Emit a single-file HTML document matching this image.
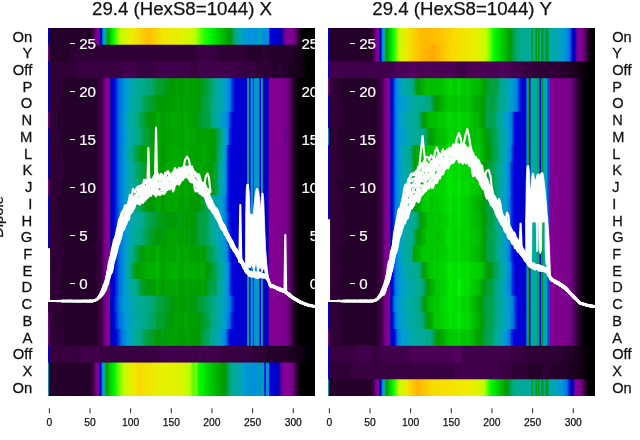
<!DOCTYPE html>
<html><head><meta charset="utf-8"><title>chart</title>
<style>
html,body{margin:0;padding:0;background:#fff;}
body{width:640px;height:440px;overflow:hidden;font-family:"Liberation Sans",sans-serif;}
svg{display:block;will-change:transform;}
text{font-family:"Liberation Sans",sans-serif;font-size:14px;fill:#111;stroke:#111;stroke-width:0.25px;}
.xt{font-size:10.3px;}
.w{fill:#fff;stroke:#fff;stroke-width:0.2px;}
.ti{font-size:17.6px;}
</style></head><body>
<svg width="640" height="440" viewBox="0 0 640 440">
<defs>
<linearGradient id="g0_0"><stop offset="0.15%" stop-color="#0000dd"/><stop offset="0.46%" stop-color="#25002b"/><stop offset="16.06%" stop-color="#25002b"/><stop offset="17.28%" stop-color="#4b0055"/><stop offset="17.89%" stop-color="#7a008b"/><stop offset="19.11%" stop-color="#83009a"/><stop offset="19.42%" stop-color="#2300a6"/><stop offset="19.72%" stop-color="#0000bd"/><stop offset="20.03%" stop-color="#0000dd"/><stop offset="20.34%" stop-color="#005ddd"/><stop offset="20.64%" stop-color="#008ddd"/><stop offset="21.25%" stop-color="#00aaa8"/><stop offset="21.56%" stop-color="#00aa93"/><stop offset="21.87%" stop-color="#00a668"/><stop offset="22.17%" stop-color="#009b13"/><stop offset="22.48%" stop-color="#00a200"/><stop offset="24.31%" stop-color="#00f700"/><stop offset="24.92%" stop-color="#1dff00"/><stop offset="25.54%" stop-color="#58ff00"/><stop offset="25.84%" stop-color="#67ff00"/><stop offset="26.45%" stop-color="#a1ff00"/><stop offset="27.06%" stop-color="#bcff00"/><stop offset="31.35%" stop-color="#efed00"/><stop offset="37.77%" stop-color="#ffbd00"/><stop offset="43.27%" stop-color="#f1e700"/><stop offset="50.61%" stop-color="#e4f100"/><stop offset="54.89%" stop-color="#bcff00"/><stop offset="55.81%" stop-color="#a1ff00"/><stop offset="58.26%" stop-color="#2cff00"/><stop offset="58.56%" stop-color="#2cff00"/><stop offset="58.87%" stop-color="#1dff00"/><stop offset="59.17%" stop-color="#1dff00"/><stop offset="59.48%" stop-color="#0fff00"/><stop offset="59.79%" stop-color="#0fff00"/><stop offset="60.09%" stop-color="#00ff00"/><stop offset="68.04%" stop-color="#009c00"/><stop offset="68.35%" stop-color="#009a08"/><stop offset="70.18%" stop-color="#00aa88"/><stop offset="72.32%" stop-color="#00a6b7"/><stop offset="74.46%" stop-color="#0092dd"/><stop offset="74.77%" stop-color="#00aaa3"/><stop offset="75.08%" stop-color="#0092dd"/><stop offset="75.99%" stop-color="#0092dd"/><stop offset="76.30%" stop-color="#00aaa3"/><stop offset="76.61%" stop-color="#0092dd"/><stop offset="78.75%" stop-color="#0092dd"/><stop offset="79.05%" stop-color="#00aaa3"/><stop offset="79.36%" stop-color="#0092dd"/><stop offset="79.66%" stop-color="#00aaab"/><stop offset="79.97%" stop-color="#0092dd"/><stop offset="82.72%" stop-color="#008ddd"/><stop offset="83.03%" stop-color="#0000dd"/><stop offset="86.39%" stop-color="#0000c5"/><stop offset="87.31%" stop-color="#0000ad"/><stop offset="87.92%" stop-color="#2d00a4"/><stop offset="88.53%" stop-color="#63009e"/><stop offset="89.45%" stop-color="#83009a"/><stop offset="91.28%" stop-color="#7f0090"/><stop offset="92.20%" stop-color="#770088"/><stop offset="94.04%" stop-color="#25002b"/><stop offset="95.26%" stop-color="#000000"/><stop offset="99.85%" stop-color="#000000"/></linearGradient>
<linearGradient id="g0_1"><stop offset="0.15%" stop-color="#7d008e"/><stop offset="0.46%" stop-color="#25002b"/><stop offset="7.80%" stop-color="#25002b"/><stop offset="8.41%" stop-color="#2f0035"/><stop offset="55.20%" stop-color="#2f0035"/><stop offset="55.81%" stop-color="#380040"/><stop offset="63.15%" stop-color="#380040"/><stop offset="63.76%" stop-color="#2f0035"/><stop offset="74.46%" stop-color="#2f0035"/><stop offset="75.08%" stop-color="#25002b"/><stop offset="79.97%" stop-color="#25002b"/><stop offset="80.58%" stop-color="#2f0035"/><stop offset="81.80%" stop-color="#2f0035"/><stop offset="82.42%" stop-color="#25002b"/><stop offset="91.59%" stop-color="#25002b"/><stop offset="92.20%" stop-color="#1c0020"/><stop offset="93.73%" stop-color="#1c0020"/><stop offset="94.34%" stop-color="#130015"/><stop offset="95.26%" stop-color="#130015"/><stop offset="95.87%" stop-color="#09000b"/><stop offset="96.79%" stop-color="#09000b"/><stop offset="97.40%" stop-color="#000000"/><stop offset="99.85%" stop-color="#000000"/></linearGradient>
<linearGradient id="g0_2"><stop offset="0.15%" stop-color="#0000dd"/><stop offset="0.46%" stop-color="#2f0035"/><stop offset="10.24%" stop-color="#2f0035"/><stop offset="10.86%" stop-color="#380040"/><stop offset="27.68%" stop-color="#380040"/><stop offset="28.29%" stop-color="#41004b"/><stop offset="32.57%" stop-color="#41004b"/><stop offset="33.18%" stop-color="#380040"/><stop offset="39.91%" stop-color="#380040"/><stop offset="40.52%" stop-color="#41004b"/><stop offset="52.75%" stop-color="#41004b"/><stop offset="53.36%" stop-color="#380040"/><stop offset="55.81%" stop-color="#380040"/><stop offset="56.42%" stop-color="#41004b"/><stop offset="70.49%" stop-color="#41004b"/><stop offset="71.10%" stop-color="#380040"/><stop offset="77.52%" stop-color="#380040"/><stop offset="78.13%" stop-color="#2f0035"/><stop offset="83.64%" stop-color="#2f0035"/><stop offset="84.25%" stop-color="#25002b"/><stop offset="85.47%" stop-color="#25002b"/><stop offset="86.09%" stop-color="#2f0035"/><stop offset="87.31%" stop-color="#2f0035"/><stop offset="87.92%" stop-color="#25002b"/><stop offset="89.76%" stop-color="#25002b"/><stop offset="90.37%" stop-color="#1c0020"/><stop offset="93.12%" stop-color="#1c0020"/><stop offset="93.73%" stop-color="#130015"/><stop offset="94.95%" stop-color="#130015"/><stop offset="95.57%" stop-color="#09000b"/><stop offset="96.48%" stop-color="#09000b"/><stop offset="97.09%" stop-color="#000000"/><stop offset="99.85%" stop-color="#000000"/></linearGradient>
<linearGradient id="g0_3"><stop offset="0.15%" stop-color="#0000dd"/><stop offset="0.46%" stop-color="#2f0035"/><stop offset="5.35%" stop-color="#2f0035"/><stop offset="5.96%" stop-color="#25002b"/><stop offset="17.89%" stop-color="#25002b"/><stop offset="18.50%" stop-color="#2f0035"/><stop offset="19.72%" stop-color="#380040"/><stop offset="20.34%" stop-color="#4b0055"/><stop offset="21.25%" stop-color="#770088"/><stop offset="23.09%" stop-color="#870098"/><stop offset="23.39%" stop-color="#1800a7"/><stop offset="23.70%" stop-color="#0000c1"/><stop offset="24.62%" stop-color="#0000dd"/><stop offset="25.23%" stop-color="#001cdd"/><stop offset="26.76%" stop-color="#0070dd"/><stop offset="28.90%" stop-color="#0098dd"/><stop offset="31.96%" stop-color="#00aaa5"/><stop offset="36.24%" stop-color="#00aa88"/><stop offset="37.46%" stop-color="#00a773"/><stop offset="38.38%" stop-color="#00a773"/><stop offset="38.99%" stop-color="#00a668"/><stop offset="39.60%" stop-color="#00a668"/><stop offset="39.91%" stop-color="#00a353"/><stop offset="40.21%" stop-color="#00a353"/><stop offset="40.52%" stop-color="#009f33"/><stop offset="41.13%" stop-color="#009f33"/><stop offset="41.74%" stop-color="#009e28"/><stop offset="42.66%" stop-color="#009f33"/><stop offset="43.27%" stop-color="#009e28"/><stop offset="43.58%" stop-color="#009e28"/><stop offset="43.88%" stop-color="#009b13"/><stop offset="44.50%" stop-color="#009b13"/><stop offset="45.11%" stop-color="#009a08"/><stop offset="47.55%" stop-color="#009c00"/><stop offset="48.17%" stop-color="#00a400"/><stop offset="48.78%" stop-color="#009a00"/><stop offset="49.08%" stop-color="#00ac00"/><stop offset="49.39%" stop-color="#009a00"/><stop offset="50.61%" stop-color="#009a00"/><stop offset="51.22%" stop-color="#00a400"/><stop offset="51.83%" stop-color="#00a400"/><stop offset="52.45%" stop-color="#009a08"/><stop offset="52.75%" stop-color="#00af00"/><stop offset="53.06%" stop-color="#009a08"/><stop offset="54.28%" stop-color="#00a200"/><stop offset="56.42%" stop-color="#009a00"/><stop offset="57.34%" stop-color="#009b13"/><stop offset="57.95%" stop-color="#009e28"/><stop offset="58.56%" stop-color="#009e28"/><stop offset="59.79%" stop-color="#00a13d"/><stop offset="60.40%" stop-color="#00a248"/><stop offset="61.62%" stop-color="#00a773"/><stop offset="61.93%" stop-color="#00aa88"/><stop offset="65.29%" stop-color="#00a6b7"/><stop offset="66.82%" stop-color="#0098dd"/><stop offset="68.04%" stop-color="#0080dd"/><stop offset="68.35%" stop-color="#0070dd"/><stop offset="68.96%" stop-color="#0038dd"/><stop offset="70.18%" stop-color="#0000dd"/><stop offset="74.16%" stop-color="#0000c9"/><stop offset="74.46%" stop-color="#0000d1"/><stop offset="74.77%" stop-color="#00aa95"/><stop offset="75.08%" stop-color="#00aaa3"/><stop offset="75.38%" stop-color="#0000d1"/><stop offset="75.69%" stop-color="#0000d1"/><stop offset="75.99%" stop-color="#008add"/><stop offset="76.30%" stop-color="#0092dd"/><stop offset="76.61%" stop-color="#008add"/><stop offset="76.91%" stop-color="#0000dd"/><stop offset="77.22%" stop-color="#0092dd"/><stop offset="78.13%" stop-color="#0098dd"/><stop offset="78.44%" stop-color="#00aa9d"/><stop offset="78.75%" stop-color="#00aaa3"/><stop offset="79.05%" stop-color="#0092dd"/><stop offset="79.36%" stop-color="#0000dd"/><stop offset="79.66%" stop-color="#0000d1"/><stop offset="79.97%" stop-color="#00aaa3"/><stop offset="80.28%" stop-color="#00aaab"/><stop offset="80.58%" stop-color="#0000d1"/><stop offset="80.89%" stop-color="#0000c1"/><stop offset="81.19%" stop-color="#0000cd"/><stop offset="81.50%" stop-color="#0000bd"/><stop offset="81.80%" stop-color="#0000c9"/><stop offset="82.42%" stop-color="#0300aa"/><stop offset="82.72%" stop-color="#63009e"/><stop offset="83.03%" stop-color="#850096"/><stop offset="89.76%" stop-color="#79008a"/><stop offset="90.67%" stop-color="#5d006b"/><stop offset="91.28%" stop-color="#41004b"/><stop offset="92.51%" stop-color="#1c0020"/><stop offset="93.12%" stop-color="#130015"/><stop offset="94.34%" stop-color="#000000"/><stop offset="99.85%" stop-color="#000000"/></linearGradient>
<linearGradient id="g0_4"><stop offset="0.15%" stop-color="#0000dd"/><stop offset="0.46%" stop-color="#2f0035"/><stop offset="4.43%" stop-color="#2f0035"/><stop offset="5.05%" stop-color="#25002b"/><stop offset="17.89%" stop-color="#25002b"/><stop offset="18.50%" stop-color="#2f0035"/><stop offset="19.72%" stop-color="#380040"/><stop offset="20.34%" stop-color="#4b0055"/><stop offset="21.25%" stop-color="#770088"/><stop offset="23.09%" stop-color="#870098"/><stop offset="23.39%" stop-color="#1800a7"/><stop offset="23.70%" stop-color="#0000c1"/><stop offset="24.62%" stop-color="#0000dd"/><stop offset="25.23%" stop-color="#001cdd"/><stop offset="26.76%" stop-color="#0070dd"/><stop offset="29.20%" stop-color="#009bd7"/><stop offset="31.65%" stop-color="#00aaa0"/><stop offset="34.71%" stop-color="#00aa88"/><stop offset="36.24%" stop-color="#00a353"/><stop offset="37.77%" stop-color="#00a13d"/><stop offset="39.30%" stop-color="#009e28"/><stop offset="40.21%" stop-color="#009d1d"/><stop offset="40.52%" stop-color="#009a00"/><stop offset="40.83%" stop-color="#009a08"/><stop offset="42.05%" stop-color="#009c00"/><stop offset="42.35%" stop-color="#009a08"/><stop offset="43.58%" stop-color="#009a00"/><stop offset="47.86%" stop-color="#00a200"/><stop offset="48.17%" stop-color="#00a700"/><stop offset="48.78%" stop-color="#009c00"/><stop offset="49.08%" stop-color="#00af00"/><stop offset="49.39%" stop-color="#009c00"/><stop offset="50.61%" stop-color="#009c00"/><stop offset="50.92%" stop-color="#00a700"/><stop offset="51.83%" stop-color="#00a400"/><stop offset="52.45%" stop-color="#009a00"/><stop offset="52.75%" stop-color="#00af00"/><stop offset="53.06%" stop-color="#009a08"/><stop offset="54.28%" stop-color="#00a200"/><stop offset="56.12%" stop-color="#009a00"/><stop offset="56.73%" stop-color="#009b13"/><stop offset="57.34%" stop-color="#009d1d"/><stop offset="58.56%" stop-color="#00a13d"/><stop offset="59.79%" stop-color="#00a248"/><stop offset="61.01%" stop-color="#00a668"/><stop offset="62.23%" stop-color="#00aa8b"/><stop offset="65.29%" stop-color="#00a6b7"/><stop offset="66.82%" stop-color="#0098dd"/><stop offset="68.04%" stop-color="#0080dd"/><stop offset="68.35%" stop-color="#0070dd"/><stop offset="68.96%" stop-color="#0038dd"/><stop offset="70.18%" stop-color="#0000dd"/><stop offset="74.16%" stop-color="#0000c9"/><stop offset="74.46%" stop-color="#0000d1"/><stop offset="74.77%" stop-color="#00aa95"/><stop offset="75.08%" stop-color="#00aaa3"/><stop offset="75.38%" stop-color="#0000d1"/><stop offset="75.69%" stop-color="#0000d1"/><stop offset="75.99%" stop-color="#008add"/><stop offset="76.30%" stop-color="#0092dd"/><stop offset="76.61%" stop-color="#008add"/><stop offset="76.91%" stop-color="#0000dd"/><stop offset="77.22%" stop-color="#0092dd"/><stop offset="78.13%" stop-color="#0098dd"/><stop offset="78.44%" stop-color="#00aa9d"/><stop offset="78.75%" stop-color="#00aaa3"/><stop offset="79.05%" stop-color="#0092dd"/><stop offset="79.36%" stop-color="#0000dd"/><stop offset="79.66%" stop-color="#0000d1"/><stop offset="79.97%" stop-color="#00aaa3"/><stop offset="80.28%" stop-color="#00aaab"/><stop offset="80.58%" stop-color="#0000d1"/><stop offset="80.89%" stop-color="#0000c1"/><stop offset="81.19%" stop-color="#0000cd"/><stop offset="81.50%" stop-color="#0000bd"/><stop offset="81.80%" stop-color="#0000c9"/><stop offset="82.42%" stop-color="#0300aa"/><stop offset="82.72%" stop-color="#63009e"/><stop offset="83.03%" stop-color="#850096"/><stop offset="89.76%" stop-color="#79008a"/><stop offset="90.67%" stop-color="#5d006b"/><stop offset="91.28%" stop-color="#41004b"/><stop offset="92.51%" stop-color="#1c0020"/><stop offset="93.12%" stop-color="#130015"/><stop offset="94.34%" stop-color="#000000"/><stop offset="99.85%" stop-color="#000000"/></linearGradient>
<linearGradient id="g0_5"><stop offset="0.15%" stop-color="#810092"/><stop offset="0.46%" stop-color="#2f0035"/><stop offset="3.21%" stop-color="#2f0035"/><stop offset="3.82%" stop-color="#25002b"/><stop offset="17.89%" stop-color="#25002b"/><stop offset="18.50%" stop-color="#2f0035"/><stop offset="19.72%" stop-color="#380040"/><stop offset="20.34%" stop-color="#4b0055"/><stop offset="21.25%" stop-color="#770088"/><stop offset="23.09%" stop-color="#870098"/><stop offset="23.39%" stop-color="#1800a7"/><stop offset="23.70%" stop-color="#0000c1"/><stop offset="24.62%" stop-color="#0000dd"/><stop offset="25.23%" stop-color="#001cdd"/><stop offset="26.76%" stop-color="#0070dd"/><stop offset="28.90%" stop-color="#009bd7"/><stop offset="30.73%" stop-color="#00aaa3"/><stop offset="33.18%" stop-color="#00aa88"/><stop offset="34.10%" stop-color="#00a668"/><stop offset="34.71%" stop-color="#00a55d"/><stop offset="36.24%" stop-color="#009e28"/><stop offset="37.46%" stop-color="#009b13"/><stop offset="38.07%" stop-color="#009a08"/><stop offset="39.30%" stop-color="#009a00"/><stop offset="39.60%" stop-color="#009a08"/><stop offset="40.21%" stop-color="#009a00"/><stop offset="40.52%" stop-color="#00af00"/><stop offset="41.13%" stop-color="#00a700"/><stop offset="42.05%" stop-color="#00aa00"/><stop offset="42.35%" stop-color="#009a00"/><stop offset="43.27%" stop-color="#009a08"/><stop offset="44.50%" stop-color="#00a200"/><stop offset="46.94%" stop-color="#00aa00"/><stop offset="48.17%" stop-color="#00aa00"/><stop offset="48.47%" stop-color="#009c00"/><stop offset="48.78%" stop-color="#009c00"/><stop offset="49.08%" stop-color="#00b700"/><stop offset="49.39%" stop-color="#00a400"/><stop offset="50.61%" stop-color="#00a200"/><stop offset="51.22%" stop-color="#00ac00"/><stop offset="51.83%" stop-color="#00aa00"/><stop offset="52.45%" stop-color="#009c00"/><stop offset="52.75%" stop-color="#00b400"/><stop offset="53.06%" stop-color="#009c00"/><stop offset="53.98%" stop-color="#00a400"/><stop offset="55.20%" stop-color="#009a08"/><stop offset="55.50%" stop-color="#009b13"/><stop offset="55.81%" stop-color="#009a08"/><stop offset="57.34%" stop-color="#009e28"/><stop offset="57.95%" stop-color="#00a13d"/><stop offset="58.56%" stop-color="#00a248"/><stop offset="59.17%" stop-color="#00a13d"/><stop offset="60.40%" stop-color="#00a248"/><stop offset="61.31%" stop-color="#00a773"/><stop offset="61.62%" stop-color="#00aa8b"/><stop offset="64.68%" stop-color="#00a4bb"/><stop offset="65.29%" stop-color="#009ecf"/><stop offset="66.82%" stop-color="#008add"/><stop offset="67.43%" stop-color="#007ddd"/><stop offset="68.65%" stop-color="#001cdd"/><stop offset="69.27%" stop-color="#0000dd"/><stop offset="74.16%" stop-color="#0000c9"/><stop offset="74.46%" stop-color="#0000d1"/><stop offset="74.77%" stop-color="#00aa95"/><stop offset="75.08%" stop-color="#00aaa3"/><stop offset="75.38%" stop-color="#0000d1"/><stop offset="75.69%" stop-color="#0000d1"/><stop offset="75.99%" stop-color="#008add"/><stop offset="76.30%" stop-color="#0092dd"/><stop offset="76.61%" stop-color="#008add"/><stop offset="76.91%" stop-color="#0000dd"/><stop offset="77.22%" stop-color="#0092dd"/><stop offset="78.13%" stop-color="#0098dd"/><stop offset="78.44%" stop-color="#00aa9d"/><stop offset="78.75%" stop-color="#00aaa3"/><stop offset="79.05%" stop-color="#0092dd"/><stop offset="79.36%" stop-color="#0000dd"/><stop offset="79.66%" stop-color="#0000d1"/><stop offset="79.97%" stop-color="#00aaa3"/><stop offset="80.28%" stop-color="#00aaab"/><stop offset="80.58%" stop-color="#0000d1"/><stop offset="80.89%" stop-color="#0000c1"/><stop offset="81.19%" stop-color="#0000cd"/><stop offset="81.50%" stop-color="#0000bd"/><stop offset="81.80%" stop-color="#0000c9"/><stop offset="82.42%" stop-color="#0300aa"/><stop offset="82.72%" stop-color="#63009e"/><stop offset="83.03%" stop-color="#850096"/><stop offset="89.76%" stop-color="#79008a"/><stop offset="90.67%" stop-color="#5d006b"/><stop offset="91.28%" stop-color="#41004b"/><stop offset="92.51%" stop-color="#1c0020"/><stop offset="93.12%" stop-color="#130015"/><stop offset="94.34%" stop-color="#000000"/><stop offset="99.85%" stop-color="#000000"/></linearGradient>
<linearGradient id="g0_6"><stop offset="0.15%" stop-color="#0000dd"/><stop offset="0.46%" stop-color="#2f0035"/><stop offset="4.43%" stop-color="#2f0035"/><stop offset="5.05%" stop-color="#25002b"/><stop offset="17.89%" stop-color="#25002b"/><stop offset="18.50%" stop-color="#2f0035"/><stop offset="19.72%" stop-color="#380040"/><stop offset="20.34%" stop-color="#4b0055"/><stop offset="21.25%" stop-color="#770088"/><stop offset="23.09%" stop-color="#870098"/><stop offset="23.39%" stop-color="#1800a7"/><stop offset="23.70%" stop-color="#0000c1"/><stop offset="24.62%" stop-color="#0000dd"/><stop offset="25.23%" stop-color="#001cdd"/><stop offset="26.76%" stop-color="#0070dd"/><stop offset="28.90%" stop-color="#0098dd"/><stop offset="30.43%" stop-color="#00aaab"/><stop offset="33.79%" stop-color="#00aa88"/><stop offset="35.02%" stop-color="#00a668"/><stop offset="35.63%" stop-color="#00a353"/><stop offset="35.93%" stop-color="#00a353"/><stop offset="36.24%" stop-color="#00a13d"/><stop offset="37.77%" stop-color="#009e28"/><stop offset="39.91%" stop-color="#009a08"/><stop offset="40.21%" stop-color="#009a08"/><stop offset="40.52%" stop-color="#00ac00"/><stop offset="42.05%" stop-color="#00aa00"/><stop offset="42.35%" stop-color="#009c00"/><stop offset="43.58%" stop-color="#009c00"/><stop offset="44.19%" stop-color="#00a700"/><stop offset="45.41%" stop-color="#009f00"/><stop offset="48.17%" stop-color="#00aa00"/><stop offset="48.47%" stop-color="#009c00"/><stop offset="48.78%" stop-color="#009c00"/><stop offset="49.08%" stop-color="#00b200"/><stop offset="49.39%" stop-color="#00a200"/><stop offset="50.61%" stop-color="#009f00"/><stop offset="51.22%" stop-color="#00aa00"/><stop offset="51.83%" stop-color="#00ac00"/><stop offset="52.45%" stop-color="#00a200"/><stop offset="52.75%" stop-color="#00ba00"/><stop offset="53.06%" stop-color="#00a200"/><stop offset="54.28%" stop-color="#00aa00"/><stop offset="56.73%" stop-color="#009c00"/><stop offset="57.34%" stop-color="#00a400"/><stop offset="61.93%" stop-color="#009c00"/><stop offset="62.54%" stop-color="#009b13"/><stop offset="63.15%" stop-color="#009f33"/><stop offset="64.07%" stop-color="#00a353"/><stop offset="64.37%" stop-color="#00a353"/><stop offset="64.98%" stop-color="#00aa8b"/><stop offset="66.51%" stop-color="#009fcb"/><stop offset="66.82%" stop-color="#009adb"/><stop offset="67.43%" stop-color="#0082dd"/><stop offset="67.74%" stop-color="#005ddd"/><stop offset="68.04%" stop-color="#0025dd"/><stop offset="68.65%" stop-color="#0013dd"/><stop offset="68.96%" stop-color="#0000dd"/><stop offset="74.16%" stop-color="#0000c9"/><stop offset="74.46%" stop-color="#0000d1"/><stop offset="74.77%" stop-color="#00aa95"/><stop offset="75.08%" stop-color="#00aaa3"/><stop offset="75.38%" stop-color="#0000d1"/><stop offset="75.69%" stop-color="#0000d1"/><stop offset="75.99%" stop-color="#008add"/><stop offset="76.30%" stop-color="#0092dd"/><stop offset="76.61%" stop-color="#008add"/><stop offset="76.91%" stop-color="#0000dd"/><stop offset="77.22%" stop-color="#0092dd"/><stop offset="78.13%" stop-color="#0098dd"/><stop offset="78.44%" stop-color="#00aa9d"/><stop offset="78.75%" stop-color="#00aaa3"/><stop offset="79.05%" stop-color="#0092dd"/><stop offset="79.36%" stop-color="#0000dd"/><stop offset="79.66%" stop-color="#0000d1"/><stop offset="79.97%" stop-color="#00aaa3"/><stop offset="80.28%" stop-color="#00aaab"/><stop offset="80.58%" stop-color="#0000d1"/><stop offset="80.89%" stop-color="#0000c1"/><stop offset="81.19%" stop-color="#0000cd"/><stop offset="81.50%" stop-color="#0000bd"/><stop offset="81.80%" stop-color="#0000c9"/><stop offset="82.42%" stop-color="#0300aa"/><stop offset="82.72%" stop-color="#63009e"/><stop offset="83.03%" stop-color="#850096"/><stop offset="88.53%" stop-color="#7d008e"/><stop offset="88.84%" stop-color="#0000d1"/><stop offset="89.14%" stop-color="#7a008b"/><stop offset="90.06%" stop-color="#700080"/><stop offset="90.67%" stop-color="#5d006b"/><stop offset="91.28%" stop-color="#41004b"/><stop offset="92.51%" stop-color="#1c0020"/><stop offset="93.12%" stop-color="#130015"/><stop offset="94.34%" stop-color="#000000"/><stop offset="99.85%" stop-color="#000000"/></linearGradient>
<linearGradient id="g0_7"><stop offset="0.15%" stop-color="#0000dd"/><stop offset="0.46%" stop-color="#2f0035"/><stop offset="5.35%" stop-color="#2f0035"/><stop offset="5.96%" stop-color="#25002b"/><stop offset="17.89%" stop-color="#25002b"/><stop offset="18.50%" stop-color="#2f0035"/><stop offset="19.72%" stop-color="#380040"/><stop offset="20.34%" stop-color="#4b0055"/><stop offset="21.25%" stop-color="#770088"/><stop offset="23.09%" stop-color="#870098"/><stop offset="23.39%" stop-color="#1800a7"/><stop offset="23.70%" stop-color="#0000c1"/><stop offset="24.62%" stop-color="#0000dd"/><stop offset="25.23%" stop-color="#001cdd"/><stop offset="26.76%" stop-color="#0070dd"/><stop offset="28.59%" stop-color="#0095dd"/><stop offset="30.43%" stop-color="#00aa9d"/><stop offset="31.65%" stop-color="#00aa88"/><stop offset="32.26%" stop-color="#00a668"/><stop offset="32.87%" stop-color="#00a248"/><stop offset="33.49%" stop-color="#00a13d"/><stop offset="34.10%" stop-color="#009e28"/><stop offset="34.71%" stop-color="#009d1d"/><stop offset="35.02%" stop-color="#009a08"/><stop offset="36.24%" stop-color="#00a200"/><stop offset="37.77%" stop-color="#00a700"/><stop offset="40.21%" stop-color="#009f00"/><stop offset="40.52%" stop-color="#00b400"/><stop offset="41.13%" stop-color="#00aa00"/><stop offset="42.05%" stop-color="#00aa00"/><stop offset="42.35%" stop-color="#009a00"/><stop offset="43.58%" stop-color="#009a00"/><stop offset="44.19%" stop-color="#00a400"/><stop offset="48.17%" stop-color="#00ac00"/><stop offset="48.47%" stop-color="#00a200"/><stop offset="48.78%" stop-color="#00a400"/><stop offset="49.08%" stop-color="#00b400"/><stop offset="49.39%" stop-color="#00a400"/><stop offset="50.61%" stop-color="#00a200"/><stop offset="51.22%" stop-color="#00ac00"/><stop offset="51.83%" stop-color="#00ac00"/><stop offset="52.45%" stop-color="#00a200"/><stop offset="52.75%" stop-color="#00b700"/><stop offset="53.06%" stop-color="#009c00"/><stop offset="54.28%" stop-color="#00a700"/><stop offset="55.50%" stop-color="#009f00"/><stop offset="56.73%" stop-color="#00a200"/><stop offset="57.95%" stop-color="#00aa00"/><stop offset="62.23%" stop-color="#009a00"/><stop offset="62.54%" stop-color="#009a08"/><stop offset="63.46%" stop-color="#00a353"/><stop offset="64.07%" stop-color="#00a668"/><stop offset="64.98%" stop-color="#00aa98"/><stop offset="65.90%" stop-color="#00a2c3"/><stop offset="66.51%" stop-color="#0090dd"/><stop offset="66.82%" stop-color="#007ddd"/><stop offset="67.13%" stop-color="#0041dd"/><stop offset="67.74%" stop-color="#0013dd"/><stop offset="68.35%" stop-color="#0000dd"/><stop offset="74.16%" stop-color="#0000c9"/><stop offset="74.46%" stop-color="#0000d1"/><stop offset="74.77%" stop-color="#00aa95"/><stop offset="75.08%" stop-color="#00aaa3"/><stop offset="75.38%" stop-color="#0000d1"/><stop offset="75.69%" stop-color="#0000d1"/><stop offset="75.99%" stop-color="#008add"/><stop offset="76.30%" stop-color="#0092dd"/><stop offset="76.61%" stop-color="#008add"/><stop offset="76.91%" stop-color="#0000dd"/><stop offset="77.22%" stop-color="#0092dd"/><stop offset="78.13%" stop-color="#0098dd"/><stop offset="78.44%" stop-color="#00aa9d"/><stop offset="78.75%" stop-color="#00aaa3"/><stop offset="79.05%" stop-color="#0092dd"/><stop offset="79.36%" stop-color="#0000dd"/><stop offset="79.66%" stop-color="#0000d1"/><stop offset="79.97%" stop-color="#00aaa3"/><stop offset="80.28%" stop-color="#00aaab"/><stop offset="80.58%" stop-color="#0000d1"/><stop offset="80.89%" stop-color="#0000c1"/><stop offset="81.19%" stop-color="#0000cd"/><stop offset="81.50%" stop-color="#0000bd"/><stop offset="81.80%" stop-color="#0000c9"/><stop offset="82.42%" stop-color="#0300aa"/><stop offset="82.72%" stop-color="#63009e"/><stop offset="83.03%" stop-color="#850096"/><stop offset="89.76%" stop-color="#79008a"/><stop offset="90.67%" stop-color="#5d006b"/><stop offset="91.28%" stop-color="#41004b"/><stop offset="92.51%" stop-color="#1c0020"/><stop offset="93.12%" stop-color="#130015"/><stop offset="94.34%" stop-color="#000000"/><stop offset="99.85%" stop-color="#000000"/></linearGradient>
<linearGradient id="g0_8"><stop offset="0.15%" stop-color="#0000dd"/><stop offset="0.46%" stop-color="#2f0035"/><stop offset="5.96%" stop-color="#2f0035"/><stop offset="6.57%" stop-color="#25002b"/><stop offset="17.89%" stop-color="#25002b"/><stop offset="18.50%" stop-color="#2f0035"/><stop offset="19.72%" stop-color="#380040"/><stop offset="20.34%" stop-color="#4b0055"/><stop offset="21.25%" stop-color="#770088"/><stop offset="23.09%" stop-color="#870098"/><stop offset="23.39%" stop-color="#1800a7"/><stop offset="23.70%" stop-color="#0000c1"/><stop offset="24.62%" stop-color="#0000dd"/><stop offset="25.23%" stop-color="#001cdd"/><stop offset="26.76%" stop-color="#0070dd"/><stop offset="28.90%" stop-color="#009adb"/><stop offset="30.73%" stop-color="#00aaa3"/><stop offset="32.57%" stop-color="#00aa8b"/><stop offset="32.87%" stop-color="#00a773"/><stop offset="34.10%" stop-color="#00a248"/><stop offset="34.40%" stop-color="#00a55d"/><stop offset="35.32%" stop-color="#00a13d"/><stop offset="35.93%" stop-color="#009f33"/><stop offset="36.85%" stop-color="#009b13"/><stop offset="38.99%" stop-color="#009f00"/><stop offset="40.21%" stop-color="#00a200"/><stop offset="40.52%" stop-color="#00b200"/><stop offset="41.74%" stop-color="#00aa00"/><stop offset="42.05%" stop-color="#00aa00"/><stop offset="42.35%" stop-color="#009a00"/><stop offset="43.58%" stop-color="#009a00"/><stop offset="43.88%" stop-color="#00aa00"/><stop offset="48.17%" stop-color="#00af00"/><stop offset="48.47%" stop-color="#00a200"/><stop offset="48.78%" stop-color="#00a200"/><stop offset="49.08%" stop-color="#00b400"/><stop offset="49.39%" stop-color="#00a400"/><stop offset="50.61%" stop-color="#00a400"/><stop offset="51.22%" stop-color="#00af00"/><stop offset="51.83%" stop-color="#00ac00"/><stop offset="52.45%" stop-color="#00a200"/><stop offset="52.75%" stop-color="#00ba00"/><stop offset="53.06%" stop-color="#00a200"/><stop offset="54.28%" stop-color="#00aa00"/><stop offset="56.73%" stop-color="#009f00"/><stop offset="57.03%" stop-color="#00aa00"/><stop offset="61.01%" stop-color="#009c00"/><stop offset="62.84%" stop-color="#00a13d"/><stop offset="63.15%" stop-color="#00a13d"/><stop offset="63.76%" stop-color="#00a773"/><stop offset="64.07%" stop-color="#00aa8b"/><stop offset="65.60%" stop-color="#00a3bf"/><stop offset="66.21%" stop-color="#0095dd"/><stop offset="66.82%" stop-color="#0078dd"/><stop offset="67.13%" stop-color="#0038dd"/><stop offset="67.74%" stop-color="#0013dd"/><stop offset="68.35%" stop-color="#0000dd"/><stop offset="74.16%" stop-color="#0000c9"/><stop offset="74.46%" stop-color="#0000d1"/><stop offset="74.77%" stop-color="#00aa95"/><stop offset="75.08%" stop-color="#00aaa3"/><stop offset="75.38%" stop-color="#0000d1"/><stop offset="75.69%" stop-color="#0000d1"/><stop offset="75.99%" stop-color="#008add"/><stop offset="76.30%" stop-color="#0092dd"/><stop offset="76.61%" stop-color="#008add"/><stop offset="76.91%" stop-color="#0000dd"/><stop offset="77.22%" stop-color="#0092dd"/><stop offset="78.13%" stop-color="#0098dd"/><stop offset="78.44%" stop-color="#00aa9d"/><stop offset="78.75%" stop-color="#00aaa3"/><stop offset="79.05%" stop-color="#0092dd"/><stop offset="79.36%" stop-color="#0000dd"/><stop offset="79.66%" stop-color="#0000d1"/><stop offset="79.97%" stop-color="#00aaa3"/><stop offset="80.28%" stop-color="#00aaab"/><stop offset="80.58%" stop-color="#0000d1"/><stop offset="80.89%" stop-color="#0000c1"/><stop offset="81.19%" stop-color="#0000cd"/><stop offset="81.50%" stop-color="#0000bd"/><stop offset="81.80%" stop-color="#0000c9"/><stop offset="82.42%" stop-color="#0300aa"/><stop offset="82.72%" stop-color="#63009e"/><stop offset="83.03%" stop-color="#850096"/><stop offset="89.76%" stop-color="#79008a"/><stop offset="90.67%" stop-color="#5d006b"/><stop offset="91.28%" stop-color="#41004b"/><stop offset="92.51%" stop-color="#1c0020"/><stop offset="93.12%" stop-color="#130015"/><stop offset="94.34%" stop-color="#000000"/><stop offset="99.85%" stop-color="#000000"/></linearGradient>
<linearGradient id="g0_9"><stop offset="0.15%" stop-color="#850096"/><stop offset="0.46%" stop-color="#2f0035"/><stop offset="5.05%" stop-color="#2f0035"/><stop offset="5.66%" stop-color="#25002b"/><stop offset="17.89%" stop-color="#25002b"/><stop offset="18.50%" stop-color="#2f0035"/><stop offset="19.72%" stop-color="#380040"/><stop offset="20.34%" stop-color="#4b0055"/><stop offset="21.25%" stop-color="#770088"/><stop offset="23.09%" stop-color="#870098"/><stop offset="23.39%" stop-color="#1800a7"/><stop offset="23.70%" stop-color="#0000c1"/><stop offset="24.62%" stop-color="#0000dd"/><stop offset="25.23%" stop-color="#001cdd"/><stop offset="26.76%" stop-color="#0070dd"/><stop offset="28.90%" stop-color="#009bd7"/><stop offset="30.73%" stop-color="#00aaa8"/><stop offset="33.18%" stop-color="#00aa8b"/><stop offset="33.49%" stop-color="#00a773"/><stop offset="34.10%" stop-color="#00a55d"/><stop offset="34.71%" stop-color="#00a353"/><stop offset="35.63%" stop-color="#009f33"/><stop offset="36.24%" stop-color="#009e28"/><stop offset="36.85%" stop-color="#009d1d"/><stop offset="37.16%" stop-color="#009a08"/><stop offset="38.38%" stop-color="#009a00"/><stop offset="40.21%" stop-color="#009c00"/><stop offset="40.52%" stop-color="#00b400"/><stop offset="40.83%" stop-color="#00aa00"/><stop offset="42.05%" stop-color="#00a700"/><stop offset="42.35%" stop-color="#009a08"/><stop offset="44.80%" stop-color="#00a700"/><stop offset="48.17%" stop-color="#00ac00"/><stop offset="48.78%" stop-color="#00a200"/><stop offset="49.08%" stop-color="#00b400"/><stop offset="49.39%" stop-color="#00a200"/><stop offset="50.61%" stop-color="#009f00"/><stop offset="51.22%" stop-color="#00aa00"/><stop offset="51.83%" stop-color="#00aa00"/><stop offset="52.45%" stop-color="#009f00"/><stop offset="52.75%" stop-color="#00b200"/><stop offset="53.06%" stop-color="#009c00"/><stop offset="54.28%" stop-color="#00a400"/><stop offset="56.73%" stop-color="#009c00"/><stop offset="57.34%" stop-color="#00a200"/><stop offset="59.17%" stop-color="#009c00"/><stop offset="60.09%" stop-color="#00a400"/><stop offset="61.31%" stop-color="#009a08"/><stop offset="62.84%" stop-color="#00a13d"/><stop offset="63.15%" stop-color="#00a13d"/><stop offset="64.07%" stop-color="#00aa93"/><stop offset="65.29%" stop-color="#00a4bb"/><stop offset="65.90%" stop-color="#009adb"/><stop offset="66.51%" stop-color="#0088dd"/><stop offset="66.82%" stop-color="#0078dd"/><stop offset="67.13%" stop-color="#0038dd"/><stop offset="67.74%" stop-color="#0013dd"/><stop offset="68.35%" stop-color="#0000dd"/><stop offset="74.16%" stop-color="#0000c9"/><stop offset="74.46%" stop-color="#0000d1"/><stop offset="74.77%" stop-color="#00aa95"/><stop offset="75.08%" stop-color="#00aaa3"/><stop offset="75.38%" stop-color="#0000d1"/><stop offset="75.69%" stop-color="#0000d1"/><stop offset="75.99%" stop-color="#008add"/><stop offset="76.30%" stop-color="#0092dd"/><stop offset="76.61%" stop-color="#008add"/><stop offset="76.91%" stop-color="#0000dd"/><stop offset="77.22%" stop-color="#0092dd"/><stop offset="78.13%" stop-color="#0098dd"/><stop offset="78.44%" stop-color="#00aa9d"/><stop offset="78.75%" stop-color="#00aaa3"/><stop offset="79.05%" stop-color="#0092dd"/><stop offset="79.36%" stop-color="#0000dd"/><stop offset="79.66%" stop-color="#0000d1"/><stop offset="79.97%" stop-color="#00aaa3"/><stop offset="80.28%" stop-color="#00aaab"/><stop offset="80.58%" stop-color="#0000d1"/><stop offset="80.89%" stop-color="#0000c1"/><stop offset="81.19%" stop-color="#0000cd"/><stop offset="81.50%" stop-color="#0000bd"/><stop offset="81.80%" stop-color="#0000c9"/><stop offset="82.42%" stop-color="#0300aa"/><stop offset="82.72%" stop-color="#63009e"/><stop offset="83.03%" stop-color="#850096"/><stop offset="89.76%" stop-color="#79008a"/><stop offset="90.67%" stop-color="#5d006b"/><stop offset="91.28%" stop-color="#41004b"/><stop offset="92.51%" stop-color="#1c0020"/><stop offset="93.12%" stop-color="#130015"/><stop offset="94.34%" stop-color="#000000"/><stop offset="99.85%" stop-color="#000000"/></linearGradient>
<linearGradient id="g0_10"><stop offset="0.15%" stop-color="#0000dd"/><stop offset="0.46%" stop-color="#2f0035"/><stop offset="3.52%" stop-color="#2f0035"/><stop offset="4.13%" stop-color="#25002b"/><stop offset="17.89%" stop-color="#25002b"/><stop offset="18.50%" stop-color="#2f0035"/><stop offset="19.72%" stop-color="#380040"/><stop offset="20.34%" stop-color="#4b0055"/><stop offset="21.25%" stop-color="#770088"/><stop offset="23.09%" stop-color="#870098"/><stop offset="23.39%" stop-color="#1800a7"/><stop offset="23.70%" stop-color="#0000c1"/><stop offset="24.62%" stop-color="#0000dd"/><stop offset="25.23%" stop-color="#001cdd"/><stop offset="26.76%" stop-color="#0070dd"/><stop offset="28.90%" stop-color="#009adb"/><stop offset="30.73%" stop-color="#00aaa5"/><stop offset="32.87%" stop-color="#00aa8b"/><stop offset="33.49%" stop-color="#00a773"/><stop offset="33.79%" stop-color="#00a55d"/><stop offset="34.40%" stop-color="#00a353"/><stop offset="35.63%" stop-color="#009e28"/><stop offset="36.85%" stop-color="#009b13"/><stop offset="37.46%" stop-color="#009a00"/><stop offset="38.69%" stop-color="#009a00"/><stop offset="39.91%" stop-color="#009a08"/><stop offset="40.21%" stop-color="#009a08"/><stop offset="40.52%" stop-color="#00af00"/><stop offset="41.13%" stop-color="#00a400"/><stop offset="42.05%" stop-color="#00aa00"/><stop offset="42.35%" stop-color="#009a00"/><stop offset="43.58%" stop-color="#009a00"/><stop offset="44.19%" stop-color="#00a400"/><stop offset="47.55%" stop-color="#00a700"/><stop offset="48.17%" stop-color="#00ac00"/><stop offset="48.47%" stop-color="#009f00"/><stop offset="48.78%" stop-color="#009f00"/><stop offset="49.08%" stop-color="#00af00"/><stop offset="49.39%" stop-color="#009f00"/><stop offset="50.61%" stop-color="#009c00"/><stop offset="51.22%" stop-color="#00a700"/><stop offset="51.83%" stop-color="#00a400"/><stop offset="52.45%" stop-color="#009a08"/><stop offset="52.75%" stop-color="#00af00"/><stop offset="53.06%" stop-color="#009a08"/><stop offset="54.59%" stop-color="#009a00"/><stop offset="55.81%" stop-color="#009a08"/><stop offset="56.42%" stop-color="#009a00"/><stop offset="57.03%" stop-color="#009a08"/><stop offset="57.65%" stop-color="#009e28"/><stop offset="59.48%" stop-color="#00a248"/><stop offset="60.09%" stop-color="#00a353"/><stop offset="60.70%" stop-color="#00a668"/><stop offset="61.31%" stop-color="#00aa8b"/><stop offset="64.68%" stop-color="#009fcb"/><stop offset="65.60%" stop-color="#0092dd"/><stop offset="66.51%" stop-color="#0078dd"/><stop offset="67.13%" stop-color="#0038dd"/><stop offset="67.74%" stop-color="#0013dd"/><stop offset="68.35%" stop-color="#0000dd"/><stop offset="74.16%" stop-color="#0000c9"/><stop offset="74.46%" stop-color="#0000d1"/><stop offset="74.77%" stop-color="#00aa95"/><stop offset="75.08%" stop-color="#00aaa3"/><stop offset="75.38%" stop-color="#0000d1"/><stop offset="75.69%" stop-color="#0000d1"/><stop offset="75.99%" stop-color="#008add"/><stop offset="76.30%" stop-color="#0092dd"/><stop offset="76.61%" stop-color="#008add"/><stop offset="76.91%" stop-color="#0000dd"/><stop offset="77.22%" stop-color="#0092dd"/><stop offset="78.13%" stop-color="#0098dd"/><stop offset="78.44%" stop-color="#00aa9d"/><stop offset="78.75%" stop-color="#00aaa3"/><stop offset="79.05%" stop-color="#0092dd"/><stop offset="79.36%" stop-color="#0000dd"/><stop offset="79.66%" stop-color="#0000d1"/><stop offset="79.97%" stop-color="#00aaa3"/><stop offset="80.28%" stop-color="#00aaab"/><stop offset="80.58%" stop-color="#0000d1"/><stop offset="80.89%" stop-color="#0000c1"/><stop offset="81.19%" stop-color="#0000cd"/><stop offset="81.50%" stop-color="#0000bd"/><stop offset="81.80%" stop-color="#0000c9"/><stop offset="82.42%" stop-color="#0300aa"/><stop offset="82.72%" stop-color="#63009e"/><stop offset="83.03%" stop-color="#850096"/><stop offset="89.76%" stop-color="#79008a"/><stop offset="90.67%" stop-color="#5d006b"/><stop offset="91.28%" stop-color="#41004b"/><stop offset="92.51%" stop-color="#1c0020"/><stop offset="93.12%" stop-color="#130015"/><stop offset="94.34%" stop-color="#000000"/><stop offset="99.85%" stop-color="#000000"/></linearGradient>
<linearGradient id="g0_11"><stop offset="0.15%" stop-color="#0000dd"/><stop offset="0.46%" stop-color="#2f0035"/><stop offset="4.13%" stop-color="#2f0035"/><stop offset="4.74%" stop-color="#25002b"/><stop offset="17.89%" stop-color="#25002b"/><stop offset="18.50%" stop-color="#2f0035"/><stop offset="19.72%" stop-color="#380040"/><stop offset="20.34%" stop-color="#4b0055"/><stop offset="21.25%" stop-color="#770088"/><stop offset="23.09%" stop-color="#870098"/><stop offset="23.39%" stop-color="#1800a7"/><stop offset="23.70%" stop-color="#0000c1"/><stop offset="24.62%" stop-color="#0000dd"/><stop offset="25.23%" stop-color="#001cdd"/><stop offset="26.76%" stop-color="#0070dd"/><stop offset="29.20%" stop-color="#009bd7"/><stop offset="31.65%" stop-color="#00aaa8"/><stop offset="35.63%" stop-color="#00aa88"/><stop offset="36.54%" stop-color="#00a668"/><stop offset="37.16%" stop-color="#00a55d"/><stop offset="37.77%" stop-color="#00a248"/><stop offset="38.38%" stop-color="#00a248"/><stop offset="39.60%" stop-color="#009f33"/><stop offset="39.91%" stop-color="#00a248"/><stop offset="40.21%" stop-color="#00a13d"/><stop offset="40.52%" stop-color="#009d1d"/><stop offset="41.13%" stop-color="#009e28"/><stop offset="42.05%" stop-color="#009a08"/><stop offset="42.35%" stop-color="#009d1d"/><stop offset="43.58%" stop-color="#009b13"/><stop offset="44.19%" stop-color="#009a08"/><stop offset="46.02%" stop-color="#009a08"/><stop offset="47.25%" stop-color="#009a00"/><stop offset="48.17%" stop-color="#009f00"/><stop offset="48.47%" stop-color="#009d1d"/><stop offset="48.78%" stop-color="#009d1d"/><stop offset="49.08%" stop-color="#00a400"/><stop offset="49.39%" stop-color="#009d1d"/><stop offset="50.00%" stop-color="#009d1d"/><stop offset="50.31%" stop-color="#009a08"/><stop offset="51.22%" stop-color="#00a200"/><stop offset="52.45%" stop-color="#009a00"/><stop offset="52.75%" stop-color="#00a200"/><stop offset="53.36%" stop-color="#009a00"/><stop offset="55.20%" stop-color="#009a08"/><stop offset="55.81%" stop-color="#009d1d"/><stop offset="56.42%" stop-color="#00a13d"/><stop offset="56.73%" stop-color="#00a248"/><stop offset="57.34%" stop-color="#00a13d"/><stop offset="57.95%" stop-color="#00a248"/><stop offset="58.56%" stop-color="#00a13d"/><stop offset="59.17%" stop-color="#00a248"/><stop offset="59.79%" stop-color="#00a353"/><stop offset="60.09%" stop-color="#00a773"/><stop offset="61.01%" stop-color="#00aa8d"/><stop offset="63.46%" stop-color="#00a7b3"/><stop offset="65.29%" stop-color="#0098dd"/><stop offset="66.82%" stop-color="#0078dd"/><stop offset="67.43%" stop-color="#0038dd"/><stop offset="68.65%" stop-color="#0000dd"/><stop offset="74.16%" stop-color="#0000c9"/><stop offset="74.46%" stop-color="#0000d1"/><stop offset="74.77%" stop-color="#00aa95"/><stop offset="75.08%" stop-color="#00aaa3"/><stop offset="75.38%" stop-color="#0000d1"/><stop offset="75.69%" stop-color="#0000d1"/><stop offset="75.99%" stop-color="#008add"/><stop offset="76.30%" stop-color="#0092dd"/><stop offset="76.61%" stop-color="#008add"/><stop offset="76.91%" stop-color="#0000dd"/><stop offset="77.22%" stop-color="#0092dd"/><stop offset="78.13%" stop-color="#0098dd"/><stop offset="78.44%" stop-color="#00aa9d"/><stop offset="78.75%" stop-color="#00aaa3"/><stop offset="79.05%" stop-color="#0092dd"/><stop offset="79.36%" stop-color="#0000dd"/><stop offset="79.66%" stop-color="#0000d1"/><stop offset="79.97%" stop-color="#00aaa3"/><stop offset="80.28%" stop-color="#00aaab"/><stop offset="80.58%" stop-color="#0000d1"/><stop offset="80.89%" stop-color="#0000c1"/><stop offset="81.19%" stop-color="#0000cd"/><stop offset="81.50%" stop-color="#0000bd"/><stop offset="81.80%" stop-color="#0000c9"/><stop offset="82.42%" stop-color="#0300aa"/><stop offset="82.72%" stop-color="#63009e"/><stop offset="83.03%" stop-color="#850096"/><stop offset="89.76%" stop-color="#79008a"/><stop offset="90.67%" stop-color="#5d006b"/><stop offset="91.28%" stop-color="#41004b"/><stop offset="92.51%" stop-color="#1c0020"/><stop offset="93.12%" stop-color="#130015"/><stop offset="94.34%" stop-color="#000000"/><stop offset="99.85%" stop-color="#000000"/></linearGradient>
<linearGradient id="g0_12"><stop offset="0.15%" stop-color="#0000dd"/><stop offset="0.46%" stop-color="#2f0035"/><stop offset="5.05%" stop-color="#2f0035"/><stop offset="5.66%" stop-color="#25002b"/><stop offset="17.89%" stop-color="#25002b"/><stop offset="18.50%" stop-color="#2f0035"/><stop offset="19.72%" stop-color="#380040"/><stop offset="20.34%" stop-color="#4b0055"/><stop offset="21.25%" stop-color="#770088"/><stop offset="23.09%" stop-color="#870098"/><stop offset="23.39%" stop-color="#1800a7"/><stop offset="23.70%" stop-color="#0000c1"/><stop offset="24.62%" stop-color="#0000dd"/><stop offset="25.23%" stop-color="#001cdd"/><stop offset="26.76%" stop-color="#0070dd"/><stop offset="29.20%" stop-color="#009bd7"/><stop offset="31.35%" stop-color="#00aaa0"/><stop offset="34.40%" stop-color="#00aa88"/><stop offset="35.93%" stop-color="#00a668"/><stop offset="37.16%" stop-color="#00a248"/><stop offset="37.77%" stop-color="#00a13d"/><stop offset="38.07%" stop-color="#00a13d"/><stop offset="38.38%" stop-color="#009e28"/><stop offset="39.60%" stop-color="#009d1d"/><stop offset="40.21%" stop-color="#009b13"/><stop offset="40.52%" stop-color="#009a00"/><stop offset="40.83%" stop-color="#009a08"/><stop offset="42.05%" stop-color="#009c00"/><stop offset="42.35%" stop-color="#009a08"/><stop offset="42.66%" stop-color="#009d1d"/><stop offset="43.58%" stop-color="#009a08"/><stop offset="44.50%" stop-color="#00a200"/><stop offset="48.17%" stop-color="#00a700"/><stop offset="48.78%" stop-color="#009c00"/><stop offset="49.08%" stop-color="#00af00"/><stop offset="49.39%" stop-color="#009c00"/><stop offset="50.61%" stop-color="#009c00"/><stop offset="50.92%" stop-color="#00a700"/><stop offset="52.45%" stop-color="#009a08"/><stop offset="52.75%" stop-color="#00ac00"/><stop offset="53.06%" stop-color="#009d1d"/><stop offset="53.36%" stop-color="#009d1d"/><stop offset="53.67%" stop-color="#009a00"/><stop offset="54.28%" stop-color="#009a00"/><stop offset="54.59%" stop-color="#009b13"/><stop offset="55.50%" stop-color="#009b13"/><stop offset="56.73%" stop-color="#00a13d"/><stop offset="57.34%" stop-color="#00a248"/><stop offset="57.95%" stop-color="#00a13d"/><stop offset="59.48%" stop-color="#00a353"/><stop offset="60.09%" stop-color="#00a55d"/><stop offset="60.70%" stop-color="#00a97d"/><stop offset="61.31%" stop-color="#00aa8d"/><stop offset="62.84%" stop-color="#00aa9d"/><stop offset="64.98%" stop-color="#009fcb"/><stop offset="65.90%" stop-color="#0095dd"/><stop offset="67.13%" stop-color="#007add"/><stop offset="68.04%" stop-color="#0025dd"/><stop offset="68.65%" stop-color="#0013dd"/><stop offset="68.96%" stop-color="#0000dd"/><stop offset="74.16%" stop-color="#0000c9"/><stop offset="74.46%" stop-color="#0000d1"/><stop offset="74.77%" stop-color="#00aa95"/><stop offset="75.08%" stop-color="#00aaa3"/><stop offset="75.38%" stop-color="#0000d1"/><stop offset="75.69%" stop-color="#0000d1"/><stop offset="75.99%" stop-color="#008add"/><stop offset="76.30%" stop-color="#0092dd"/><stop offset="76.61%" stop-color="#008add"/><stop offset="76.91%" stop-color="#0000dd"/><stop offset="77.22%" stop-color="#0092dd"/><stop offset="78.13%" stop-color="#0098dd"/><stop offset="78.44%" stop-color="#00aa9d"/><stop offset="78.75%" stop-color="#00aaa3"/><stop offset="79.05%" stop-color="#0092dd"/><stop offset="79.36%" stop-color="#0000dd"/><stop offset="79.66%" stop-color="#0000d1"/><stop offset="79.97%" stop-color="#00aaa3"/><stop offset="80.28%" stop-color="#00aaab"/><stop offset="80.58%" stop-color="#0000d1"/><stop offset="80.89%" stop-color="#0000c1"/><stop offset="81.19%" stop-color="#0000cd"/><stop offset="81.50%" stop-color="#0000bd"/><stop offset="81.80%" stop-color="#0000c9"/><stop offset="82.42%" stop-color="#0300aa"/><stop offset="82.72%" stop-color="#63009e"/><stop offset="83.03%" stop-color="#850096"/><stop offset="89.76%" stop-color="#79008a"/><stop offset="90.67%" stop-color="#5d006b"/><stop offset="91.28%" stop-color="#41004b"/><stop offset="92.51%" stop-color="#1c0020"/><stop offset="93.12%" stop-color="#130015"/><stop offset="94.34%" stop-color="#000000"/><stop offset="99.85%" stop-color="#000000"/></linearGradient>
<linearGradient id="g0_13"><stop offset="0.15%" stop-color="#0000dd"/><stop offset="0.46%" stop-color="#2f0035"/><stop offset="5.35%" stop-color="#2f0035"/><stop offset="5.96%" stop-color="#25002b"/><stop offset="17.89%" stop-color="#25002b"/><stop offset="18.50%" stop-color="#2f0035"/><stop offset="19.72%" stop-color="#380040"/><stop offset="20.34%" stop-color="#4b0055"/><stop offset="21.25%" stop-color="#770088"/><stop offset="23.09%" stop-color="#870098"/><stop offset="23.39%" stop-color="#1800a7"/><stop offset="23.70%" stop-color="#0000c1"/><stop offset="24.62%" stop-color="#0000dd"/><stop offset="25.23%" stop-color="#001cdd"/><stop offset="26.76%" stop-color="#0070dd"/><stop offset="28.90%" stop-color="#009bd7"/><stop offset="30.43%" stop-color="#00aaa0"/><stop offset="31.65%" stop-color="#00aa8d"/><stop offset="32.57%" stop-color="#00a55d"/><stop offset="34.10%" stop-color="#009e28"/><stop offset="34.71%" stop-color="#009d1d"/><stop offset="35.02%" stop-color="#009a08"/><stop offset="37.46%" stop-color="#00aa00"/><stop offset="38.99%" stop-color="#00a400"/><stop offset="40.21%" stop-color="#00a200"/><stop offset="40.52%" stop-color="#00b700"/><stop offset="41.13%" stop-color="#00ac00"/><stop offset="42.05%" stop-color="#00ac00"/><stop offset="42.35%" stop-color="#009c00"/><stop offset="43.58%" stop-color="#009c00"/><stop offset="44.19%" stop-color="#00a700"/><stop offset="47.25%" stop-color="#00a400"/><stop offset="48.17%" stop-color="#00af00"/><stop offset="48.78%" stop-color="#00a400"/><stop offset="49.08%" stop-color="#00b700"/><stop offset="49.39%" stop-color="#00a400"/><stop offset="50.61%" stop-color="#00a200"/><stop offset="51.22%" stop-color="#00ac00"/><stop offset="51.83%" stop-color="#00aa00"/><stop offset="52.45%" stop-color="#009f00"/><stop offset="52.75%" stop-color="#00b700"/><stop offset="53.06%" stop-color="#009c00"/><stop offset="53.36%" stop-color="#009a00"/><stop offset="53.98%" stop-color="#00a400"/><stop offset="56.73%" stop-color="#009c00"/><stop offset="57.34%" stop-color="#00a400"/><stop offset="58.56%" stop-color="#009a08"/><stop offset="59.79%" stop-color="#00a13d"/><stop offset="61.01%" stop-color="#00a353"/><stop offset="61.93%" stop-color="#00a55d"/><stop offset="62.54%" stop-color="#00a97d"/><stop offset="63.76%" stop-color="#00aa9b"/><stop offset="65.60%" stop-color="#00a0c7"/><stop offset="66.51%" stop-color="#0092dd"/><stop offset="67.13%" stop-color="#0082dd"/><stop offset="67.43%" stop-color="#0070dd"/><stop offset="68.04%" stop-color="#0025dd"/><stop offset="68.65%" stop-color="#0013dd"/><stop offset="68.96%" stop-color="#0000dd"/><stop offset="74.16%" stop-color="#0000c9"/><stop offset="74.46%" stop-color="#0000d1"/><stop offset="74.77%" stop-color="#00aa95"/><stop offset="75.08%" stop-color="#00aaa3"/><stop offset="75.38%" stop-color="#0000d1"/><stop offset="75.69%" stop-color="#0000d1"/><stop offset="75.99%" stop-color="#008add"/><stop offset="76.30%" stop-color="#0092dd"/><stop offset="76.61%" stop-color="#008add"/><stop offset="76.91%" stop-color="#0000dd"/><stop offset="77.22%" stop-color="#0092dd"/><stop offset="78.13%" stop-color="#0098dd"/><stop offset="78.44%" stop-color="#00aa9d"/><stop offset="78.75%" stop-color="#00aaa3"/><stop offset="79.05%" stop-color="#0092dd"/><stop offset="79.36%" stop-color="#0000dd"/><stop offset="79.66%" stop-color="#0000d1"/><stop offset="79.97%" stop-color="#00aaa3"/><stop offset="80.28%" stop-color="#00aaab"/><stop offset="80.58%" stop-color="#0000d1"/><stop offset="80.89%" stop-color="#0000c1"/><stop offset="81.19%" stop-color="#0000cd"/><stop offset="81.50%" stop-color="#0000bd"/><stop offset="81.80%" stop-color="#0000c9"/><stop offset="82.42%" stop-color="#0300aa"/><stop offset="82.72%" stop-color="#63009e"/><stop offset="83.03%" stop-color="#850096"/><stop offset="89.76%" stop-color="#79008a"/><stop offset="90.67%" stop-color="#5d006b"/><stop offset="91.28%" stop-color="#41004b"/><stop offset="92.51%" stop-color="#1c0020"/><stop offset="93.12%" stop-color="#130015"/><stop offset="94.34%" stop-color="#000000"/><stop offset="99.85%" stop-color="#000000"/></linearGradient>
<linearGradient id="g0_14"><stop offset="0.15%" stop-color="#0000dd"/><stop offset="0.46%" stop-color="#2f0035"/><stop offset="4.74%" stop-color="#2f0035"/><stop offset="5.35%" stop-color="#25002b"/><stop offset="17.89%" stop-color="#25002b"/><stop offset="18.50%" stop-color="#2f0035"/><stop offset="19.72%" stop-color="#380040"/><stop offset="20.34%" stop-color="#4b0055"/><stop offset="21.25%" stop-color="#770088"/><stop offset="23.09%" stop-color="#870098"/><stop offset="23.39%" stop-color="#1800a7"/><stop offset="23.70%" stop-color="#0000c1"/><stop offset="24.62%" stop-color="#0000dd"/><stop offset="25.23%" stop-color="#001cdd"/><stop offset="26.76%" stop-color="#0070dd"/><stop offset="28.59%" stop-color="#0095dd"/><stop offset="29.82%" stop-color="#00aaa3"/><stop offset="30.73%" stop-color="#00aa8b"/><stop offset="31.35%" stop-color="#00a55d"/><stop offset="33.18%" stop-color="#009a00"/><stop offset="37.77%" stop-color="#00b200"/><stop offset="40.21%" stop-color="#00aa00"/><stop offset="40.52%" stop-color="#00ba00"/><stop offset="41.74%" stop-color="#00b200"/><stop offset="42.05%" stop-color="#00b200"/><stop offset="42.35%" stop-color="#00a200"/><stop offset="43.58%" stop-color="#00a200"/><stop offset="44.19%" stop-color="#00ac00"/><stop offset="48.17%" stop-color="#00b400"/><stop offset="48.47%" stop-color="#00a700"/><stop offset="48.78%" stop-color="#00a700"/><stop offset="49.08%" stop-color="#00ba00"/><stop offset="49.39%" stop-color="#00a700"/><stop offset="50.61%" stop-color="#00a700"/><stop offset="51.22%" stop-color="#00b200"/><stop offset="51.83%" stop-color="#00b200"/><stop offset="52.14%" stop-color="#00a400"/><stop offset="52.45%" stop-color="#00a400"/><stop offset="52.75%" stop-color="#00bc00"/><stop offset="53.06%" stop-color="#00a400"/><stop offset="54.28%" stop-color="#00af00"/><stop offset="56.73%" stop-color="#00a700"/><stop offset="57.34%" stop-color="#00af00"/><stop offset="58.87%" stop-color="#00a700"/><stop offset="59.17%" stop-color="#009c00"/><stop offset="60.40%" stop-color="#009a08"/><stop offset="61.62%" stop-color="#00a13d"/><stop offset="63.15%" stop-color="#00a55d"/><stop offset="64.07%" stop-color="#00aa8b"/><stop offset="65.90%" stop-color="#00a6b7"/><stop offset="66.82%" stop-color="#0098dd"/><stop offset="67.74%" stop-color="#007ddd"/><stop offset="68.04%" stop-color="#005ddd"/><stop offset="68.35%" stop-color="#002fdd"/><stop offset="69.27%" stop-color="#0000dd"/><stop offset="74.16%" stop-color="#0000c9"/><stop offset="74.46%" stop-color="#0000d1"/><stop offset="74.77%" stop-color="#00aa95"/><stop offset="75.08%" stop-color="#00aaa3"/><stop offset="75.38%" stop-color="#0000d1"/><stop offset="75.69%" stop-color="#0000d1"/><stop offset="75.99%" stop-color="#008add"/><stop offset="76.30%" stop-color="#0092dd"/><stop offset="76.61%" stop-color="#008add"/><stop offset="76.91%" stop-color="#0000dd"/><stop offset="77.22%" stop-color="#0092dd"/><stop offset="78.13%" stop-color="#0098dd"/><stop offset="78.44%" stop-color="#00aa9d"/><stop offset="78.75%" stop-color="#00aaa3"/><stop offset="79.05%" stop-color="#0092dd"/><stop offset="79.36%" stop-color="#0000dd"/><stop offset="79.66%" stop-color="#0000d1"/><stop offset="79.97%" stop-color="#00aaa3"/><stop offset="80.28%" stop-color="#00aaab"/><stop offset="80.58%" stop-color="#0000d1"/><stop offset="80.89%" stop-color="#0000c1"/><stop offset="81.19%" stop-color="#0000cd"/><stop offset="81.50%" stop-color="#0000bd"/><stop offset="81.80%" stop-color="#0000c9"/><stop offset="82.42%" stop-color="#0300aa"/><stop offset="82.72%" stop-color="#63009e"/><stop offset="83.03%" stop-color="#850096"/><stop offset="89.76%" stop-color="#79008a"/><stop offset="90.67%" stop-color="#5d006b"/><stop offset="91.28%" stop-color="#41004b"/><stop offset="92.51%" stop-color="#1c0020"/><stop offset="93.12%" stop-color="#130015"/><stop offset="94.34%" stop-color="#000000"/><stop offset="99.85%" stop-color="#000000"/></linearGradient>
<linearGradient id="g0_15"><stop offset="0.15%" stop-color="#0000dd"/><stop offset="0.46%" stop-color="#2f0035"/><stop offset="4.13%" stop-color="#2f0035"/><stop offset="4.74%" stop-color="#25002b"/><stop offset="17.89%" stop-color="#25002b"/><stop offset="18.50%" stop-color="#2f0035"/><stop offset="19.72%" stop-color="#380040"/><stop offset="20.34%" stop-color="#4b0055"/><stop offset="21.25%" stop-color="#770088"/><stop offset="23.09%" stop-color="#870098"/><stop offset="23.39%" stop-color="#1800a7"/><stop offset="23.70%" stop-color="#0000c1"/><stop offset="24.62%" stop-color="#0000dd"/><stop offset="25.23%" stop-color="#001cdd"/><stop offset="26.76%" stop-color="#0070dd"/><stop offset="28.90%" stop-color="#009bd7"/><stop offset="31.04%" stop-color="#00aaa0"/><stop offset="33.18%" stop-color="#00aa88"/><stop offset="33.79%" stop-color="#00a773"/><stop offset="34.10%" stop-color="#00a353"/><stop offset="35.32%" stop-color="#009e28"/><stop offset="35.93%" stop-color="#009d1d"/><stop offset="36.54%" stop-color="#009a08"/><stop offset="36.85%" stop-color="#009b13"/><stop offset="37.46%" stop-color="#009a00"/><stop offset="38.07%" stop-color="#009a08"/><stop offset="39.30%" stop-color="#009c00"/><stop offset="40.21%" stop-color="#009c00"/><stop offset="40.52%" stop-color="#00b200"/><stop offset="41.13%" stop-color="#00a700"/><stop offset="42.05%" stop-color="#00a700"/><stop offset="42.66%" stop-color="#009c00"/><stop offset="43.58%" stop-color="#009c00"/><stop offset="43.88%" stop-color="#00a700"/><stop offset="47.55%" stop-color="#00a400"/><stop offset="48.17%" stop-color="#00aa00"/><stop offset="48.47%" stop-color="#009c00"/><stop offset="48.78%" stop-color="#009c00"/><stop offset="49.08%" stop-color="#00af00"/><stop offset="49.39%" stop-color="#009c00"/><stop offset="50.61%" stop-color="#009a00"/><stop offset="51.22%" stop-color="#00a400"/><stop offset="51.83%" stop-color="#00a400"/><stop offset="52.45%" stop-color="#009a00"/><stop offset="52.75%" stop-color="#00b200"/><stop offset="53.06%" stop-color="#009a00"/><stop offset="54.28%" stop-color="#00a200"/><stop offset="56.73%" stop-color="#009c00"/><stop offset="57.65%" stop-color="#00a400"/><stop offset="58.87%" stop-color="#009c00"/><stop offset="61.31%" stop-color="#00a353"/><stop offset="61.62%" stop-color="#00a353"/><stop offset="61.93%" stop-color="#00a13d"/><stop offset="62.54%" stop-color="#00a248"/><stop offset="63.15%" stop-color="#00a668"/><stop offset="63.46%" stop-color="#00aa88"/><stop offset="65.29%" stop-color="#00a8af"/><stop offset="66.82%" stop-color="#0098dd"/><stop offset="67.74%" stop-color="#007add"/><stop offset="68.35%" stop-color="#002fdd"/><stop offset="69.27%" stop-color="#0000dd"/><stop offset="74.16%" stop-color="#0000c9"/><stop offset="74.46%" stop-color="#0000d1"/><stop offset="74.77%" stop-color="#00aa95"/><stop offset="75.08%" stop-color="#00aaa3"/><stop offset="75.38%" stop-color="#0000d1"/><stop offset="75.69%" stop-color="#0000d1"/><stop offset="75.99%" stop-color="#008add"/><stop offset="76.30%" stop-color="#0092dd"/><stop offset="76.61%" stop-color="#008add"/><stop offset="76.91%" stop-color="#0000dd"/><stop offset="77.22%" stop-color="#0092dd"/><stop offset="78.13%" stop-color="#0098dd"/><stop offset="78.44%" stop-color="#00aa9d"/><stop offset="78.75%" stop-color="#00aaa3"/><stop offset="79.05%" stop-color="#0092dd"/><stop offset="79.36%" stop-color="#0000dd"/><stop offset="79.66%" stop-color="#0000d1"/><stop offset="79.97%" stop-color="#00aaa3"/><stop offset="80.28%" stop-color="#00aaab"/><stop offset="80.58%" stop-color="#0000d1"/><stop offset="80.89%" stop-color="#0000c1"/><stop offset="81.19%" stop-color="#0000cd"/><stop offset="81.50%" stop-color="#0000bd"/><stop offset="81.80%" stop-color="#0000c9"/><stop offset="82.42%" stop-color="#0300aa"/><stop offset="82.72%" stop-color="#63009e"/><stop offset="83.03%" stop-color="#850096"/><stop offset="89.76%" stop-color="#79008a"/><stop offset="90.67%" stop-color="#5d006b"/><stop offset="91.28%" stop-color="#41004b"/><stop offset="92.51%" stop-color="#1c0020"/><stop offset="93.12%" stop-color="#130015"/><stop offset="94.34%" stop-color="#000000"/><stop offset="99.85%" stop-color="#000000"/></linearGradient>
<linearGradient id="g0_16"><stop offset="0.15%" stop-color="#41004b"/><stop offset="0.46%" stop-color="#2f0035"/><stop offset="5.35%" stop-color="#2f0035"/><stop offset="5.96%" stop-color="#25002b"/><stop offset="17.89%" stop-color="#25002b"/><stop offset="18.50%" stop-color="#2f0035"/><stop offset="19.72%" stop-color="#380040"/><stop offset="20.34%" stop-color="#4b0055"/><stop offset="21.25%" stop-color="#770088"/><stop offset="23.09%" stop-color="#870098"/><stop offset="23.39%" stop-color="#0300aa"/><stop offset="24.01%" stop-color="#0000cd"/><stop offset="24.31%" stop-color="#0000d9"/><stop offset="26.76%" stop-color="#007add"/><stop offset="28.59%" stop-color="#009adb"/><stop offset="32.57%" stop-color="#00aaa3"/><stop offset="37.16%" stop-color="#00aa88"/><stop offset="37.77%" stop-color="#00a97d"/><stop offset="38.07%" stop-color="#00aa88"/><stop offset="38.69%" stop-color="#00a773"/><stop offset="39.60%" stop-color="#00a773"/><stop offset="40.21%" stop-color="#00a668"/><stop offset="40.52%" stop-color="#00a248"/><stop offset="40.83%" stop-color="#00a353"/><stop offset="41.44%" stop-color="#00a13d"/><stop offset="42.05%" stop-color="#00a13d"/><stop offset="42.66%" stop-color="#00a248"/><stop offset="43.88%" stop-color="#009e28"/><stop offset="44.50%" stop-color="#009d1d"/><stop offset="45.11%" stop-color="#009d1d"/><stop offset="45.72%" stop-color="#009b13"/><stop offset="46.33%" stop-color="#009b13"/><stop offset="46.94%" stop-color="#009a08"/><stop offset="48.78%" stop-color="#009c00"/><stop offset="49.08%" stop-color="#00ac00"/><stop offset="49.39%" stop-color="#009a00"/><stop offset="50.61%" stop-color="#009a00"/><stop offset="51.22%" stop-color="#009f00"/><stop offset="51.83%" stop-color="#009f00"/><stop offset="52.14%" stop-color="#009b13"/><stop offset="52.45%" stop-color="#009b13"/><stop offset="52.75%" stop-color="#00ac00"/><stop offset="53.06%" stop-color="#009b13"/><stop offset="53.36%" stop-color="#009b13"/><stop offset="53.67%" stop-color="#009c00"/><stop offset="54.28%" stop-color="#009c00"/><stop offset="54.59%" stop-color="#009b13"/><stop offset="55.81%" stop-color="#009b13"/><stop offset="56.73%" stop-color="#009f33"/><stop offset="58.26%" stop-color="#00a248"/><stop offset="59.79%" stop-color="#00a55d"/><stop offset="61.01%" stop-color="#00a773"/><stop offset="61.93%" stop-color="#00aa8b"/><stop offset="64.98%" stop-color="#00a7b3"/><stop offset="66.82%" stop-color="#0098dd"/><stop offset="68.35%" stop-color="#0070dd"/><stop offset="68.96%" stop-color="#0038dd"/><stop offset="70.18%" stop-color="#0000dd"/><stop offset="74.16%" stop-color="#0000c9"/><stop offset="74.46%" stop-color="#0000d1"/><stop offset="74.77%" stop-color="#00aa95"/><stop offset="75.08%" stop-color="#00aaa3"/><stop offset="75.38%" stop-color="#0000d1"/><stop offset="75.69%" stop-color="#0000d1"/><stop offset="75.99%" stop-color="#008add"/><stop offset="76.30%" stop-color="#0092dd"/><stop offset="76.61%" stop-color="#008add"/><stop offset="76.91%" stop-color="#0000dd"/><stop offset="77.22%" stop-color="#0092dd"/><stop offset="78.13%" stop-color="#0098dd"/><stop offset="78.44%" stop-color="#00aa9d"/><stop offset="78.75%" stop-color="#00aaa3"/><stop offset="79.05%" stop-color="#0092dd"/><stop offset="79.36%" stop-color="#0000dd"/><stop offset="79.66%" stop-color="#0000d1"/><stop offset="79.97%" stop-color="#00aaa3"/><stop offset="80.28%" stop-color="#00aaab"/><stop offset="80.58%" stop-color="#0000d1"/><stop offset="80.89%" stop-color="#0000c1"/><stop offset="81.19%" stop-color="#0000cd"/><stop offset="81.50%" stop-color="#0000bd"/><stop offset="81.80%" stop-color="#0000c9"/><stop offset="82.42%" stop-color="#0300aa"/><stop offset="82.72%" stop-color="#63009e"/><stop offset="83.03%" stop-color="#850096"/><stop offset="89.76%" stop-color="#79008a"/><stop offset="90.67%" stop-color="#5d006b"/><stop offset="91.28%" stop-color="#41004b"/><stop offset="92.51%" stop-color="#1c0020"/><stop offset="93.12%" stop-color="#130015"/><stop offset="94.34%" stop-color="#000000"/><stop offset="99.85%" stop-color="#000000"/></linearGradient>
<linearGradient id="g0_17"><stop offset="0.15%" stop-color="#810092"/><stop offset="0.46%" stop-color="#2f0035"/><stop offset="3.52%" stop-color="#2f0035"/><stop offset="4.13%" stop-color="#25002b"/><stop offset="17.89%" stop-color="#25002b"/><stop offset="18.50%" stop-color="#2f0035"/><stop offset="19.72%" stop-color="#380040"/><stop offset="20.34%" stop-color="#4b0055"/><stop offset="21.25%" stop-color="#770088"/><stop offset="23.09%" stop-color="#870098"/><stop offset="23.39%" stop-color="#1800a7"/><stop offset="23.70%" stop-color="#0000c1"/><stop offset="24.62%" stop-color="#0000dd"/><stop offset="25.23%" stop-color="#001cdd"/><stop offset="26.76%" stop-color="#0070dd"/><stop offset="29.20%" stop-color="#009adb"/><stop offset="32.87%" stop-color="#00aaa0"/><stop offset="37.16%" stop-color="#00aa88"/><stop offset="38.38%" stop-color="#00a668"/><stop offset="38.99%" stop-color="#00a668"/><stop offset="39.60%" stop-color="#00a55d"/><stop offset="40.21%" stop-color="#00a55d"/><stop offset="40.52%" stop-color="#00a13d"/><stop offset="41.74%" stop-color="#009e28"/><stop offset="42.97%" stop-color="#009f33"/><stop offset="43.58%" stop-color="#009e28"/><stop offset="44.19%" stop-color="#009b13"/><stop offset="45.11%" stop-color="#009b13"/><stop offset="45.72%" stop-color="#009a08"/><stop offset="48.17%" stop-color="#00a700"/><stop offset="48.78%" stop-color="#009c00"/><stop offset="49.08%" stop-color="#00af00"/><stop offset="49.39%" stop-color="#009f00"/><stop offset="50.61%" stop-color="#009f00"/><stop offset="51.22%" stop-color="#00aa00"/><stop offset="51.83%" stop-color="#00a700"/><stop offset="52.45%" stop-color="#009a00"/><stop offset="52.75%" stop-color="#00b200"/><stop offset="53.06%" stop-color="#009a00"/><stop offset="54.28%" stop-color="#00a200"/><stop offset="56.12%" stop-color="#009a00"/><stop offset="57.34%" stop-color="#009b13"/><stop offset="57.95%" stop-color="#009e28"/><stop offset="59.48%" stop-color="#00a13d"/><stop offset="60.09%" stop-color="#00a248"/><stop offset="60.40%" stop-color="#00a55d"/><stop offset="60.70%" stop-color="#00a55d"/><stop offset="61.31%" stop-color="#00a97d"/><stop offset="61.93%" stop-color="#00aa88"/><stop offset="64.68%" stop-color="#00a6b7"/><stop offset="66.51%" stop-color="#0098dd"/><stop offset="68.04%" stop-color="#0070dd"/><stop offset="68.65%" stop-color="#002fdd"/><stop offset="69.88%" stop-color="#0000dd"/><stop offset="74.16%" stop-color="#0000c9"/><stop offset="74.46%" stop-color="#0000d1"/><stop offset="74.77%" stop-color="#00aa95"/><stop offset="75.08%" stop-color="#00aaa3"/><stop offset="75.38%" stop-color="#0000d1"/><stop offset="75.69%" stop-color="#0000d1"/><stop offset="75.99%" stop-color="#008add"/><stop offset="76.30%" stop-color="#0092dd"/><stop offset="76.61%" stop-color="#008add"/><stop offset="76.91%" stop-color="#0000dd"/><stop offset="77.22%" stop-color="#0092dd"/><stop offset="78.13%" stop-color="#0098dd"/><stop offset="78.44%" stop-color="#00aa9d"/><stop offset="78.75%" stop-color="#00aaa3"/><stop offset="79.05%" stop-color="#0092dd"/><stop offset="79.36%" stop-color="#0000dd"/><stop offset="79.66%" stop-color="#0000d1"/><stop offset="79.97%" stop-color="#00aaa3"/><stop offset="80.28%" stop-color="#00aaab"/><stop offset="80.58%" stop-color="#0000d1"/><stop offset="80.89%" stop-color="#0000c1"/><stop offset="81.19%" stop-color="#0000cd"/><stop offset="81.50%" stop-color="#0000bd"/><stop offset="81.80%" stop-color="#0000c9"/><stop offset="82.42%" stop-color="#0300aa"/><stop offset="82.72%" stop-color="#63009e"/><stop offset="83.03%" stop-color="#850096"/><stop offset="89.76%" stop-color="#79008a"/><stop offset="90.67%" stop-color="#5d006b"/><stop offset="91.28%" stop-color="#41004b"/><stop offset="92.51%" stop-color="#1c0020"/><stop offset="93.12%" stop-color="#130015"/><stop offset="94.34%" stop-color="#000000"/><stop offset="99.85%" stop-color="#000000"/></linearGradient>
<linearGradient id="g0_18"><stop offset="0.15%" stop-color="#810092"/><stop offset="0.46%" stop-color="#2f0035"/><stop offset="5.96%" stop-color="#2f0035"/><stop offset="6.57%" stop-color="#25002b"/><stop offset="17.89%" stop-color="#25002b"/><stop offset="18.50%" stop-color="#2f0035"/><stop offset="19.72%" stop-color="#380040"/><stop offset="20.34%" stop-color="#4b0055"/><stop offset="21.25%" stop-color="#770088"/><stop offset="23.09%" stop-color="#870098"/><stop offset="23.39%" stop-color="#1800a7"/><stop offset="23.70%" stop-color="#0000bd"/><stop offset="25.23%" stop-color="#0000d9"/><stop offset="25.84%" stop-color="#0013dd"/><stop offset="26.45%" stop-color="#0038dd"/><stop offset="27.06%" stop-color="#0054dd"/><stop offset="27.68%" stop-color="#0078dd"/><stop offset="29.82%" stop-color="#009bd7"/><stop offset="32.26%" stop-color="#00aaa0"/><stop offset="34.71%" stop-color="#00aa88"/><stop offset="35.02%" stop-color="#00a773"/><stop offset="35.63%" stop-color="#00a668"/><stop offset="36.24%" stop-color="#00a353"/><stop offset="36.85%" stop-color="#00a248"/><stop offset="37.46%" stop-color="#009f33"/><stop offset="38.38%" stop-color="#009f33"/><stop offset="39.30%" stop-color="#009d1d"/><stop offset="39.60%" stop-color="#009f33"/><stop offset="40.21%" stop-color="#009d1d"/><stop offset="40.52%" stop-color="#009a00"/><stop offset="41.13%" stop-color="#009a08"/><stop offset="42.05%" stop-color="#009a00"/><stop offset="42.66%" stop-color="#009d1d"/><stop offset="43.27%" stop-color="#009d1d"/><stop offset="43.58%" stop-color="#009a08"/><stop offset="44.80%" stop-color="#00a200"/><stop offset="47.55%" stop-color="#00a200"/><stop offset="48.17%" stop-color="#00a700"/><stop offset="48.47%" stop-color="#009a00"/><stop offset="48.78%" stop-color="#009a00"/><stop offset="49.08%" stop-color="#00ac00"/><stop offset="49.39%" stop-color="#009a00"/><stop offset="50.61%" stop-color="#009a08"/><stop offset="51.53%" stop-color="#009f00"/><stop offset="51.83%" stop-color="#009f00"/><stop offset="52.14%" stop-color="#009b13"/><stop offset="52.45%" stop-color="#009a08"/><stop offset="52.75%" stop-color="#00af00"/><stop offset="53.06%" stop-color="#009a08"/><stop offset="54.89%" stop-color="#009a00"/><stop offset="55.20%" stop-color="#009a08"/><stop offset="56.42%" stop-color="#009a00"/><stop offset="56.73%" stop-color="#009a08"/><stop offset="57.34%" stop-color="#009e28"/><stop offset="57.95%" stop-color="#00a13d"/><stop offset="60.40%" stop-color="#00a668"/><stop offset="61.01%" stop-color="#00aa88"/><stop offset="64.07%" stop-color="#00a4bb"/><stop offset="65.60%" stop-color="#0095dd"/><stop offset="66.51%" stop-color="#0080dd"/><stop offset="66.82%" stop-color="#0070dd"/><stop offset="67.43%" stop-color="#002fdd"/><stop offset="68.35%" stop-color="#0000dd"/><stop offset="74.16%" stop-color="#0000c9"/><stop offset="74.46%" stop-color="#0000d1"/><stop offset="74.77%" stop-color="#00aa95"/><stop offset="75.08%" stop-color="#00aaa3"/><stop offset="75.38%" stop-color="#0000d1"/><stop offset="75.69%" stop-color="#0000d1"/><stop offset="75.99%" stop-color="#008add"/><stop offset="76.30%" stop-color="#0092dd"/><stop offset="76.61%" stop-color="#008add"/><stop offset="76.91%" stop-color="#0000dd"/><stop offset="77.22%" stop-color="#0092dd"/><stop offset="78.13%" stop-color="#0098dd"/><stop offset="78.44%" stop-color="#00aa9d"/><stop offset="78.75%" stop-color="#00aaa3"/><stop offset="79.05%" stop-color="#0092dd"/><stop offset="79.36%" stop-color="#0000dd"/><stop offset="79.66%" stop-color="#0000d1"/><stop offset="79.97%" stop-color="#00aaa3"/><stop offset="80.28%" stop-color="#00aaab"/><stop offset="80.58%" stop-color="#0000d1"/><stop offset="80.89%" stop-color="#0000c1"/><stop offset="81.19%" stop-color="#0000cd"/><stop offset="81.50%" stop-color="#0000bd"/><stop offset="81.80%" stop-color="#0000c9"/><stop offset="82.42%" stop-color="#0300aa"/><stop offset="82.72%" stop-color="#63009e"/><stop offset="83.03%" stop-color="#850096"/><stop offset="89.76%" stop-color="#79008a"/><stop offset="90.67%" stop-color="#5d006b"/><stop offset="91.28%" stop-color="#41004b"/><stop offset="92.51%" stop-color="#1c0020"/><stop offset="93.12%" stop-color="#130015"/><stop offset="94.34%" stop-color="#000000"/><stop offset="99.85%" stop-color="#000000"/></linearGradient>
<linearGradient id="g0_19"><stop offset="0.15%" stop-color="#0000dd"/><stop offset="0.46%" stop-color="#380040"/><stop offset="12.08%" stop-color="#380040"/><stop offset="12.69%" stop-color="#41004b"/><stop offset="19.11%" stop-color="#41004b"/><stop offset="19.72%" stop-color="#380040"/><stop offset="41.44%" stop-color="#380040"/><stop offset="42.05%" stop-color="#41004b"/><stop offset="64.37%" stop-color="#41004b"/><stop offset="64.98%" stop-color="#380040"/><stop offset="75.99%" stop-color="#380040"/><stop offset="76.61%" stop-color="#2f0035"/><stop offset="81.50%" stop-color="#2f0035"/><stop offset="82.11%" stop-color="#25002b"/><stop offset="89.45%" stop-color="#25002b"/><stop offset="90.06%" stop-color="#1c0020"/><stop offset="92.81%" stop-color="#1c0020"/><stop offset="93.43%" stop-color="#130015"/><stop offset="95.26%" stop-color="#130015"/><stop offset="95.87%" stop-color="#09000b"/><stop offset="96.79%" stop-color="#09000b"/><stop offset="97.40%" stop-color="#000000"/><stop offset="99.85%" stop-color="#000000"/></linearGradient>
<linearGradient id="g0_20"><stop offset="0.15%" stop-color="#00a3bf"/><stop offset="0.46%" stop-color="#25002b"/><stop offset="16.06%" stop-color="#25002b"/><stop offset="17.28%" stop-color="#4b0055"/><stop offset="17.89%" stop-color="#7a008b"/><stop offset="18.81%" stop-color="#850096"/><stop offset="19.11%" stop-color="#78009b"/><stop offset="19.42%" stop-color="#0000b1"/><stop offset="19.72%" stop-color="#0000d1"/><stop offset="20.03%" stop-color="#0038dd"/><stop offset="20.34%" stop-color="#0082dd"/><stop offset="20.64%" stop-color="#009cd3"/><stop offset="20.95%" stop-color="#00aaa8"/><stop offset="21.25%" stop-color="#00aa8d"/><stop offset="21.56%" stop-color="#00a353"/><stop offset="21.87%" stop-color="#009a08"/><stop offset="23.09%" stop-color="#00cc00"/><stop offset="25.23%" stop-color="#00ff00"/><stop offset="26.15%" stop-color="#58ff00"/><stop offset="28.29%" stop-color="#bcff00"/><stop offset="31.96%" stop-color="#f0ea00"/><stop offset="34.10%" stop-color="#f8da00"/><stop offset="41.44%" stop-color="#e8f000"/><stop offset="49.08%" stop-color="#e0f300"/><stop offset="53.06%" stop-color="#bcff00"/><stop offset="53.98%" stop-color="#75ff00"/><stop offset="54.28%" stop-color="#58ff00"/><stop offset="54.59%" stop-color="#58ff00"/><stop offset="55.50%" stop-color="#84ff00"/><stop offset="56.42%" stop-color="#00ff00"/><stop offset="62.23%" stop-color="#00bc00"/><stop offset="65.90%" stop-color="#009a00"/><stop offset="66.82%" stop-color="#009d1d"/><stop offset="68.35%" stop-color="#00aa88"/><stop offset="72.32%" stop-color="#00a7b3"/><stop offset="74.16%" stop-color="#009adb"/><stop offset="74.77%" stop-color="#0090dd"/><stop offset="75.69%" stop-color="#0090dd"/><stop offset="75.99%" stop-color="#00aaa3"/><stop offset="76.30%" stop-color="#0090dd"/><stop offset="78.44%" stop-color="#0090dd"/><stop offset="78.75%" stop-color="#00aaa3"/><stop offset="79.05%" stop-color="#0090dd"/><stop offset="79.97%" stop-color="#0090dd"/><stop offset="80.28%" stop-color="#00aaa3"/><stop offset="80.58%" stop-color="#0090dd"/><stop offset="80.89%" stop-color="#0090dd"/><stop offset="81.19%" stop-color="#0000dd"/><stop offset="81.50%" stop-color="#0013dd"/><stop offset="81.80%" stop-color="#0090dd"/><stop offset="82.72%" stop-color="#008ddd"/><stop offset="83.03%" stop-color="#0000d5"/><stop offset="85.47%" stop-color="#0000cd"/><stop offset="86.39%" stop-color="#0000ad"/><stop offset="86.70%" stop-color="#1800a7"/><stop offset="87.31%" stop-color="#63009e"/><stop offset="87.61%" stop-color="#78009b"/><stop offset="89.45%" stop-color="#870098"/><stop offset="91.59%" stop-color="#7a008b"/><stop offset="92.20%" stop-color="#5d006b"/><stop offset="92.81%" stop-color="#380040"/><stop offset="93.43%" stop-color="#25002b"/><stop offset="94.04%" stop-color="#09000b"/><stop offset="95.26%" stop-color="#000000"/><stop offset="99.85%" stop-color="#000000"/></linearGradient>
<linearGradient id="g0_21"><stop offset="0.15%" stop-color="#00a3bf"/><stop offset="0.46%" stop-color="#25002b"/><stop offset="16.06%" stop-color="#25002b"/><stop offset="17.28%" stop-color="#4b0055"/><stop offset="17.89%" stop-color="#7a008b"/><stop offset="18.81%" stop-color="#850096"/><stop offset="19.11%" stop-color="#78009b"/><stop offset="19.42%" stop-color="#0000b1"/><stop offset="19.72%" stop-color="#0000d1"/><stop offset="20.03%" stop-color="#0038dd"/><stop offset="20.34%" stop-color="#0082dd"/><stop offset="20.64%" stop-color="#009cd3"/><stop offset="20.95%" stop-color="#00aaa8"/><stop offset="21.25%" stop-color="#00aa8d"/><stop offset="21.56%" stop-color="#00a353"/><stop offset="21.87%" stop-color="#009a08"/><stop offset="23.09%" stop-color="#00cc00"/><stop offset="25.23%" stop-color="#00ff00"/><stop offset="26.15%" stop-color="#58ff00"/><stop offset="28.29%" stop-color="#bcff00"/><stop offset="31.96%" stop-color="#f0ea00"/><stop offset="34.10%" stop-color="#f8da00"/><stop offset="41.44%" stop-color="#e8f000"/><stop offset="49.08%" stop-color="#e0f300"/><stop offset="53.06%" stop-color="#bcff00"/><stop offset="53.98%" stop-color="#75ff00"/><stop offset="54.28%" stop-color="#58ff00"/><stop offset="54.59%" stop-color="#58ff00"/><stop offset="55.50%" stop-color="#84ff00"/><stop offset="56.42%" stop-color="#00ff00"/><stop offset="62.23%" stop-color="#00bc00"/><stop offset="65.90%" stop-color="#009a00"/><stop offset="66.82%" stop-color="#009d1d"/><stop offset="68.35%" stop-color="#00aa88"/><stop offset="72.32%" stop-color="#00a7b3"/><stop offset="74.16%" stop-color="#009adb"/><stop offset="74.77%" stop-color="#0090dd"/><stop offset="75.69%" stop-color="#0090dd"/><stop offset="75.99%" stop-color="#00aaa3"/><stop offset="76.30%" stop-color="#0090dd"/><stop offset="78.44%" stop-color="#0090dd"/><stop offset="78.75%" stop-color="#00aaa3"/><stop offset="79.05%" stop-color="#0090dd"/><stop offset="79.97%" stop-color="#0090dd"/><stop offset="80.28%" stop-color="#00aaa3"/><stop offset="80.58%" stop-color="#0090dd"/><stop offset="80.89%" stop-color="#0090dd"/><stop offset="81.19%" stop-color="#0000dd"/><stop offset="81.50%" stop-color="#0013dd"/><stop offset="81.80%" stop-color="#0090dd"/><stop offset="82.72%" stop-color="#008ddd"/><stop offset="83.03%" stop-color="#0000d5"/><stop offset="85.47%" stop-color="#0000cd"/><stop offset="86.39%" stop-color="#0000ad"/><stop offset="86.70%" stop-color="#1800a7"/><stop offset="87.31%" stop-color="#63009e"/><stop offset="87.61%" stop-color="#78009b"/><stop offset="89.45%" stop-color="#870098"/><stop offset="91.59%" stop-color="#7a008b"/><stop offset="92.20%" stop-color="#5d006b"/><stop offset="92.81%" stop-color="#380040"/><stop offset="93.43%" stop-color="#25002b"/><stop offset="94.04%" stop-color="#09000b"/><stop offset="95.26%" stop-color="#000000"/><stop offset="99.85%" stop-color="#000000"/></linearGradient>
<linearGradient id="g1_0"><stop offset="0.15%" stop-color="#0000dd"/><stop offset="0.46%" stop-color="#25002b"/><stop offset="16.06%" stop-color="#25002b"/><stop offset="17.28%" stop-color="#4b0055"/><stop offset="17.89%" stop-color="#7a008b"/><stop offset="18.81%" stop-color="#850096"/><stop offset="19.11%" stop-color="#78009b"/><stop offset="19.42%" stop-color="#0000b1"/><stop offset="19.72%" stop-color="#0000d1"/><stop offset="20.03%" stop-color="#0038dd"/><stop offset="20.34%" stop-color="#0082dd"/><stop offset="20.64%" stop-color="#009cd3"/><stop offset="20.95%" stop-color="#00aaa8"/><stop offset="21.25%" stop-color="#00aa8d"/><stop offset="21.56%" stop-color="#00a353"/><stop offset="21.87%" stop-color="#009a08"/><stop offset="23.09%" stop-color="#00cc00"/><stop offset="24.31%" stop-color="#00fa00"/><stop offset="24.62%" stop-color="#0fff00"/><stop offset="26.45%" stop-color="#bcff00"/><stop offset="29.20%" stop-color="#f0ea00"/><stop offset="34.71%" stop-color="#ffbd00"/><stop offset="37.46%" stop-color="#ffb900"/><stop offset="42.66%" stop-color="#ffc500"/><stop offset="47.86%" stop-color="#f7dd00"/><stop offset="55.81%" stop-color="#e8f000"/><stop offset="59.17%" stop-color="#bcff00"/><stop offset="60.40%" stop-color="#84ff00"/><stop offset="60.70%" stop-color="#67ff00"/><stop offset="61.01%" stop-color="#58ff00"/><stop offset="61.62%" stop-color="#1dff00"/><stop offset="62.23%" stop-color="#00fc00"/><stop offset="68.04%" stop-color="#009f00"/><stop offset="68.35%" stop-color="#009a08"/><stop offset="68.96%" stop-color="#009f33"/><stop offset="71.41%" stop-color="#00aa88"/><stop offset="75.99%" stop-color="#00aaa0"/><stop offset="76.30%" stop-color="#009b13"/><stop offset="76.61%" stop-color="#009b13"/><stop offset="76.91%" stop-color="#00aaa0"/><stop offset="77.52%" stop-color="#00aaa0"/><stop offset="77.83%" stop-color="#009b13"/><stop offset="78.13%" stop-color="#009b13"/><stop offset="78.44%" stop-color="#00aaa0"/><stop offset="78.75%" stop-color="#009b13"/><stop offset="79.05%" stop-color="#009b13"/><stop offset="79.36%" stop-color="#00aaa0"/><stop offset="79.66%" stop-color="#00aaa0"/><stop offset="79.97%" stop-color="#009b13"/><stop offset="80.58%" stop-color="#009b13"/><stop offset="80.89%" stop-color="#00aaa0"/><stop offset="81.19%" stop-color="#00aaa0"/><stop offset="81.50%" stop-color="#009b13"/><stop offset="82.42%" stop-color="#009b13"/><stop offset="82.72%" stop-color="#00aaa3"/><stop offset="86.39%" stop-color="#00a6b7"/><stop offset="88.84%" stop-color="#0095dd"/><stop offset="90.37%" stop-color="#007add"/><stop offset="90.67%" stop-color="#0067dd"/><stop offset="91.28%" stop-color="#001cdd"/><stop offset="91.59%" stop-color="#0000d9"/><stop offset="92.20%" stop-color="#0000b9"/><stop offset="92.51%" stop-color="#0d00a8"/><stop offset="93.12%" stop-color="#63009e"/><stop offset="93.73%" stop-color="#83009a"/><stop offset="95.26%" stop-color="#7b008c"/><stop offset="95.57%" stop-color="#770088"/><stop offset="97.40%" stop-color="#25002b"/><stop offset="98.62%" stop-color="#000000"/><stop offset="99.85%" stop-color="#000000"/></linearGradient>
<linearGradient id="g1_1"><stop offset="0.15%" stop-color="#0000dd"/><stop offset="0.46%" stop-color="#25002b"/><stop offset="16.06%" stop-color="#25002b"/><stop offset="17.28%" stop-color="#4b0055"/><stop offset="17.89%" stop-color="#7a008b"/><stop offset="18.81%" stop-color="#850096"/><stop offset="19.11%" stop-color="#78009b"/><stop offset="19.42%" stop-color="#0000b1"/><stop offset="19.72%" stop-color="#0000d1"/><stop offset="20.03%" stop-color="#0038dd"/><stop offset="20.34%" stop-color="#0082dd"/><stop offset="20.64%" stop-color="#009cd3"/><stop offset="20.95%" stop-color="#00aaa8"/><stop offset="21.25%" stop-color="#00aa8d"/><stop offset="21.56%" stop-color="#00a353"/><stop offset="21.87%" stop-color="#009a08"/><stop offset="23.09%" stop-color="#00cc00"/><stop offset="24.31%" stop-color="#00fa00"/><stop offset="24.62%" stop-color="#0fff00"/><stop offset="26.45%" stop-color="#bcff00"/><stop offset="29.20%" stop-color="#f0ea00"/><stop offset="34.71%" stop-color="#ffbd00"/><stop offset="39.30%" stop-color="#ffa900"/><stop offset="45.72%" stop-color="#f9d700"/><stop offset="55.81%" stop-color="#e8f000"/><stop offset="59.17%" stop-color="#bcff00"/><stop offset="60.40%" stop-color="#84ff00"/><stop offset="60.70%" stop-color="#67ff00"/><stop offset="61.01%" stop-color="#58ff00"/><stop offset="61.62%" stop-color="#1dff00"/><stop offset="62.23%" stop-color="#00fc00"/><stop offset="68.04%" stop-color="#009f00"/><stop offset="68.35%" stop-color="#009a08"/><stop offset="68.96%" stop-color="#009f33"/><stop offset="71.41%" stop-color="#00aa88"/><stop offset="75.99%" stop-color="#00aaa0"/><stop offset="76.30%" stop-color="#009b13"/><stop offset="76.61%" stop-color="#009b13"/><stop offset="76.91%" stop-color="#00aaa0"/><stop offset="77.52%" stop-color="#00aaa0"/><stop offset="77.83%" stop-color="#009b13"/><stop offset="78.13%" stop-color="#009b13"/><stop offset="78.44%" stop-color="#00aaa0"/><stop offset="78.75%" stop-color="#009b13"/><stop offset="79.05%" stop-color="#009b13"/><stop offset="79.36%" stop-color="#00aaa0"/><stop offset="79.66%" stop-color="#00aaa0"/><stop offset="79.97%" stop-color="#009b13"/><stop offset="80.58%" stop-color="#009b13"/><stop offset="80.89%" stop-color="#00aaa0"/><stop offset="81.19%" stop-color="#00aaa0"/><stop offset="81.50%" stop-color="#009b13"/><stop offset="82.42%" stop-color="#009b13"/><stop offset="82.72%" stop-color="#00aaa3"/><stop offset="86.39%" stop-color="#00a6b7"/><stop offset="88.84%" stop-color="#0095dd"/><stop offset="90.37%" stop-color="#007add"/><stop offset="90.67%" stop-color="#0067dd"/><stop offset="91.28%" stop-color="#001cdd"/><stop offset="91.59%" stop-color="#0000d9"/><stop offset="92.20%" stop-color="#0000b9"/><stop offset="92.51%" stop-color="#0d00a8"/><stop offset="93.12%" stop-color="#63009e"/><stop offset="93.73%" stop-color="#83009a"/><stop offset="95.26%" stop-color="#7b008c"/><stop offset="95.57%" stop-color="#770088"/><stop offset="97.40%" stop-color="#25002b"/><stop offset="98.62%" stop-color="#000000"/><stop offset="99.85%" stop-color="#000000"/></linearGradient>
<linearGradient id="g1_2"><stop offset="0.15%" stop-color="#0000dd"/><stop offset="0.46%" stop-color="#41004b"/><stop offset="24.62%" stop-color="#41004b"/><stop offset="25.23%" stop-color="#4b0055"/><stop offset="29.82%" stop-color="#4b0055"/><stop offset="30.43%" stop-color="#540060"/><stop offset="32.87%" stop-color="#540060"/><stop offset="33.49%" stop-color="#4b0055"/><stop offset="47.55%" stop-color="#4b0055"/><stop offset="48.17%" stop-color="#41004b"/><stop offset="51.53%" stop-color="#41004b"/><stop offset="52.14%" stop-color="#4b0055"/><stop offset="64.07%" stop-color="#4b0055"/><stop offset="64.68%" stop-color="#540060"/><stop offset="65.90%" stop-color="#4b0055"/><stop offset="68.04%" stop-color="#4b0055"/><stop offset="68.65%" stop-color="#41004b"/><stop offset="72.63%" stop-color="#41004b"/><stop offset="73.24%" stop-color="#380040"/><stop offset="76.61%" stop-color="#380040"/><stop offset="77.22%" stop-color="#2f0035"/><stop offset="86.70%" stop-color="#2f0035"/><stop offset="87.31%" stop-color="#25002b"/><stop offset="90.67%" stop-color="#25002b"/><stop offset="91.28%" stop-color="#1c0020"/><stop offset="93.12%" stop-color="#1c0020"/><stop offset="93.73%" stop-color="#130015"/><stop offset="94.65%" stop-color="#130015"/><stop offset="95.26%" stop-color="#09000b"/><stop offset="96.48%" stop-color="#09000b"/><stop offset="97.09%" stop-color="#000000"/><stop offset="99.85%" stop-color="#000000"/></linearGradient>
<linearGradient id="g1_3"><stop offset="0.15%" stop-color="#860097"/><stop offset="0.46%" stop-color="#2f0035"/><stop offset="3.52%" stop-color="#2f0035"/><stop offset="4.13%" stop-color="#25002b"/><stop offset="17.89%" stop-color="#25002b"/><stop offset="18.50%" stop-color="#2f0035"/><stop offset="19.72%" stop-color="#380040"/><stop offset="20.34%" stop-color="#4b0055"/><stop offset="21.25%" stop-color="#770088"/><stop offset="23.09%" stop-color="#870098"/><stop offset="23.39%" stop-color="#1800a7"/><stop offset="23.70%" stop-color="#0000c5"/><stop offset="24.01%" stop-color="#0000d5"/><stop offset="24.62%" stop-color="#002fdd"/><stop offset="25.23%" stop-color="#0078dd"/><stop offset="26.45%" stop-color="#0098dd"/><stop offset="26.76%" stop-color="#0098dd"/><stop offset="27.37%" stop-color="#00a2c3"/><stop offset="28.59%" stop-color="#00aaa8"/><stop offset="31.35%" stop-color="#00aa90"/><stop offset="31.96%" stop-color="#00a97d"/><stop offset="32.57%" stop-color="#00a248"/><stop offset="33.49%" stop-color="#009a00"/><stop offset="37.46%" stop-color="#00c400"/><stop offset="38.69%" stop-color="#00ba00"/><stop offset="40.21%" stop-color="#00c400"/><stop offset="40.83%" stop-color="#00bc00"/><stop offset="42.97%" stop-color="#00c400"/><stop offset="45.11%" stop-color="#00d200"/><stop offset="45.41%" stop-color="#00dc00"/><stop offset="47.55%" stop-color="#00cc00"/><stop offset="48.78%" stop-color="#00d200"/><stop offset="49.08%" stop-color="#00ef00"/><stop offset="49.39%" stop-color="#00cf00"/><stop offset="50.92%" stop-color="#00c700"/><stop offset="52.14%" stop-color="#00c700"/><stop offset="52.45%" stop-color="#00df00"/><stop offset="52.75%" stop-color="#00c400"/><stop offset="55.50%" stop-color="#00ba00"/><stop offset="56.42%" stop-color="#00ba00"/><stop offset="58.56%" stop-color="#009f00"/><stop offset="60.40%" stop-color="#00a13d"/><stop offset="60.70%" stop-color="#009f33"/><stop offset="61.62%" stop-color="#00a248"/><stop offset="62.23%" stop-color="#00a13d"/><stop offset="62.84%" stop-color="#00a248"/><stop offset="63.46%" stop-color="#00a248"/><stop offset="64.68%" stop-color="#00aa88"/><stop offset="67.74%" stop-color="#00a4bb"/><stop offset="69.57%" stop-color="#0095dd"/><stop offset="70.80%" stop-color="#007add"/><stop offset="72.02%" stop-color="#001cdd"/><stop offset="72.94%" stop-color="#0000d9"/><stop offset="74.16%" stop-color="#0000c9"/><stop offset="74.46%" stop-color="#0098dd"/><stop offset="74.77%" stop-color="#00a353"/><stop offset="75.08%" stop-color="#009f33"/><stop offset="75.38%" stop-color="#0000d1"/><stop offset="75.69%" stop-color="#0000d1"/><stop offset="75.99%" stop-color="#00aaa3"/><stop offset="76.61%" stop-color="#00aaa3"/><stop offset="76.91%" stop-color="#00aaab"/><stop offset="77.52%" stop-color="#00aa95"/><stop offset="77.83%" stop-color="#00aa9d"/><stop offset="78.13%" stop-color="#00aa95"/><stop offset="78.44%" stop-color="#009f33"/><stop offset="78.75%" stop-color="#00a353"/><stop offset="79.05%" stop-color="#00a7b3"/><stop offset="79.36%" stop-color="#0000dd"/><stop offset="79.66%" stop-color="#0000d1"/><stop offset="79.97%" stop-color="#009f33"/><stop offset="80.28%" stop-color="#009d1d"/><stop offset="80.58%" stop-color="#00a353"/><stop offset="80.89%" stop-color="#00a3bf"/><stop offset="81.19%" stop-color="#00aaab"/><stop offset="81.50%" stop-color="#009cd3"/><stop offset="81.80%" stop-color="#00a3bf"/><stop offset="82.11%" stop-color="#0098dd"/><stop offset="82.42%" stop-color="#0000d1"/><stop offset="82.72%" stop-color="#008add"/><stop offset="83.03%" stop-color="#830094"/><stop offset="90.98%" stop-color="#770088"/><stop offset="93.12%" stop-color="#380040"/><stop offset="93.73%" stop-color="#2f0035"/><stop offset="94.34%" stop-color="#1c0020"/><stop offset="94.95%" stop-color="#130015"/><stop offset="96.18%" stop-color="#000000"/><stop offset="99.85%" stop-color="#000000"/></linearGradient>
<linearGradient id="g1_4"><stop offset="0.15%" stop-color="#0000dd"/><stop offset="0.46%" stop-color="#2f0035"/><stop offset="4.43%" stop-color="#2f0035"/><stop offset="5.05%" stop-color="#25002b"/><stop offset="17.89%" stop-color="#25002b"/><stop offset="18.50%" stop-color="#2f0035"/><stop offset="19.72%" stop-color="#380040"/><stop offset="20.34%" stop-color="#4b0055"/><stop offset="21.25%" stop-color="#770088"/><stop offset="23.09%" stop-color="#870098"/><stop offset="23.39%" stop-color="#1800a7"/><stop offset="23.70%" stop-color="#0000c5"/><stop offset="24.01%" stop-color="#0000d5"/><stop offset="24.62%" stop-color="#002fdd"/><stop offset="25.23%" stop-color="#0078dd"/><stop offset="26.76%" stop-color="#0098dd"/><stop offset="31.65%" stop-color="#00aaa3"/><stop offset="36.24%" stop-color="#00aa8b"/><stop offset="36.85%" stop-color="#00aa8d"/><stop offset="38.38%" stop-color="#00a773"/><stop offset="38.99%" stop-color="#00a353"/><stop offset="39.60%" stop-color="#009d1d"/><stop offset="40.52%" stop-color="#009a00"/><stop offset="40.83%" stop-color="#009a08"/><stop offset="42.05%" stop-color="#00aa00"/><stop offset="45.41%" stop-color="#00cc00"/><stop offset="46.33%" stop-color="#00c400"/><stop offset="48.78%" stop-color="#00c400"/><stop offset="49.08%" stop-color="#00e200"/><stop offset="49.39%" stop-color="#00c200"/><stop offset="50.92%" stop-color="#00c200"/><stop offset="51.83%" stop-color="#00c400"/><stop offset="52.14%" stop-color="#00bf00"/><stop offset="52.45%" stop-color="#00da00"/><stop offset="52.75%" stop-color="#00bf00"/><stop offset="55.50%" stop-color="#00aa00"/><stop offset="56.73%" stop-color="#00a700"/><stop offset="58.26%" stop-color="#009a00"/><stop offset="58.56%" stop-color="#009a08"/><stop offset="58.87%" stop-color="#009e28"/><stop offset="59.79%" stop-color="#00a248"/><stop offset="60.40%" stop-color="#00a248"/><stop offset="60.70%" stop-color="#00a13d"/><stop offset="61.01%" stop-color="#00a248"/><stop offset="61.62%" stop-color="#00a13d"/><stop offset="62.23%" stop-color="#00a353"/><stop offset="62.84%" stop-color="#00a353"/><stop offset="63.46%" stop-color="#00a668"/><stop offset="64.07%" stop-color="#00aa88"/><stop offset="67.74%" stop-color="#00a6b7"/><stop offset="69.57%" stop-color="#0092dd"/><stop offset="70.80%" stop-color="#007add"/><stop offset="72.02%" stop-color="#001cdd"/><stop offset="72.94%" stop-color="#0000d9"/><stop offset="74.16%" stop-color="#0000c9"/><stop offset="74.46%" stop-color="#0098dd"/><stop offset="74.77%" stop-color="#00a353"/><stop offset="75.08%" stop-color="#009f33"/><stop offset="75.38%" stop-color="#0000d1"/><stop offset="75.69%" stop-color="#0000d1"/><stop offset="75.99%" stop-color="#00aaa3"/><stop offset="76.61%" stop-color="#00aaa3"/><stop offset="76.91%" stop-color="#00aaab"/><stop offset="77.52%" stop-color="#00aa95"/><stop offset="77.83%" stop-color="#00aa9d"/><stop offset="78.13%" stop-color="#00aa95"/><stop offset="78.44%" stop-color="#009f33"/><stop offset="78.75%" stop-color="#00a353"/><stop offset="79.05%" stop-color="#00a7b3"/><stop offset="79.36%" stop-color="#0000dd"/><stop offset="79.66%" stop-color="#0000d1"/><stop offset="79.97%" stop-color="#009f33"/><stop offset="80.28%" stop-color="#009d1d"/><stop offset="80.58%" stop-color="#00a353"/><stop offset="80.89%" stop-color="#00a3bf"/><stop offset="81.19%" stop-color="#00aaab"/><stop offset="81.50%" stop-color="#009cd3"/><stop offset="81.80%" stop-color="#00a3bf"/><stop offset="82.11%" stop-color="#0098dd"/><stop offset="82.42%" stop-color="#0000d1"/><stop offset="82.72%" stop-color="#008add"/><stop offset="83.03%" stop-color="#830094"/><stop offset="90.98%" stop-color="#770088"/><stop offset="93.12%" stop-color="#380040"/><stop offset="93.73%" stop-color="#2f0035"/><stop offset="94.34%" stop-color="#1c0020"/><stop offset="94.95%" stop-color="#130015"/><stop offset="96.18%" stop-color="#000000"/><stop offset="99.85%" stop-color="#000000"/></linearGradient>
<linearGradient id="g1_5"><stop offset="0.15%" stop-color="#0000dd"/><stop offset="0.46%" stop-color="#2f0035"/><stop offset="5.96%" stop-color="#2f0035"/><stop offset="6.57%" stop-color="#25002b"/><stop offset="17.89%" stop-color="#25002b"/><stop offset="18.50%" stop-color="#2f0035"/><stop offset="19.72%" stop-color="#380040"/><stop offset="20.34%" stop-color="#4b0055"/><stop offset="21.25%" stop-color="#770088"/><stop offset="23.09%" stop-color="#870098"/><stop offset="23.39%" stop-color="#1800a7"/><stop offset="23.70%" stop-color="#0000c5"/><stop offset="24.01%" stop-color="#0000d5"/><stop offset="24.62%" stop-color="#002fdd"/><stop offset="25.23%" stop-color="#0078dd"/><stop offset="26.76%" stop-color="#009adb"/><stop offset="28.90%" stop-color="#00a8af"/><stop offset="34.10%" stop-color="#00aa88"/><stop offset="34.71%" stop-color="#00a353"/><stop offset="35.93%" stop-color="#009a00"/><stop offset="36.85%" stop-color="#00a400"/><stop offset="37.46%" stop-color="#00b700"/><stop offset="39.30%" stop-color="#00bf00"/><stop offset="40.83%" stop-color="#00bf00"/><stop offset="41.44%" stop-color="#00ca00"/><stop offset="43.58%" stop-color="#00cc00"/><stop offset="45.41%" stop-color="#00dc00"/><stop offset="46.94%" stop-color="#00d200"/><stop offset="48.78%" stop-color="#00d400"/><stop offset="49.08%" stop-color="#00f200"/><stop offset="49.39%" stop-color="#00d200"/><stop offset="50.00%" stop-color="#00d200"/><stop offset="52.14%" stop-color="#00cc00"/><stop offset="52.45%" stop-color="#00e400"/><stop offset="52.75%" stop-color="#00ca00"/><stop offset="55.50%" stop-color="#00b700"/><stop offset="56.12%" stop-color="#00ba00"/><stop offset="57.95%" stop-color="#009c00"/><stop offset="58.56%" stop-color="#009b13"/><stop offset="59.48%" stop-color="#00a248"/><stop offset="60.40%" stop-color="#00a353"/><stop offset="60.70%" stop-color="#00a248"/><stop offset="61.31%" stop-color="#00a353"/><stop offset="61.62%" stop-color="#00a248"/><stop offset="62.23%" stop-color="#00a353"/><stop offset="62.84%" stop-color="#00a773"/><stop offset="63.76%" stop-color="#00aa90"/><stop offset="66.82%" stop-color="#009ecf"/><stop offset="67.74%" stop-color="#0092dd"/><stop offset="68.65%" stop-color="#007add"/><stop offset="68.96%" stop-color="#0067dd"/><stop offset="69.57%" stop-color="#0025dd"/><stop offset="70.49%" stop-color="#0000dd"/><stop offset="74.16%" stop-color="#0000c9"/><stop offset="74.46%" stop-color="#0098dd"/><stop offset="74.77%" stop-color="#00a353"/><stop offset="75.08%" stop-color="#009f33"/><stop offset="75.38%" stop-color="#0000d1"/><stop offset="75.69%" stop-color="#0000d1"/><stop offset="75.99%" stop-color="#00aaa3"/><stop offset="76.61%" stop-color="#00aaa3"/><stop offset="76.91%" stop-color="#00aaab"/><stop offset="77.52%" stop-color="#00aa95"/><stop offset="77.83%" stop-color="#00aa9d"/><stop offset="78.13%" stop-color="#00aa95"/><stop offset="78.44%" stop-color="#009f33"/><stop offset="78.75%" stop-color="#00a353"/><stop offset="79.05%" stop-color="#00a7b3"/><stop offset="79.36%" stop-color="#0000dd"/><stop offset="79.66%" stop-color="#0000d1"/><stop offset="79.97%" stop-color="#009f33"/><stop offset="80.28%" stop-color="#009d1d"/><stop offset="80.58%" stop-color="#00a353"/><stop offset="80.89%" stop-color="#00a3bf"/><stop offset="81.19%" stop-color="#00aaab"/><stop offset="81.50%" stop-color="#009cd3"/><stop offset="81.80%" stop-color="#00a3bf"/><stop offset="82.11%" stop-color="#0098dd"/><stop offset="82.42%" stop-color="#0000d1"/><stop offset="82.72%" stop-color="#008add"/><stop offset="83.03%" stop-color="#830094"/><stop offset="90.98%" stop-color="#770088"/><stop offset="93.12%" stop-color="#380040"/><stop offset="93.73%" stop-color="#2f0035"/><stop offset="94.34%" stop-color="#1c0020"/><stop offset="94.95%" stop-color="#130015"/><stop offset="96.18%" stop-color="#000000"/><stop offset="99.85%" stop-color="#000000"/></linearGradient>
<linearGradient id="g1_6"><stop offset="0.15%" stop-color="#0098dd"/><stop offset="0.46%" stop-color="#2f0035"/><stop offset="3.21%" stop-color="#2f0035"/><stop offset="3.82%" stop-color="#25002b"/><stop offset="17.89%" stop-color="#25002b"/><stop offset="18.50%" stop-color="#2f0035"/><stop offset="19.72%" stop-color="#380040"/><stop offset="20.34%" stop-color="#4b0055"/><stop offset="21.25%" stop-color="#770088"/><stop offset="23.09%" stop-color="#870098"/><stop offset="23.39%" stop-color="#1800a7"/><stop offset="23.70%" stop-color="#0000c5"/><stop offset="24.01%" stop-color="#0000d5"/><stop offset="24.62%" stop-color="#002fdd"/><stop offset="25.23%" stop-color="#0078dd"/><stop offset="26.45%" stop-color="#0095dd"/><stop offset="28.29%" stop-color="#00a0c7"/><stop offset="31.65%" stop-color="#00aa9d"/><stop offset="33.49%" stop-color="#00aa93"/><stop offset="35.02%" stop-color="#00aa90"/><stop offset="36.24%" stop-color="#00a97d"/><stop offset="36.85%" stop-color="#00a55d"/><stop offset="37.46%" stop-color="#009e28"/><stop offset="37.77%" stop-color="#009b13"/><stop offset="38.38%" stop-color="#009a08"/><stop offset="39.30%" stop-color="#00a200"/><stop offset="40.21%" stop-color="#00b400"/><stop offset="40.83%" stop-color="#00b400"/><stop offset="42.05%" stop-color="#00bf00"/><stop offset="43.58%" stop-color="#00c200"/><stop offset="45.11%" stop-color="#00cf00"/><stop offset="45.41%" stop-color="#00da00"/><stop offset="46.94%" stop-color="#00cf00"/><stop offset="48.78%" stop-color="#00d200"/><stop offset="49.08%" stop-color="#00ea00"/><stop offset="49.39%" stop-color="#00cc00"/><stop offset="50.92%" stop-color="#00c200"/><stop offset="52.14%" stop-color="#00c200"/><stop offset="52.45%" stop-color="#00dc00"/><stop offset="52.75%" stop-color="#00c200"/><stop offset="54.89%" stop-color="#00bc00"/><stop offset="56.42%" stop-color="#00c400"/><stop offset="59.17%" stop-color="#009c00"/><stop offset="59.79%" stop-color="#009b13"/><stop offset="61.01%" stop-color="#009e28"/><stop offset="62.23%" stop-color="#00a353"/><stop offset="63.46%" stop-color="#00a668"/><stop offset="64.07%" stop-color="#00aa88"/><stop offset="66.82%" stop-color="#00a3bf"/><stop offset="68.04%" stop-color="#0092dd"/><stop offset="68.65%" stop-color="#0082dd"/><stop offset="68.96%" stop-color="#0070dd"/><stop offset="69.27%" stop-color="#0041dd"/><stop offset="69.57%" stop-color="#0025dd"/><stop offset="70.49%" stop-color="#0000dd"/><stop offset="74.16%" stop-color="#0000c9"/><stop offset="74.46%" stop-color="#0098dd"/><stop offset="74.77%" stop-color="#00a353"/><stop offset="75.08%" stop-color="#009f33"/><stop offset="75.38%" stop-color="#0000d1"/><stop offset="75.69%" stop-color="#0000d1"/><stop offset="75.99%" stop-color="#00aaa3"/><stop offset="76.61%" stop-color="#00aaa3"/><stop offset="76.91%" stop-color="#00aaab"/><stop offset="77.52%" stop-color="#00aa95"/><stop offset="77.83%" stop-color="#00aa9d"/><stop offset="78.13%" stop-color="#00aa95"/><stop offset="78.44%" stop-color="#009f33"/><stop offset="78.75%" stop-color="#00a353"/><stop offset="79.05%" stop-color="#00a7b3"/><stop offset="79.36%" stop-color="#0000dd"/><stop offset="79.66%" stop-color="#0000d1"/><stop offset="79.97%" stop-color="#009f33"/><stop offset="80.28%" stop-color="#009d1d"/><stop offset="80.58%" stop-color="#00a353"/><stop offset="80.89%" stop-color="#00a3bf"/><stop offset="81.19%" stop-color="#00aaab"/><stop offset="81.50%" stop-color="#009cd3"/><stop offset="81.80%" stop-color="#00a3bf"/><stop offset="82.11%" stop-color="#0098dd"/><stop offset="82.42%" stop-color="#0000d1"/><stop offset="82.72%" stop-color="#008add"/><stop offset="83.03%" stop-color="#830094"/><stop offset="90.98%" stop-color="#770088"/><stop offset="93.12%" stop-color="#380040"/><stop offset="93.73%" stop-color="#2f0035"/><stop offset="94.34%" stop-color="#1c0020"/><stop offset="94.95%" stop-color="#130015"/><stop offset="96.18%" stop-color="#000000"/><stop offset="99.85%" stop-color="#000000"/></linearGradient>
<linearGradient id="g1_7"><stop offset="0.15%" stop-color="#0000dd"/><stop offset="0.46%" stop-color="#2f0035"/><stop offset="4.13%" stop-color="#2f0035"/><stop offset="4.74%" stop-color="#25002b"/><stop offset="17.89%" stop-color="#25002b"/><stop offset="18.50%" stop-color="#2f0035"/><stop offset="19.72%" stop-color="#380040"/><stop offset="20.34%" stop-color="#4b0055"/><stop offset="21.25%" stop-color="#770088"/><stop offset="23.09%" stop-color="#870098"/><stop offset="23.39%" stop-color="#1800a7"/><stop offset="23.70%" stop-color="#0000c5"/><stop offset="24.01%" stop-color="#0000d5"/><stop offset="24.62%" stop-color="#002fdd"/><stop offset="25.23%" stop-color="#0078dd"/><stop offset="26.76%" stop-color="#009adb"/><stop offset="28.29%" stop-color="#00a8af"/><stop offset="29.51%" stop-color="#00aa98"/><stop offset="30.43%" stop-color="#00aa90"/><stop offset="31.04%" stop-color="#00a97d"/><stop offset="31.65%" stop-color="#00a353"/><stop offset="32.26%" stop-color="#009a08"/><stop offset="33.18%" stop-color="#00aa00"/><stop offset="33.79%" stop-color="#00a700"/><stop offset="35.93%" stop-color="#00c400"/><stop offset="36.85%" stop-color="#00c400"/><stop offset="37.77%" stop-color="#00cf00"/><stop offset="38.38%" stop-color="#00c400"/><stop offset="40.21%" stop-color="#00cc00"/><stop offset="40.83%" stop-color="#00c400"/><stop offset="42.35%" stop-color="#00ca00"/><stop offset="45.11%" stop-color="#00d700"/><stop offset="45.41%" stop-color="#00e200"/><stop offset="46.02%" stop-color="#00d700"/><stop offset="48.78%" stop-color="#00d700"/><stop offset="49.08%" stop-color="#00f400"/><stop offset="49.39%" stop-color="#00d700"/><stop offset="50.92%" stop-color="#00cc00"/><stop offset="51.83%" stop-color="#00cf00"/><stop offset="52.14%" stop-color="#00ca00"/><stop offset="52.45%" stop-color="#00e400"/><stop offset="52.75%" stop-color="#00c700"/><stop offset="53.98%" stop-color="#00c700"/><stop offset="56.73%" stop-color="#00c700"/><stop offset="59.79%" stop-color="#009a00"/><stop offset="60.09%" stop-color="#009a00"/><stop offset="60.40%" stop-color="#009b13"/><stop offset="61.01%" stop-color="#009d1d"/><stop offset="62.54%" stop-color="#00a353"/><stop offset="63.15%" stop-color="#00a353"/><stop offset="63.76%" stop-color="#00a773"/><stop offset="64.07%" stop-color="#00aa88"/><stop offset="66.51%" stop-color="#00a3bf"/><stop offset="67.74%" stop-color="#0092dd"/><stop offset="68.35%" stop-color="#0080dd"/><stop offset="68.65%" stop-color="#0067dd"/><stop offset="68.96%" stop-color="#0038dd"/><stop offset="70.18%" stop-color="#0000dd"/><stop offset="74.16%" stop-color="#0000c9"/><stop offset="74.46%" stop-color="#0098dd"/><stop offset="74.77%" stop-color="#00a353"/><stop offset="75.08%" stop-color="#009f33"/><stop offset="75.38%" stop-color="#0000d1"/><stop offset="75.69%" stop-color="#0000d1"/><stop offset="75.99%" stop-color="#00aaa3"/><stop offset="76.61%" stop-color="#00aaa3"/><stop offset="76.91%" stop-color="#00aaab"/><stop offset="77.52%" stop-color="#00aa95"/><stop offset="77.83%" stop-color="#00aa9d"/><stop offset="78.13%" stop-color="#00aa95"/><stop offset="78.44%" stop-color="#009f33"/><stop offset="78.75%" stop-color="#00a353"/><stop offset="79.05%" stop-color="#00a7b3"/><stop offset="79.36%" stop-color="#0000dd"/><stop offset="79.66%" stop-color="#0000d1"/><stop offset="79.97%" stop-color="#009f33"/><stop offset="80.28%" stop-color="#009d1d"/><stop offset="80.58%" stop-color="#00a353"/><stop offset="80.89%" stop-color="#00a3bf"/><stop offset="81.19%" stop-color="#00aaab"/><stop offset="81.50%" stop-color="#009cd3"/><stop offset="81.80%" stop-color="#00a3bf"/><stop offset="82.11%" stop-color="#0098dd"/><stop offset="82.42%" stop-color="#0000d1"/><stop offset="82.72%" stop-color="#008add"/><stop offset="83.03%" stop-color="#830094"/><stop offset="90.98%" stop-color="#770088"/><stop offset="93.12%" stop-color="#380040"/><stop offset="93.73%" stop-color="#2f0035"/><stop offset="94.34%" stop-color="#1c0020"/><stop offset="94.95%" stop-color="#130015"/><stop offset="96.18%" stop-color="#000000"/><stop offset="99.85%" stop-color="#000000"/></linearGradient>
<linearGradient id="g1_8"><stop offset="0.15%" stop-color="#0000dd"/><stop offset="0.46%" stop-color="#2f0035"/><stop offset="5.66%" stop-color="#2f0035"/><stop offset="6.27%" stop-color="#25002b"/><stop offset="17.89%" stop-color="#25002b"/><stop offset="18.50%" stop-color="#2f0035"/><stop offset="19.72%" stop-color="#380040"/><stop offset="20.34%" stop-color="#4b0055"/><stop offset="21.25%" stop-color="#770088"/><stop offset="23.09%" stop-color="#870098"/><stop offset="23.39%" stop-color="#1800a7"/><stop offset="23.70%" stop-color="#0000c5"/><stop offset="24.01%" stop-color="#0000d5"/><stop offset="24.62%" stop-color="#002fdd"/><stop offset="25.23%" stop-color="#0078dd"/><stop offset="26.45%" stop-color="#0098dd"/><stop offset="28.29%" stop-color="#00aaa8"/><stop offset="29.82%" stop-color="#00aa9b"/><stop offset="31.04%" stop-color="#00aa8b"/><stop offset="31.35%" stop-color="#00a97d"/><stop offset="31.96%" stop-color="#00a13d"/><stop offset="32.26%" stop-color="#009b13"/><stop offset="32.57%" stop-color="#009a00"/><stop offset="33.18%" stop-color="#00aa00"/><stop offset="33.79%" stop-color="#00aa00"/><stop offset="35.63%" stop-color="#00ca00"/><stop offset="37.16%" stop-color="#00d400"/><stop offset="37.77%" stop-color="#00d700"/><stop offset="38.38%" stop-color="#00cc00"/><stop offset="43.58%" stop-color="#00d200"/><stop offset="44.19%" stop-color="#00dc00"/><stop offset="45.41%" stop-color="#00ea00"/><stop offset="46.94%" stop-color="#00dc00"/><stop offset="48.17%" stop-color="#00d700"/><stop offset="48.78%" stop-color="#00da00"/><stop offset="49.08%" stop-color="#00f700"/><stop offset="49.39%" stop-color="#00da00"/><stop offset="51.53%" stop-color="#00d400"/><stop offset="52.14%" stop-color="#00cf00"/><stop offset="52.45%" stop-color="#00e700"/><stop offset="52.75%" stop-color="#00cc00"/><stop offset="55.50%" stop-color="#00c400"/><stop offset="56.12%" stop-color="#00c400"/><stop offset="58.56%" stop-color="#00a400"/><stop offset="59.17%" stop-color="#009a08"/><stop offset="59.79%" stop-color="#009d1d"/><stop offset="60.40%" stop-color="#00a13d"/><stop offset="60.70%" stop-color="#009f33"/><stop offset="61.31%" stop-color="#00a248"/><stop offset="61.93%" stop-color="#00a353"/><stop offset="63.76%" stop-color="#00aa90"/><stop offset="65.60%" stop-color="#00a8af"/><stop offset="67.13%" stop-color="#0098dd"/><stop offset="68.04%" stop-color="#007add"/><stop offset="68.35%" stop-color="#005ddd"/><stop offset="68.65%" stop-color="#002fdd"/><stop offset="69.88%" stop-color="#0000dd"/><stop offset="74.16%" stop-color="#0000c9"/><stop offset="74.46%" stop-color="#0098dd"/><stop offset="74.77%" stop-color="#00a353"/><stop offset="75.08%" stop-color="#009f33"/><stop offset="75.38%" stop-color="#0000d1"/><stop offset="75.69%" stop-color="#0000d1"/><stop offset="75.99%" stop-color="#00aaa3"/><stop offset="76.61%" stop-color="#00aaa3"/><stop offset="76.91%" stop-color="#00aaab"/><stop offset="77.52%" stop-color="#00aa95"/><stop offset="77.83%" stop-color="#00aa9d"/><stop offset="78.13%" stop-color="#00aa95"/><stop offset="78.44%" stop-color="#009f33"/><stop offset="78.75%" stop-color="#00a353"/><stop offset="79.05%" stop-color="#00a7b3"/><stop offset="79.36%" stop-color="#0000dd"/><stop offset="79.66%" stop-color="#0000d1"/><stop offset="79.97%" stop-color="#009f33"/><stop offset="80.28%" stop-color="#009d1d"/><stop offset="80.58%" stop-color="#00a353"/><stop offset="80.89%" stop-color="#00a3bf"/><stop offset="81.19%" stop-color="#00aaab"/><stop offset="81.50%" stop-color="#009cd3"/><stop offset="81.80%" stop-color="#00a3bf"/><stop offset="82.11%" stop-color="#0098dd"/><stop offset="82.42%" stop-color="#0000d1"/><stop offset="82.72%" stop-color="#008add"/><stop offset="83.03%" stop-color="#830094"/><stop offset="90.98%" stop-color="#770088"/><stop offset="93.12%" stop-color="#380040"/><stop offset="93.73%" stop-color="#2f0035"/><stop offset="94.34%" stop-color="#1c0020"/><stop offset="94.95%" stop-color="#130015"/><stop offset="96.18%" stop-color="#000000"/><stop offset="99.85%" stop-color="#000000"/></linearGradient>
<linearGradient id="g1_9"><stop offset="0.15%" stop-color="#0000dd"/><stop offset="0.46%" stop-color="#2f0035"/><stop offset="3.21%" stop-color="#2f0035"/><stop offset="3.82%" stop-color="#25002b"/><stop offset="17.89%" stop-color="#25002b"/><stop offset="18.50%" stop-color="#2f0035"/><stop offset="19.72%" stop-color="#380040"/><stop offset="20.34%" stop-color="#4b0055"/><stop offset="21.25%" stop-color="#770088"/><stop offset="23.09%" stop-color="#870098"/><stop offset="23.39%" stop-color="#1800a7"/><stop offset="23.70%" stop-color="#0000c5"/><stop offset="24.01%" stop-color="#0000d5"/><stop offset="24.62%" stop-color="#002fdd"/><stop offset="25.23%" stop-color="#0078dd"/><stop offset="26.45%" stop-color="#0098dd"/><stop offset="28.90%" stop-color="#00aaa5"/><stop offset="31.96%" stop-color="#00aa8b"/><stop offset="32.57%" stop-color="#00a668"/><stop offset="33.18%" stop-color="#009e28"/><stop offset="34.10%" stop-color="#009c00"/><stop offset="36.54%" stop-color="#00cf00"/><stop offset="37.77%" stop-color="#00da00"/><stop offset="38.07%" stop-color="#00cc00"/><stop offset="40.21%" stop-color="#00d400"/><stop offset="40.83%" stop-color="#00cc00"/><stop offset="41.74%" stop-color="#00d400"/><stop offset="43.58%" stop-color="#00d400"/><stop offset="45.11%" stop-color="#00e200"/><stop offset="45.41%" stop-color="#00ec00"/><stop offset="46.94%" stop-color="#00df00"/><stop offset="48.47%" stop-color="#00df00"/><stop offset="48.78%" stop-color="#00e200"/><stop offset="49.08%" stop-color="#00fc00"/><stop offset="49.39%" stop-color="#00df00"/><stop offset="50.92%" stop-color="#00d400"/><stop offset="51.53%" stop-color="#00dc00"/><stop offset="52.14%" stop-color="#00d700"/><stop offset="52.45%" stop-color="#00ef00"/><stop offset="52.75%" stop-color="#00d400"/><stop offset="55.50%" stop-color="#00c700"/><stop offset="56.12%" stop-color="#00ca00"/><stop offset="58.56%" stop-color="#009f00"/><stop offset="58.87%" stop-color="#009a08"/><stop offset="59.48%" stop-color="#009e28"/><stop offset="60.40%" stop-color="#00a248"/><stop offset="61.01%" stop-color="#009f33"/><stop offset="62.23%" stop-color="#00a353"/><stop offset="62.84%" stop-color="#00a668"/><stop offset="63.46%" stop-color="#00aa88"/><stop offset="66.21%" stop-color="#009fcb"/><stop offset="67.13%" stop-color="#0095dd"/><stop offset="68.04%" stop-color="#007add"/><stop offset="68.35%" stop-color="#005ddd"/><stop offset="68.65%" stop-color="#002fdd"/><stop offset="69.88%" stop-color="#0000dd"/><stop offset="74.16%" stop-color="#0000c9"/><stop offset="74.46%" stop-color="#0098dd"/><stop offset="74.77%" stop-color="#00a353"/><stop offset="75.08%" stop-color="#009f33"/><stop offset="75.38%" stop-color="#0000d1"/><stop offset="75.69%" stop-color="#0000d1"/><stop offset="75.99%" stop-color="#00aaa3"/><stop offset="76.61%" stop-color="#00aaa3"/><stop offset="76.91%" stop-color="#00aaab"/><stop offset="77.52%" stop-color="#00aa95"/><stop offset="77.83%" stop-color="#00aa9d"/><stop offset="78.13%" stop-color="#00aa95"/><stop offset="78.44%" stop-color="#009f33"/><stop offset="78.75%" stop-color="#00a353"/><stop offset="79.05%" stop-color="#00a7b3"/><stop offset="79.36%" stop-color="#0000dd"/><stop offset="79.66%" stop-color="#0000d1"/><stop offset="79.97%" stop-color="#009f33"/><stop offset="80.28%" stop-color="#009d1d"/><stop offset="80.58%" stop-color="#00a353"/><stop offset="80.89%" stop-color="#00a3bf"/><stop offset="81.19%" stop-color="#00aaab"/><stop offset="81.50%" stop-color="#009cd3"/><stop offset="81.80%" stop-color="#00a3bf"/><stop offset="82.11%" stop-color="#0098dd"/><stop offset="82.42%" stop-color="#0000d1"/><stop offset="82.72%" stop-color="#008add"/><stop offset="83.03%" stop-color="#830094"/><stop offset="90.98%" stop-color="#770088"/><stop offset="93.12%" stop-color="#380040"/><stop offset="93.73%" stop-color="#2f0035"/><stop offset="94.34%" stop-color="#1c0020"/><stop offset="94.95%" stop-color="#130015"/><stop offset="96.18%" stop-color="#000000"/><stop offset="99.85%" stop-color="#000000"/></linearGradient>
<linearGradient id="g1_10"><stop offset="0.15%" stop-color="#0000dd"/><stop offset="0.46%" stop-color="#2f0035"/><stop offset="5.05%" stop-color="#2f0035"/><stop offset="5.66%" stop-color="#25002b"/><stop offset="17.89%" stop-color="#25002b"/><stop offset="18.50%" stop-color="#2f0035"/><stop offset="19.72%" stop-color="#380040"/><stop offset="20.34%" stop-color="#4b0055"/><stop offset="21.25%" stop-color="#770088"/><stop offset="23.09%" stop-color="#870098"/><stop offset="23.39%" stop-color="#1800a7"/><stop offset="23.70%" stop-color="#0000c5"/><stop offset="24.01%" stop-color="#0000d5"/><stop offset="24.62%" stop-color="#002fdd"/><stop offset="25.23%" stop-color="#0078dd"/><stop offset="26.76%" stop-color="#009bd7"/><stop offset="28.59%" stop-color="#00aaa8"/><stop offset="31.04%" stop-color="#00aa88"/><stop offset="31.35%" stop-color="#00a97d"/><stop offset="31.96%" stop-color="#00a248"/><stop offset="32.26%" stop-color="#009d1d"/><stop offset="32.57%" stop-color="#009a00"/><stop offset="33.18%" stop-color="#00aa00"/><stop offset="33.49%" stop-color="#00a200"/><stop offset="35.02%" stop-color="#00bc00"/><stop offset="35.32%" stop-color="#00ca00"/><stop offset="36.85%" stop-color="#00cc00"/><stop offset="37.46%" stop-color="#00d400"/><stop offset="38.07%" stop-color="#00c400"/><stop offset="40.21%" stop-color="#00cf00"/><stop offset="40.83%" stop-color="#00c700"/><stop offset="41.74%" stop-color="#00d200"/><stop offset="43.58%" stop-color="#00d400"/><stop offset="45.11%" stop-color="#00df00"/><stop offset="45.41%" stop-color="#00ea00"/><stop offset="46.64%" stop-color="#00d700"/><stop offset="48.78%" stop-color="#00da00"/><stop offset="49.08%" stop-color="#00f700"/><stop offset="49.39%" stop-color="#00da00"/><stop offset="51.22%" stop-color="#00d200"/><stop offset="52.14%" stop-color="#00cc00"/><stop offset="52.45%" stop-color="#00e400"/><stop offset="52.75%" stop-color="#00ca00"/><stop offset="57.03%" stop-color="#00ac00"/><stop offset="58.56%" stop-color="#009a08"/><stop offset="59.48%" stop-color="#00a13d"/><stop offset="60.40%" stop-color="#00a248"/><stop offset="60.70%" stop-color="#00a13d"/><stop offset="62.23%" stop-color="#00a55d"/><stop offset="62.84%" stop-color="#00a97d"/><stop offset="64.07%" stop-color="#00aa9b"/><stop offset="66.51%" stop-color="#009ecf"/><stop offset="67.43%" stop-color="#008add"/><stop offset="68.04%" stop-color="#0078dd"/><stop offset="68.65%" stop-color="#002fdd"/><stop offset="69.88%" stop-color="#0000dd"/><stop offset="74.16%" stop-color="#0000c9"/><stop offset="74.46%" stop-color="#0098dd"/><stop offset="74.77%" stop-color="#00a353"/><stop offset="75.08%" stop-color="#009f33"/><stop offset="75.38%" stop-color="#0000d1"/><stop offset="75.69%" stop-color="#0000d1"/><stop offset="75.99%" stop-color="#00aaa3"/><stop offset="76.61%" stop-color="#00aaa3"/><stop offset="76.91%" stop-color="#00aaab"/><stop offset="77.52%" stop-color="#00aa95"/><stop offset="77.83%" stop-color="#00aa9d"/><stop offset="78.13%" stop-color="#00aa95"/><stop offset="78.44%" stop-color="#009f33"/><stop offset="78.75%" stop-color="#00a353"/><stop offset="79.05%" stop-color="#00a7b3"/><stop offset="79.36%" stop-color="#0000dd"/><stop offset="79.66%" stop-color="#0000d1"/><stop offset="79.97%" stop-color="#009f33"/><stop offset="80.28%" stop-color="#009d1d"/><stop offset="80.58%" stop-color="#00a353"/><stop offset="80.89%" stop-color="#00a3bf"/><stop offset="81.19%" stop-color="#00aaab"/><stop offset="81.50%" stop-color="#009cd3"/><stop offset="81.80%" stop-color="#00a3bf"/><stop offset="82.11%" stop-color="#0098dd"/><stop offset="82.42%" stop-color="#0000d1"/><stop offset="82.72%" stop-color="#008add"/><stop offset="83.03%" stop-color="#830094"/><stop offset="90.98%" stop-color="#770088"/><stop offset="93.12%" stop-color="#380040"/><stop offset="93.73%" stop-color="#2f0035"/><stop offset="94.34%" stop-color="#1c0020"/><stop offset="94.95%" stop-color="#130015"/><stop offset="96.18%" stop-color="#000000"/><stop offset="99.85%" stop-color="#000000"/></linearGradient>
<linearGradient id="g1_11"><stop offset="0.15%" stop-color="#0000dd"/><stop offset="0.46%" stop-color="#2f0035"/><stop offset="5.96%" stop-color="#2f0035"/><stop offset="6.57%" stop-color="#25002b"/><stop offset="17.89%" stop-color="#25002b"/><stop offset="18.50%" stop-color="#2f0035"/><stop offset="19.72%" stop-color="#380040"/><stop offset="20.34%" stop-color="#4b0055"/><stop offset="21.25%" stop-color="#770088"/><stop offset="23.09%" stop-color="#870098"/><stop offset="23.39%" stop-color="#1800a7"/><stop offset="23.70%" stop-color="#0000c5"/><stop offset="24.01%" stop-color="#0000d5"/><stop offset="24.62%" stop-color="#002fdd"/><stop offset="25.23%" stop-color="#0078dd"/><stop offset="26.76%" stop-color="#009adb"/><stop offset="28.90%" stop-color="#00aaab"/><stop offset="32.57%" stop-color="#00aa8b"/><stop offset="33.18%" stop-color="#00a773"/><stop offset="33.49%" stop-color="#00a773"/><stop offset="34.10%" stop-color="#00a13d"/><stop offset="34.71%" stop-color="#009a08"/><stop offset="35.93%" stop-color="#00ac00"/><stop offset="36.85%" stop-color="#00b700"/><stop offset="37.46%" stop-color="#00c700"/><stop offset="39.30%" stop-color="#00c400"/><stop offset="40.21%" stop-color="#00cc00"/><stop offset="40.83%" stop-color="#00c400"/><stop offset="42.35%" stop-color="#00ca00"/><stop offset="45.11%" stop-color="#00d700"/><stop offset="45.41%" stop-color="#00e200"/><stop offset="46.94%" stop-color="#00d400"/><stop offset="48.78%" stop-color="#00da00"/><stop offset="49.08%" stop-color="#00f400"/><stop offset="49.39%" stop-color="#00d700"/><stop offset="50.92%" stop-color="#00cf00"/><stop offset="51.83%" stop-color="#00cf00"/><stop offset="52.14%" stop-color="#00cc00"/><stop offset="52.45%" stop-color="#00e400"/><stop offset="52.75%" stop-color="#00ca00"/><stop offset="56.73%" stop-color="#00b400"/><stop offset="58.56%" stop-color="#009a00"/><stop offset="59.79%" stop-color="#009f33"/><stop offset="60.40%" stop-color="#00a13d"/><stop offset="60.70%" stop-color="#009f33"/><stop offset="61.93%" stop-color="#00a353"/><stop offset="62.54%" stop-color="#00a773"/><stop offset="62.84%" stop-color="#00aa88"/><stop offset="65.60%" stop-color="#00a6b7"/><stop offset="67.13%" stop-color="#0092dd"/><stop offset="68.04%" stop-color="#007add"/><stop offset="68.35%" stop-color="#005ddd"/><stop offset="68.65%" stop-color="#002fdd"/><stop offset="69.88%" stop-color="#0000dd"/><stop offset="74.16%" stop-color="#0000c9"/><stop offset="74.46%" stop-color="#0098dd"/><stop offset="74.77%" stop-color="#00a353"/><stop offset="75.08%" stop-color="#009f33"/><stop offset="75.38%" stop-color="#0000d1"/><stop offset="75.69%" stop-color="#0000d1"/><stop offset="75.99%" stop-color="#00aaa3"/><stop offset="76.61%" stop-color="#00aaa3"/><stop offset="76.91%" stop-color="#00aaab"/><stop offset="77.52%" stop-color="#00aa95"/><stop offset="77.83%" stop-color="#00aa9d"/><stop offset="78.13%" stop-color="#00aa95"/><stop offset="78.44%" stop-color="#009f33"/><stop offset="78.75%" stop-color="#00a353"/><stop offset="79.05%" stop-color="#00a7b3"/><stop offset="79.36%" stop-color="#0000dd"/><stop offset="79.66%" stop-color="#0000d1"/><stop offset="79.97%" stop-color="#009f33"/><stop offset="80.28%" stop-color="#009d1d"/><stop offset="80.58%" stop-color="#00a353"/><stop offset="80.89%" stop-color="#00a3bf"/><stop offset="81.19%" stop-color="#00aaab"/><stop offset="81.50%" stop-color="#009cd3"/><stop offset="81.80%" stop-color="#00a3bf"/><stop offset="82.11%" stop-color="#0098dd"/><stop offset="82.42%" stop-color="#0000d1"/><stop offset="82.72%" stop-color="#008add"/><stop offset="83.03%" stop-color="#830094"/><stop offset="90.98%" stop-color="#770088"/><stop offset="93.12%" stop-color="#380040"/><stop offset="93.73%" stop-color="#2f0035"/><stop offset="94.34%" stop-color="#1c0020"/><stop offset="94.95%" stop-color="#130015"/><stop offset="96.18%" stop-color="#000000"/><stop offset="99.85%" stop-color="#000000"/></linearGradient>
<linearGradient id="g1_12"><stop offset="0.15%" stop-color="#0000dd"/><stop offset="0.46%" stop-color="#2f0035"/><stop offset="6.27%" stop-color="#2f0035"/><stop offset="6.88%" stop-color="#25002b"/><stop offset="17.89%" stop-color="#25002b"/><stop offset="18.50%" stop-color="#2f0035"/><stop offset="19.72%" stop-color="#380040"/><stop offset="20.34%" stop-color="#4b0055"/><stop offset="21.25%" stop-color="#770088"/><stop offset="23.09%" stop-color="#870098"/><stop offset="23.39%" stop-color="#1800a7"/><stop offset="23.70%" stop-color="#0000c5"/><stop offset="24.01%" stop-color="#0000d5"/><stop offset="24.62%" stop-color="#002fdd"/><stop offset="25.23%" stop-color="#0078dd"/><stop offset="26.76%" stop-color="#009bd7"/><stop offset="28.59%" stop-color="#00aaab"/><stop offset="31.65%" stop-color="#00aa8b"/><stop offset="32.57%" stop-color="#00a353"/><stop offset="33.18%" stop-color="#009d1d"/><stop offset="33.49%" stop-color="#009a08"/><stop offset="34.71%" stop-color="#00a400"/><stop offset="37.46%" stop-color="#00cc00"/><stop offset="38.38%" stop-color="#00c400"/><stop offset="40.21%" stop-color="#00ca00"/><stop offset="40.83%" stop-color="#00c200"/><stop offset="42.35%" stop-color="#00c700"/><stop offset="43.58%" stop-color="#00cf00"/><stop offset="45.41%" stop-color="#00e400"/><stop offset="47.55%" stop-color="#00cf00"/><stop offset="48.78%" stop-color="#00d700"/><stop offset="49.08%" stop-color="#00f200"/><stop offset="49.39%" stop-color="#00d400"/><stop offset="50.31%" stop-color="#00cc00"/><stop offset="51.83%" stop-color="#00d200"/><stop offset="52.14%" stop-color="#00cf00"/><stop offset="52.45%" stop-color="#00e700"/><stop offset="52.75%" stop-color="#00cc00"/><stop offset="56.42%" stop-color="#00bf00"/><stop offset="58.56%" stop-color="#009c00"/><stop offset="60.09%" stop-color="#00a248"/><stop offset="60.40%" stop-color="#00a353"/><stop offset="61.01%" stop-color="#00a248"/><stop offset="61.62%" stop-color="#00a353"/><stop offset="61.93%" stop-color="#00a668"/><stop offset="62.54%" stop-color="#00a55d"/><stop offset="63.15%" stop-color="#00a97d"/><stop offset="64.37%" stop-color="#00aa9b"/><stop offset="67.13%" stop-color="#0095dd"/><stop offset="68.04%" stop-color="#007add"/><stop offset="68.35%" stop-color="#005ddd"/><stop offset="68.65%" stop-color="#002fdd"/><stop offset="69.88%" stop-color="#0000dd"/><stop offset="74.16%" stop-color="#0000c9"/><stop offset="74.46%" stop-color="#0098dd"/><stop offset="74.77%" stop-color="#00a353"/><stop offset="75.08%" stop-color="#009f33"/><stop offset="75.38%" stop-color="#0000d1"/><stop offset="75.69%" stop-color="#0000d1"/><stop offset="75.99%" stop-color="#00aaa3"/><stop offset="76.61%" stop-color="#00aaa3"/><stop offset="76.91%" stop-color="#00aaab"/><stop offset="77.52%" stop-color="#00aa95"/><stop offset="77.83%" stop-color="#00aa9d"/><stop offset="78.13%" stop-color="#00aa95"/><stop offset="78.44%" stop-color="#009f33"/><stop offset="78.75%" stop-color="#00a353"/><stop offset="79.05%" stop-color="#00a7b3"/><stop offset="79.36%" stop-color="#0000dd"/><stop offset="79.66%" stop-color="#0000d1"/><stop offset="79.97%" stop-color="#009f33"/><stop offset="80.28%" stop-color="#009d1d"/><stop offset="80.58%" stop-color="#00a353"/><stop offset="80.89%" stop-color="#00a3bf"/><stop offset="81.19%" stop-color="#00aaab"/><stop offset="81.50%" stop-color="#009cd3"/><stop offset="81.80%" stop-color="#00a3bf"/><stop offset="82.11%" stop-color="#0098dd"/><stop offset="82.42%" stop-color="#0000d1"/><stop offset="82.72%" stop-color="#008add"/><stop offset="83.03%" stop-color="#830094"/><stop offset="90.98%" stop-color="#770088"/><stop offset="93.12%" stop-color="#380040"/><stop offset="93.73%" stop-color="#2f0035"/><stop offset="94.34%" stop-color="#1c0020"/><stop offset="94.95%" stop-color="#130015"/><stop offset="96.18%" stop-color="#000000"/><stop offset="99.85%" stop-color="#000000"/></linearGradient>
<linearGradient id="g1_13"><stop offset="0.15%" stop-color="#0000dd"/><stop offset="0.46%" stop-color="#2f0035"/><stop offset="3.52%" stop-color="#2f0035"/><stop offset="4.13%" stop-color="#25002b"/><stop offset="17.89%" stop-color="#25002b"/><stop offset="18.50%" stop-color="#2f0035"/><stop offset="19.72%" stop-color="#380040"/><stop offset="20.34%" stop-color="#4b0055"/><stop offset="21.25%" stop-color="#770088"/><stop offset="23.09%" stop-color="#870098"/><stop offset="23.39%" stop-color="#1800a7"/><stop offset="23.70%" stop-color="#0000c5"/><stop offset="24.01%" stop-color="#0000d5"/><stop offset="24.62%" stop-color="#002fdd"/><stop offset="25.23%" stop-color="#0078dd"/><stop offset="26.45%" stop-color="#0098dd"/><stop offset="27.98%" stop-color="#00a8af"/><stop offset="28.90%" stop-color="#00aaa5"/><stop offset="30.73%" stop-color="#00aa90"/><stop offset="31.35%" stop-color="#00aa88"/><stop offset="31.65%" stop-color="#00a668"/><stop offset="31.96%" stop-color="#009e28"/><stop offset="32.26%" stop-color="#009a00"/><stop offset="33.18%" stop-color="#00af00"/><stop offset="33.79%" stop-color="#00af00"/><stop offset="35.32%" stop-color="#00c700"/><stop offset="36.85%" stop-color="#00c700"/><stop offset="37.77%" stop-color="#00cf00"/><stop offset="38.38%" stop-color="#00c400"/><stop offset="40.21%" stop-color="#00cc00"/><stop offset="40.83%" stop-color="#00c400"/><stop offset="41.74%" stop-color="#00cc00"/><stop offset="43.58%" stop-color="#00cc00"/><stop offset="45.11%" stop-color="#00d700"/><stop offset="45.41%" stop-color="#00e200"/><stop offset="46.94%" stop-color="#00d400"/><stop offset="48.78%" stop-color="#00d700"/><stop offset="49.08%" stop-color="#00f400"/><stop offset="49.39%" stop-color="#00d400"/><stop offset="51.22%" stop-color="#00d200"/><stop offset="52.14%" stop-color="#00cc00"/><stop offset="52.45%" stop-color="#00e400"/><stop offset="52.75%" stop-color="#00ca00"/><stop offset="55.50%" stop-color="#00ba00"/><stop offset="56.12%" stop-color="#00bc00"/><stop offset="58.56%" stop-color="#009a00"/><stop offset="59.17%" stop-color="#009d1d"/><stop offset="59.48%" stop-color="#00a13d"/><stop offset="60.09%" stop-color="#00a353"/><stop offset="60.70%" stop-color="#00a248"/><stop offset="61.01%" stop-color="#00a353"/><stop offset="61.31%" stop-color="#00a13d"/><stop offset="62.54%" stop-color="#00a668"/><stop offset="63.15%" stop-color="#00aa88"/><stop offset="66.21%" stop-color="#00a2c3"/><stop offset="67.13%" stop-color="#0092dd"/><stop offset="68.04%" stop-color="#007add"/><stop offset="68.35%" stop-color="#005ddd"/><stop offset="68.65%" stop-color="#002fdd"/><stop offset="69.88%" stop-color="#0000dd"/><stop offset="74.16%" stop-color="#0000c9"/><stop offset="74.46%" stop-color="#0098dd"/><stop offset="74.77%" stop-color="#00a353"/><stop offset="75.08%" stop-color="#009f33"/><stop offset="75.38%" stop-color="#0000d1"/><stop offset="75.69%" stop-color="#0000d1"/><stop offset="75.99%" stop-color="#00aaa3"/><stop offset="76.61%" stop-color="#00aaa3"/><stop offset="76.91%" stop-color="#00aaab"/><stop offset="77.52%" stop-color="#00aa95"/><stop offset="77.83%" stop-color="#00aa9d"/><stop offset="78.13%" stop-color="#00aa95"/><stop offset="78.44%" stop-color="#009f33"/><stop offset="78.75%" stop-color="#00a353"/><stop offset="79.05%" stop-color="#00a7b3"/><stop offset="79.36%" stop-color="#0000dd"/><stop offset="79.66%" stop-color="#0000d1"/><stop offset="79.97%" stop-color="#009f33"/><stop offset="80.28%" stop-color="#009d1d"/><stop offset="80.58%" stop-color="#00a353"/><stop offset="80.89%" stop-color="#00a3bf"/><stop offset="81.19%" stop-color="#00aaab"/><stop offset="81.50%" stop-color="#009cd3"/><stop offset="81.80%" stop-color="#00a3bf"/><stop offset="82.11%" stop-color="#0098dd"/><stop offset="82.42%" stop-color="#0000d1"/><stop offset="82.72%" stop-color="#008add"/><stop offset="83.03%" stop-color="#830094"/><stop offset="90.98%" stop-color="#770088"/><stop offset="93.12%" stop-color="#380040"/><stop offset="93.73%" stop-color="#2f0035"/><stop offset="94.34%" stop-color="#1c0020"/><stop offset="94.95%" stop-color="#130015"/><stop offset="96.18%" stop-color="#000000"/><stop offset="99.85%" stop-color="#000000"/></linearGradient>
<linearGradient id="g1_14"><stop offset="0.15%" stop-color="#0000dd"/><stop offset="0.46%" stop-color="#2f0035"/><stop offset="4.74%" stop-color="#2f0035"/><stop offset="5.35%" stop-color="#25002b"/><stop offset="17.89%" stop-color="#25002b"/><stop offset="18.50%" stop-color="#2f0035"/><stop offset="19.72%" stop-color="#380040"/><stop offset="20.34%" stop-color="#4b0055"/><stop offset="21.25%" stop-color="#770088"/><stop offset="23.09%" stop-color="#870098"/><stop offset="23.39%" stop-color="#1800a7"/><stop offset="23.70%" stop-color="#0000c5"/><stop offset="24.01%" stop-color="#0000d5"/><stop offset="24.62%" stop-color="#002fdd"/><stop offset="25.23%" stop-color="#0078dd"/><stop offset="26.76%" stop-color="#0098dd"/><stop offset="28.90%" stop-color="#00a8af"/><stop offset="34.10%" stop-color="#00aa88"/><stop offset="34.71%" stop-color="#00a668"/><stop offset="35.32%" stop-color="#009f33"/><stop offset="35.63%" stop-color="#009a08"/><stop offset="36.85%" stop-color="#00ac00"/><stop offset="37.77%" stop-color="#00c400"/><stop offset="38.38%" stop-color="#00c400"/><stop offset="40.21%" stop-color="#00d400"/><stop offset="40.83%" stop-color="#00ca00"/><stop offset="41.74%" stop-color="#00d200"/><stop offset="43.58%" stop-color="#00d400"/><stop offset="45.41%" stop-color="#00ec00"/><stop offset="47.86%" stop-color="#00dc00"/><stop offset="48.78%" stop-color="#00e200"/><stop offset="49.08%" stop-color="#00ff00"/><stop offset="49.39%" stop-color="#00df00"/><stop offset="52.14%" stop-color="#00da00"/><stop offset="52.45%" stop-color="#00f200"/><stop offset="52.75%" stop-color="#00d700"/><stop offset="55.50%" stop-color="#00cf00"/><stop offset="56.12%" stop-color="#00d400"/><stop offset="58.56%" stop-color="#00b400"/><stop offset="59.17%" stop-color="#00a400"/><stop offset="60.70%" stop-color="#009a08"/><stop offset="61.62%" stop-color="#009e28"/><stop offset="62.23%" stop-color="#00a248"/><stop offset="63.46%" stop-color="#00a55d"/><stop offset="64.07%" stop-color="#00aa88"/><stop offset="66.82%" stop-color="#00a0c7"/><stop offset="67.74%" stop-color="#0092dd"/><stop offset="68.35%" stop-color="#0080dd"/><stop offset="68.65%" stop-color="#0067dd"/><stop offset="68.96%" stop-color="#0038dd"/><stop offset="70.18%" stop-color="#0000dd"/><stop offset="74.16%" stop-color="#0000c9"/><stop offset="74.46%" stop-color="#0098dd"/><stop offset="74.77%" stop-color="#00a353"/><stop offset="75.08%" stop-color="#009f33"/><stop offset="75.38%" stop-color="#0000d1"/><stop offset="75.69%" stop-color="#0000d1"/><stop offset="75.99%" stop-color="#00aaa3"/><stop offset="76.61%" stop-color="#00aaa3"/><stop offset="76.91%" stop-color="#00aaab"/><stop offset="77.52%" stop-color="#00aa95"/><stop offset="77.83%" stop-color="#00aa9d"/><stop offset="78.13%" stop-color="#00aa95"/><stop offset="78.44%" stop-color="#009f33"/><stop offset="78.75%" stop-color="#00a353"/><stop offset="79.05%" stop-color="#00a7b3"/><stop offset="79.36%" stop-color="#0000dd"/><stop offset="79.66%" stop-color="#0000d1"/><stop offset="79.97%" stop-color="#009f33"/><stop offset="80.28%" stop-color="#009d1d"/><stop offset="80.58%" stop-color="#00a353"/><stop offset="80.89%" stop-color="#00a3bf"/><stop offset="81.19%" stop-color="#00aaab"/><stop offset="81.50%" stop-color="#009cd3"/><stop offset="81.80%" stop-color="#00a3bf"/><stop offset="82.11%" stop-color="#0098dd"/><stop offset="82.42%" stop-color="#0000d1"/><stop offset="82.72%" stop-color="#008add"/><stop offset="83.03%" stop-color="#830094"/><stop offset="90.98%" stop-color="#770088"/><stop offset="93.12%" stop-color="#380040"/><stop offset="93.73%" stop-color="#2f0035"/><stop offset="94.34%" stop-color="#1c0020"/><stop offset="94.95%" stop-color="#130015"/><stop offset="96.18%" stop-color="#000000"/><stop offset="99.85%" stop-color="#000000"/></linearGradient>
<linearGradient id="g1_15"><stop offset="0.15%" stop-color="#0000dd"/><stop offset="0.46%" stop-color="#2f0035"/><stop offset="4.13%" stop-color="#2f0035"/><stop offset="4.74%" stop-color="#25002b"/><stop offset="17.89%" stop-color="#25002b"/><stop offset="18.50%" stop-color="#2f0035"/><stop offset="19.72%" stop-color="#380040"/><stop offset="20.34%" stop-color="#4b0055"/><stop offset="21.25%" stop-color="#770088"/><stop offset="23.09%" stop-color="#870098"/><stop offset="23.39%" stop-color="#1800a7"/><stop offset="23.70%" stop-color="#0000c5"/><stop offset="24.01%" stop-color="#0000d5"/><stop offset="24.62%" stop-color="#002fdd"/><stop offset="25.23%" stop-color="#0078dd"/><stop offset="26.76%" stop-color="#0098dd"/><stop offset="29.51%" stop-color="#00a7b3"/><stop offset="30.12%" stop-color="#00a7b3"/><stop offset="33.18%" stop-color="#00aa98"/><stop offset="35.32%" stop-color="#00aa8b"/><stop offset="35.63%" stop-color="#00a668"/><stop offset="36.85%" stop-color="#009e28"/><stop offset="37.46%" stop-color="#009a00"/><stop offset="38.99%" stop-color="#00b200"/><stop offset="39.30%" stop-color="#00af00"/><stop offset="40.21%" stop-color="#00c700"/><stop offset="43.58%" stop-color="#00d200"/><stop offset="45.11%" stop-color="#00e200"/><stop offset="45.41%" stop-color="#00ec00"/><stop offset="46.94%" stop-color="#00e200"/><stop offset="48.78%" stop-color="#00e700"/><stop offset="49.08%" stop-color="#3bff00"/><stop offset="49.39%" stop-color="#00ea00"/><stop offset="52.14%" stop-color="#00da00"/><stop offset="52.45%" stop-color="#00f200"/><stop offset="52.75%" stop-color="#00d700"/><stop offset="54.59%" stop-color="#00cc00"/><stop offset="55.50%" stop-color="#00c400"/><stop offset="56.12%" stop-color="#00c400"/><stop offset="58.26%" stop-color="#009f00"/><stop offset="58.56%" stop-color="#009a08"/><stop offset="59.17%" stop-color="#009e28"/><stop offset="59.79%" stop-color="#00a13d"/><stop offset="61.01%" stop-color="#00a13d"/><stop offset="62.23%" stop-color="#00a55d"/><stop offset="63.15%" stop-color="#00aa88"/><stop offset="65.90%" stop-color="#00a4bb"/><stop offset="67.43%" stop-color="#0092dd"/><stop offset="68.35%" stop-color="#007add"/><stop offset="68.96%" stop-color="#0038dd"/><stop offset="70.18%" stop-color="#0000dd"/><stop offset="74.16%" stop-color="#0000c9"/><stop offset="74.46%" stop-color="#0098dd"/><stop offset="74.77%" stop-color="#00a353"/><stop offset="75.08%" stop-color="#009f33"/><stop offset="75.38%" stop-color="#0000d1"/><stop offset="75.69%" stop-color="#0000d1"/><stop offset="75.99%" stop-color="#00aaa3"/><stop offset="76.61%" stop-color="#00aaa3"/><stop offset="76.91%" stop-color="#00aaab"/><stop offset="77.52%" stop-color="#00aa95"/><stop offset="77.83%" stop-color="#00aa9d"/><stop offset="78.13%" stop-color="#00aa95"/><stop offset="78.44%" stop-color="#009f33"/><stop offset="78.75%" stop-color="#00a353"/><stop offset="79.05%" stop-color="#00a7b3"/><stop offset="79.36%" stop-color="#0000dd"/><stop offset="79.66%" stop-color="#0000d1"/><stop offset="79.97%" stop-color="#009f33"/><stop offset="80.28%" stop-color="#009d1d"/><stop offset="80.58%" stop-color="#00a353"/><stop offset="80.89%" stop-color="#00a3bf"/><stop offset="81.19%" stop-color="#00aaab"/><stop offset="81.50%" stop-color="#009cd3"/><stop offset="81.80%" stop-color="#00a3bf"/><stop offset="82.11%" stop-color="#0098dd"/><stop offset="82.42%" stop-color="#0000d1"/><stop offset="82.72%" stop-color="#008add"/><stop offset="83.03%" stop-color="#830094"/><stop offset="90.98%" stop-color="#770088"/><stop offset="93.12%" stop-color="#380040"/><stop offset="93.73%" stop-color="#2f0035"/><stop offset="94.34%" stop-color="#1c0020"/><stop offset="94.95%" stop-color="#130015"/><stop offset="96.18%" stop-color="#000000"/><stop offset="99.85%" stop-color="#000000"/></linearGradient>
<linearGradient id="g1_16"><stop offset="0.15%" stop-color="#0000dd"/><stop offset="0.46%" stop-color="#2f0035"/><stop offset="4.43%" stop-color="#2f0035"/><stop offset="5.05%" stop-color="#25002b"/><stop offset="17.89%" stop-color="#25002b"/><stop offset="18.50%" stop-color="#2f0035"/><stop offset="19.72%" stop-color="#380040"/><stop offset="20.34%" stop-color="#4b0055"/><stop offset="21.25%" stop-color="#770088"/><stop offset="23.09%" stop-color="#870098"/><stop offset="23.39%" stop-color="#1800a7"/><stop offset="23.70%" stop-color="#0000d1"/><stop offset="24.31%" stop-color="#0038dd"/><stop offset="24.92%" stop-color="#0078dd"/><stop offset="26.15%" stop-color="#0098dd"/><stop offset="29.82%" stop-color="#00aaab"/><stop offset="33.49%" stop-color="#00aa8b"/><stop offset="34.10%" stop-color="#00aa88"/><stop offset="34.71%" stop-color="#00a773"/><stop offset="35.93%" stop-color="#009b13"/><stop offset="36.24%" stop-color="#009a00"/><stop offset="37.77%" stop-color="#00ba00"/><stop offset="38.38%" stop-color="#00ba00"/><stop offset="39.91%" stop-color="#00cc00"/><stop offset="40.83%" stop-color="#00c700"/><stop offset="41.74%" stop-color="#00cf00"/><stop offset="45.11%" stop-color="#00e200"/><stop offset="45.41%" stop-color="#00ea00"/><stop offset="47.86%" stop-color="#00da00"/><stop offset="48.78%" stop-color="#00df00"/><stop offset="49.08%" stop-color="#00fc00"/><stop offset="49.39%" stop-color="#00dc00"/><stop offset="50.92%" stop-color="#00d200"/><stop offset="51.83%" stop-color="#00d400"/><stop offset="52.14%" stop-color="#00cf00"/><stop offset="52.45%" stop-color="#00e700"/><stop offset="52.75%" stop-color="#00cc00"/><stop offset="57.34%" stop-color="#009c00"/><stop offset="58.56%" stop-color="#009f33"/><stop offset="58.87%" stop-color="#00a248"/><stop offset="59.17%" stop-color="#00a13d"/><stop offset="60.40%" stop-color="#00a353"/><stop offset="61.01%" stop-color="#00a248"/><stop offset="61.93%" stop-color="#00a55d"/><stop offset="62.54%" stop-color="#00a97d"/><stop offset="66.82%" stop-color="#00a2c3"/><stop offset="68.35%" stop-color="#0090dd"/><stop offset="69.27%" stop-color="#007ddd"/><stop offset="70.49%" stop-color="#001cdd"/><stop offset="71.41%" stop-color="#0000dd"/><stop offset="74.16%" stop-color="#0000cd"/><stop offset="74.46%" stop-color="#0098dd"/><stop offset="74.77%" stop-color="#00a353"/><stop offset="75.08%" stop-color="#009f33"/><stop offset="75.38%" stop-color="#0000d1"/><stop offset="75.69%" stop-color="#0000d1"/><stop offset="75.99%" stop-color="#00aaa3"/><stop offset="76.61%" stop-color="#00aaa3"/><stop offset="76.91%" stop-color="#00aaab"/><stop offset="77.52%" stop-color="#00aa95"/><stop offset="77.83%" stop-color="#00aa9d"/><stop offset="78.13%" stop-color="#00aa95"/><stop offset="78.44%" stop-color="#009f33"/><stop offset="78.75%" stop-color="#00a353"/><stop offset="79.05%" stop-color="#00a7b3"/><stop offset="79.36%" stop-color="#0000dd"/><stop offset="79.66%" stop-color="#0000d1"/><stop offset="79.97%" stop-color="#009f33"/><stop offset="80.28%" stop-color="#009d1d"/><stop offset="80.58%" stop-color="#00a353"/><stop offset="80.89%" stop-color="#00a3bf"/><stop offset="81.19%" stop-color="#00aaab"/><stop offset="81.50%" stop-color="#009cd3"/><stop offset="81.80%" stop-color="#00a3bf"/><stop offset="82.11%" stop-color="#0098dd"/><stop offset="82.42%" stop-color="#0000d1"/><stop offset="82.72%" stop-color="#008add"/><stop offset="83.03%" stop-color="#830094"/><stop offset="90.98%" stop-color="#770088"/><stop offset="93.12%" stop-color="#380040"/><stop offset="93.73%" stop-color="#2f0035"/><stop offset="94.34%" stop-color="#1c0020"/><stop offset="94.95%" stop-color="#130015"/><stop offset="96.18%" stop-color="#000000"/><stop offset="99.85%" stop-color="#000000"/></linearGradient>
<linearGradient id="g1_17"><stop offset="0.15%" stop-color="#0000dd"/><stop offset="0.46%" stop-color="#2f0035"/><stop offset="4.43%" stop-color="#2f0035"/><stop offset="5.05%" stop-color="#25002b"/><stop offset="17.89%" stop-color="#25002b"/><stop offset="18.50%" stop-color="#2f0035"/><stop offset="19.72%" stop-color="#380040"/><stop offset="20.34%" stop-color="#4b0055"/><stop offset="21.25%" stop-color="#770088"/><stop offset="23.09%" stop-color="#870098"/><stop offset="23.39%" stop-color="#1800a7"/><stop offset="23.70%" stop-color="#0000c5"/><stop offset="24.01%" stop-color="#0000d5"/><stop offset="24.62%" stop-color="#002fdd"/><stop offset="25.23%" stop-color="#0078dd"/><stop offset="26.76%" stop-color="#009adb"/><stop offset="29.20%" stop-color="#00a7b3"/><stop offset="35.02%" stop-color="#00aa88"/><stop offset="35.63%" stop-color="#00a773"/><stop offset="36.54%" stop-color="#009f33"/><stop offset="36.85%" stop-color="#009e28"/><stop offset="37.16%" stop-color="#009a08"/><stop offset="37.77%" stop-color="#00a700"/><stop offset="38.38%" stop-color="#00a700"/><stop offset="39.30%" stop-color="#00b700"/><stop offset="40.21%" stop-color="#00cf00"/><stop offset="40.83%" stop-color="#00ca00"/><stop offset="45.11%" stop-color="#00df00"/><stop offset="45.41%" stop-color="#00ea00"/><stop offset="46.94%" stop-color="#00dc00"/><stop offset="48.78%" stop-color="#00e200"/><stop offset="49.08%" stop-color="#0fff00"/><stop offset="49.39%" stop-color="#00e200"/><stop offset="50.92%" stop-color="#00d700"/><stop offset="51.83%" stop-color="#00da00"/><stop offset="52.14%" stop-color="#00d400"/><stop offset="52.45%" stop-color="#00ec00"/><stop offset="52.75%" stop-color="#00d200"/><stop offset="55.20%" stop-color="#00bc00"/><stop offset="56.12%" stop-color="#00b400"/><stop offset="57.65%" stop-color="#009c00"/><stop offset="58.56%" stop-color="#009d1d"/><stop offset="59.17%" stop-color="#00a13d"/><stop offset="60.40%" stop-color="#00a353"/><stop offset="60.70%" stop-color="#00a248"/><stop offset="61.31%" stop-color="#00a353"/><stop offset="61.62%" stop-color="#00a353"/><stop offset="61.93%" stop-color="#00a668"/><stop offset="62.54%" stop-color="#00a773"/><stop offset="62.84%" stop-color="#00aa88"/><stop offset="65.90%" stop-color="#00a7b3"/><stop offset="68.04%" stop-color="#0098dd"/><stop offset="69.57%" stop-color="#0070dd"/><stop offset="70.18%" stop-color="#002fdd"/><stop offset="70.80%" stop-color="#0013dd"/><stop offset="71.41%" stop-color="#0000dd"/><stop offset="74.16%" stop-color="#0000cd"/><stop offset="74.46%" stop-color="#0098dd"/><stop offset="74.77%" stop-color="#00a353"/><stop offset="75.08%" stop-color="#009f33"/><stop offset="75.38%" stop-color="#0000d1"/><stop offset="75.69%" stop-color="#0000d1"/><stop offset="75.99%" stop-color="#00aaa3"/><stop offset="76.61%" stop-color="#00aaa3"/><stop offset="76.91%" stop-color="#00aaab"/><stop offset="77.52%" stop-color="#00aa95"/><stop offset="77.83%" stop-color="#00aa9d"/><stop offset="78.13%" stop-color="#00aa95"/><stop offset="78.44%" stop-color="#009f33"/><stop offset="78.75%" stop-color="#00a353"/><stop offset="79.05%" stop-color="#00a7b3"/><stop offset="79.36%" stop-color="#0000dd"/><stop offset="79.66%" stop-color="#0000d1"/><stop offset="79.97%" stop-color="#009f33"/><stop offset="80.28%" stop-color="#009d1d"/><stop offset="80.58%" stop-color="#00a353"/><stop offset="80.89%" stop-color="#00a3bf"/><stop offset="81.19%" stop-color="#00aaab"/><stop offset="81.50%" stop-color="#009cd3"/><stop offset="81.80%" stop-color="#00a3bf"/><stop offset="82.11%" stop-color="#0098dd"/><stop offset="82.42%" stop-color="#0000d1"/><stop offset="82.72%" stop-color="#008add"/><stop offset="83.03%" stop-color="#830094"/><stop offset="90.98%" stop-color="#770088"/><stop offset="93.12%" stop-color="#380040"/><stop offset="93.73%" stop-color="#2f0035"/><stop offset="94.34%" stop-color="#1c0020"/><stop offset="94.95%" stop-color="#130015"/><stop offset="96.18%" stop-color="#000000"/><stop offset="99.85%" stop-color="#000000"/></linearGradient>
<linearGradient id="g1_18"><stop offset="0.15%" stop-color="#860097"/><stop offset="0.46%" stop-color="#2f0035"/><stop offset="5.05%" stop-color="#2f0035"/><stop offset="5.66%" stop-color="#25002b"/><stop offset="17.89%" stop-color="#25002b"/><stop offset="18.50%" stop-color="#2f0035"/><stop offset="19.72%" stop-color="#380040"/><stop offset="20.34%" stop-color="#4b0055"/><stop offset="21.25%" stop-color="#770088"/><stop offset="23.09%" stop-color="#870098"/><stop offset="23.39%" stop-color="#1800a7"/><stop offset="23.70%" stop-color="#0000c1"/><stop offset="24.92%" stop-color="#0000dd"/><stop offset="25.84%" stop-color="#0067dd"/><stop offset="26.15%" stop-color="#007ddd"/><stop offset="27.68%" stop-color="#009adb"/><stop offset="31.96%" stop-color="#00aaa5"/><stop offset="33.18%" stop-color="#00aa9d"/><stop offset="33.79%" stop-color="#00aaa3"/><stop offset="38.38%" stop-color="#00aa88"/><stop offset="38.99%" stop-color="#00a773"/><stop offset="39.60%" stop-color="#00a13d"/><stop offset="40.83%" stop-color="#009b13"/><stop offset="41.13%" stop-color="#009a00"/><stop offset="43.58%" stop-color="#00b200"/><stop offset="44.19%" stop-color="#00bc00"/><stop offset="45.41%" stop-color="#00cc00"/><stop offset="45.72%" stop-color="#00c700"/><stop offset="46.33%" stop-color="#00cc00"/><stop offset="48.78%" stop-color="#00cc00"/><stop offset="49.08%" stop-color="#00ea00"/><stop offset="49.39%" stop-color="#00ca00"/><stop offset="50.92%" stop-color="#00c200"/><stop offset="51.83%" stop-color="#00c400"/><stop offset="52.14%" stop-color="#00bf00"/><stop offset="52.45%" stop-color="#00dc00"/><stop offset="52.75%" stop-color="#00c200"/><stop offset="54.59%" stop-color="#00b700"/><stop offset="55.50%" stop-color="#00a700"/><stop offset="57.03%" stop-color="#009f00"/><stop offset="58.56%" stop-color="#009f33"/><stop offset="58.87%" stop-color="#00a248"/><stop offset="60.09%" stop-color="#00a353"/><stop offset="60.40%" stop-color="#00a55d"/><stop offset="61.01%" stop-color="#00a353"/><stop offset="61.62%" stop-color="#00a668"/><stop offset="62.23%" stop-color="#00aa8b"/><stop offset="64.68%" stop-color="#00a8af"/><stop offset="66.51%" stop-color="#0098dd"/><stop offset="68.04%" stop-color="#0078dd"/><stop offset="68.65%" stop-color="#002fdd"/><stop offset="69.88%" stop-color="#0000dd"/><stop offset="74.16%" stop-color="#0000c9"/><stop offset="74.46%" stop-color="#0098dd"/><stop offset="74.77%" stop-color="#00a353"/><stop offset="75.08%" stop-color="#009f33"/><stop offset="75.38%" stop-color="#0000d1"/><stop offset="75.69%" stop-color="#0000d1"/><stop offset="75.99%" stop-color="#00aaa3"/><stop offset="76.61%" stop-color="#00aaa3"/><stop offset="76.91%" stop-color="#00aaab"/><stop offset="77.52%" stop-color="#00aa95"/><stop offset="77.83%" stop-color="#00aa9d"/><stop offset="78.13%" stop-color="#00aa95"/><stop offset="78.44%" stop-color="#009f33"/><stop offset="78.75%" stop-color="#00a353"/><stop offset="79.05%" stop-color="#00a7b3"/><stop offset="79.36%" stop-color="#0000dd"/><stop offset="79.66%" stop-color="#0000d1"/><stop offset="79.97%" stop-color="#009f33"/><stop offset="80.28%" stop-color="#009d1d"/><stop offset="80.58%" stop-color="#00a353"/><stop offset="80.89%" stop-color="#00a3bf"/><stop offset="81.19%" stop-color="#00aaab"/><stop offset="81.50%" stop-color="#009cd3"/><stop offset="81.80%" stop-color="#00a3bf"/><stop offset="82.11%" stop-color="#0098dd"/><stop offset="82.42%" stop-color="#0000d1"/><stop offset="82.72%" stop-color="#008add"/><stop offset="83.03%" stop-color="#830094"/><stop offset="90.98%" stop-color="#770088"/><stop offset="93.12%" stop-color="#380040"/><stop offset="93.73%" stop-color="#2f0035"/><stop offset="94.34%" stop-color="#1c0020"/><stop offset="94.95%" stop-color="#130015"/><stop offset="96.18%" stop-color="#000000"/><stop offset="99.85%" stop-color="#000000"/></linearGradient>
<linearGradient id="g1_19"><stop offset="0.15%" stop-color="#0000dd"/><stop offset="0.46%" stop-color="#380040"/><stop offset="10.24%" stop-color="#380040"/><stop offset="10.86%" stop-color="#41004b"/><stop offset="16.06%" stop-color="#41004b"/><stop offset="16.67%" stop-color="#380040"/><stop offset="19.11%" stop-color="#380040"/><stop offset="19.72%" stop-color="#41004b"/><stop offset="30.43%" stop-color="#41004b"/><stop offset="31.04%" stop-color="#4b0055"/><stop offset="46.64%" stop-color="#4b0055"/><stop offset="47.25%" stop-color="#540060"/><stop offset="50.00%" stop-color="#540060"/><stop offset="50.31%" stop-color="#41004b"/><stop offset="67.74%" stop-color="#41004b"/><stop offset="68.35%" stop-color="#380040"/><stop offset="73.55%" stop-color="#380040"/><stop offset="74.16%" stop-color="#2f0035"/><stop offset="87.31%" stop-color="#2f0035"/><stop offset="87.92%" stop-color="#25002b"/><stop offset="91.90%" stop-color="#25002b"/><stop offset="92.51%" stop-color="#1c0020"/><stop offset="93.73%" stop-color="#1c0020"/><stop offset="94.34%" stop-color="#130015"/><stop offset="94.95%" stop-color="#130015"/><stop offset="95.57%" stop-color="#09000b"/><stop offset="96.48%" stop-color="#09000b"/><stop offset="97.09%" stop-color="#000000"/><stop offset="99.85%" stop-color="#000000"/></linearGradient>
<linearGradient id="g1_20"><stop offset="0.15%" stop-color="#0000dd"/><stop offset="0.46%" stop-color="#2f0035"/><stop offset="8.10%" stop-color="#2f0035"/><stop offset="8.72%" stop-color="#380040"/><stop offset="46.94%" stop-color="#380040"/><stop offset="47.55%" stop-color="#41004b"/><stop offset="64.37%" stop-color="#41004b"/><stop offset="64.98%" stop-color="#380040"/><stop offset="68.35%" stop-color="#380040"/><stop offset="68.96%" stop-color="#2f0035"/><stop offset="74.46%" stop-color="#2f0035"/><stop offset="75.08%" stop-color="#25002b"/><stop offset="79.97%" stop-color="#25002b"/><stop offset="80.58%" stop-color="#2f0035"/><stop offset="83.03%" stop-color="#2f0035"/><stop offset="83.64%" stop-color="#25002b"/><stop offset="89.45%" stop-color="#25002b"/><stop offset="90.06%" stop-color="#1c0020"/><stop offset="93.43%" stop-color="#1c0020"/><stop offset="94.04%" stop-color="#130015"/><stop offset="94.95%" stop-color="#130015"/><stop offset="95.57%" stop-color="#09000b"/><stop offset="96.48%" stop-color="#09000b"/><stop offset="97.09%" stop-color="#000000"/><stop offset="99.85%" stop-color="#000000"/></linearGradient>
<linearGradient id="g1_21"><stop offset="0.15%" stop-color="#00a3bf"/><stop offset="0.46%" stop-color="#25002b"/><stop offset="16.06%" stop-color="#25002b"/><stop offset="17.28%" stop-color="#4b0055"/><stop offset="17.89%" stop-color="#7a008b"/><stop offset="18.81%" stop-color="#850096"/><stop offset="19.11%" stop-color="#78009b"/><stop offset="19.42%" stop-color="#0000b1"/><stop offset="19.72%" stop-color="#0000d1"/><stop offset="20.03%" stop-color="#0038dd"/><stop offset="20.34%" stop-color="#0082dd"/><stop offset="20.64%" stop-color="#009cd3"/><stop offset="20.95%" stop-color="#00aaa8"/><stop offset="21.25%" stop-color="#00aa8d"/><stop offset="21.56%" stop-color="#00a353"/><stop offset="21.87%" stop-color="#009a08"/><stop offset="23.09%" stop-color="#00cc00"/><stop offset="24.31%" stop-color="#00fa00"/><stop offset="24.62%" stop-color="#0fff00"/><stop offset="26.45%" stop-color="#bcff00"/><stop offset="29.20%" stop-color="#f0ea00"/><stop offset="33.18%" stop-color="#ffb900"/><stop offset="34.10%" stop-color="#ffb500"/><stop offset="38.69%" stop-color="#f8da00"/><stop offset="53.36%" stop-color="#efed00"/><stop offset="56.42%" stop-color="#d8f500"/><stop offset="58.26%" stop-color="#c0fd00"/><stop offset="59.17%" stop-color="#93ff00"/><stop offset="60.09%" stop-color="#3bff00"/><stop offset="60.40%" stop-color="#2cff00"/><stop offset="60.70%" stop-color="#0fff00"/><stop offset="61.01%" stop-color="#00fc00"/><stop offset="66.82%" stop-color="#009a00"/><stop offset="67.13%" stop-color="#009a08"/><stop offset="67.74%" stop-color="#009f33"/><stop offset="69.27%" stop-color="#00a97d"/><stop offset="70.49%" stop-color="#00aa93"/><stop offset="75.99%" stop-color="#00aaa0"/><stop offset="76.30%" stop-color="#009b13"/><stop offset="76.61%" stop-color="#009b13"/><stop offset="76.91%" stop-color="#00aaa0"/><stop offset="77.52%" stop-color="#00aaa0"/><stop offset="77.83%" stop-color="#009b13"/><stop offset="78.13%" stop-color="#009b13"/><stop offset="78.44%" stop-color="#00aaa0"/><stop offset="78.75%" stop-color="#009b13"/><stop offset="79.05%" stop-color="#009b13"/><stop offset="79.36%" stop-color="#00aaa0"/><stop offset="79.66%" stop-color="#00aaa0"/><stop offset="79.97%" stop-color="#009b13"/><stop offset="80.58%" stop-color="#009b13"/><stop offset="80.89%" stop-color="#00aaa0"/><stop offset="81.19%" stop-color="#00aaa0"/><stop offset="81.50%" stop-color="#009b13"/><stop offset="82.42%" stop-color="#009b13"/><stop offset="82.72%" stop-color="#00aaa8"/><stop offset="85.78%" stop-color="#00a3bf"/><stop offset="87.61%" stop-color="#0095dd"/><stop offset="89.45%" stop-color="#0078dd"/><stop offset="90.67%" stop-color="#0009dd"/><stop offset="91.28%" stop-color="#0000c1"/><stop offset="91.59%" stop-color="#0000b1"/><stop offset="91.90%" stop-color="#1800a7"/><stop offset="92.20%" stop-color="#4d00a0"/><stop offset="92.81%" stop-color="#83009a"/><stop offset="94.34%" stop-color="#7d008e"/><stop offset="95.26%" stop-color="#670075"/><stop offset="95.87%" stop-color="#41004b"/><stop offset="97.09%" stop-color="#130015"/><stop offset="97.71%" stop-color="#000000"/><stop offset="99.85%" stop-color="#000000"/></linearGradient>
<clipPath id="c0"><rect x="48" y="28" width="267" height="368"/></clipPath>
<clipPath id="c1"><rect x="328" y="28" width="267" height="368"/></clipPath>
<clipPath id="call"><rect x="48" y="28" width="267" height="368"/><rect x="328" y="28" width="267" height="368"/></clipPath>
</defs>
<rect width="640" height="440" fill="#fff"/>
<g clip-path="url(#call)">
<rect x="48" y="28.00" width="267" height="17.73" fill="url(#g0_0)"/>
<rect x="48" y="44.73" width="267" height="17.73" fill="url(#g0_1)"/>
<rect x="48" y="61.45" width="267" height="17.73" fill="url(#g0_2)"/>
<rect x="48" y="78.18" width="267" height="17.73" fill="url(#g0_3)"/>
<rect x="48" y="94.91" width="267" height="17.73" fill="url(#g0_4)"/>
<rect x="48" y="111.64" width="267" height="17.73" fill="url(#g0_5)"/>
<rect x="48" y="128.36" width="267" height="17.73" fill="url(#g0_6)"/>
<rect x="48" y="145.09" width="267" height="17.73" fill="url(#g0_7)"/>
<rect x="48" y="161.82" width="267" height="17.73" fill="url(#g0_8)"/>
<rect x="48" y="178.55" width="267" height="17.73" fill="url(#g0_9)"/>
<rect x="48" y="195.27" width="267" height="17.73" fill="url(#g0_10)"/>
<rect x="48" y="212.00" width="267" height="17.73" fill="url(#g0_11)"/>
<rect x="48" y="228.73" width="267" height="17.73" fill="url(#g0_12)"/>
<rect x="48" y="245.45" width="267" height="17.73" fill="url(#g0_13)"/>
<rect x="48" y="262.18" width="267" height="17.73" fill="url(#g0_14)"/>
<rect x="48" y="278.91" width="267" height="17.73" fill="url(#g0_15)"/>
<rect x="48" y="295.64" width="267" height="17.73" fill="url(#g0_16)"/>
<rect x="48" y="312.36" width="267" height="17.73" fill="url(#g0_17)"/>
<rect x="48" y="329.09" width="267" height="17.73" fill="url(#g0_18)"/>
<rect x="48" y="345.82" width="267" height="17.73" fill="url(#g0_19)"/>
<rect x="48" y="362.55" width="267" height="17.73" fill="url(#g0_20)"/>
<rect x="48" y="379.27" width="267" height="16.73" fill="url(#g0_21)"/>
<rect x="328" y="28.00" width="267" height="17.73" fill="url(#g1_0)"/>
<rect x="328" y="44.73" width="267" height="17.73" fill="url(#g1_1)"/>
<rect x="328" y="61.45" width="267" height="17.73" fill="url(#g1_2)"/>
<rect x="328" y="78.18" width="267" height="17.73" fill="url(#g1_3)"/>
<rect x="328" y="94.91" width="267" height="17.73" fill="url(#g1_4)"/>
<rect x="328" y="111.64" width="267" height="17.73" fill="url(#g1_5)"/>
<rect x="328" y="128.36" width="267" height="17.73" fill="url(#g1_6)"/>
<rect x="328" y="145.09" width="267" height="17.73" fill="url(#g1_7)"/>
<rect x="328" y="161.82" width="267" height="17.73" fill="url(#g1_8)"/>
<rect x="328" y="178.55" width="267" height="17.73" fill="url(#g1_9)"/>
<rect x="328" y="195.27" width="267" height="17.73" fill="url(#g1_10)"/>
<rect x="328" y="212.00" width="267" height="17.73" fill="url(#g1_11)"/>
<rect x="328" y="228.73" width="267" height="17.73" fill="url(#g1_12)"/>
<rect x="328" y="245.45" width="267" height="17.73" fill="url(#g1_13)"/>
<rect x="328" y="262.18" width="267" height="17.73" fill="url(#g1_14)"/>
<rect x="328" y="278.91" width="267" height="17.73" fill="url(#g1_15)"/>
<rect x="328" y="295.64" width="267" height="17.73" fill="url(#g1_16)"/>
<rect x="328" y="312.36" width="267" height="17.73" fill="url(#g1_17)"/>
<rect x="328" y="329.09" width="267" height="17.73" fill="url(#g1_18)"/>
<rect x="328" y="345.82" width="267" height="17.73" fill="url(#g1_19)"/>
<rect x="328" y="362.55" width="267" height="17.73" fill="url(#g1_20)"/>
<rect x="328" y="379.27" width="267" height="16.73" fill="url(#g1_21)"/>
</g>
<g clip-path="url(#call)"><line x1="70.0" x2="75.0" y1="283.5" y2="283.5" stroke="#fff" stroke-width="1"/><text class="w" transform="translate(79.2,288.5) scale(1.08,1)">0</text><line x1="70.0" x2="75.0" y1="235.5" y2="235.5" stroke="#fff" stroke-width="1"/><text class="w" transform="translate(79.2,240.5) scale(1.08,1)">5</text><line x1="70.0" x2="75.0" y1="187.5" y2="187.5" stroke="#fff" stroke-width="1"/><text class="w" transform="translate(79.2,192.5) scale(1.08,1)">10</text><line x1="70.0" x2="75.0" y1="139.5" y2="139.5" stroke="#fff" stroke-width="1"/><text class="w" transform="translate(79.2,144.5) scale(1.08,1)">15</text><line x1="70.0" x2="75.0" y1="91.5" y2="91.5" stroke="#fff" stroke-width="1"/><text class="w" transform="translate(79.2,96.5) scale(1.08,1)">20</text><line x1="70.0" x2="75.0" y1="43.5" y2="43.5" stroke="#fff" stroke-width="1"/><text class="w" transform="translate(79.2,48.5) scale(1.08,1)">25</text><text class="w" transform="translate(318.2,288.5) scale(1.08,1)" text-anchor="end">0</text><text class="w" transform="translate(318.2,240.5) scale(1.08,1)" text-anchor="end">5</text><text class="w" transform="translate(318.2,192.5) scale(1.08,1)" text-anchor="end">10</text><text class="w" transform="translate(318.2,144.5) scale(1.08,1)" text-anchor="end">15</text><text class="w" transform="translate(318.2,96.5) scale(1.08,1)" text-anchor="end">20</text><text class="w" transform="translate(318.2,48.5) scale(1.08,1)" text-anchor="end">25</text><line x1="350.0" x2="355.0" y1="283.5" y2="283.5" stroke="#fff" stroke-width="1"/><text class="w" transform="translate(359.2,288.5) scale(1.08,1)">0</text><line x1="350.0" x2="355.0" y1="235.5" y2="235.5" stroke="#fff" stroke-width="1"/><text class="w" transform="translate(359.2,240.5) scale(1.08,1)">5</text><line x1="350.0" x2="355.0" y1="187.5" y2="187.5" stroke="#fff" stroke-width="1"/><text class="w" transform="translate(359.2,192.5) scale(1.08,1)">10</text><line x1="350.0" x2="355.0" y1="139.5" y2="139.5" stroke="#fff" stroke-width="1"/><text class="w" transform="translate(359.2,144.5) scale(1.08,1)">15</text><line x1="350.0" x2="355.0" y1="91.5" y2="91.5" stroke="#fff" stroke-width="1"/><text class="w" transform="translate(359.2,96.5) scale(1.08,1)">20</text><line x1="350.0" x2="355.0" y1="43.5" y2="43.5" stroke="#fff" stroke-width="1"/><text class="w" transform="translate(359.2,48.5) scale(1.08,1)">25</text></g>
<g clip-path="url(#call)" fill="none" stroke="#fff" stroke-width="2.1" stroke-linejoin="round" stroke-linecap="round">
<path d="M48.0 301.0L49.0 301.0L50.0 301.0L51.0 301.0L52.0 301.0L53.0 301.0L54.0 301.0L55.0 301.0L56.0 301.0L57.0 301.0L58.0 301.0L59.0 301.0L60.0 301.0L61.0 301.1L62.0 301.0L63.0 301.1L64.0 301.1L65.0 301.1L66.0 301.1L67.0 301.1L68.0 301.1L69.0 301.1L70.0 301.0L71.0 301.0L72.0 301.1L73.0 301.1L74.0 301.2L75.0 301.2L76.0 301.1L77.0 301.1L78.0 301.1L79.0 301.1L80.0 301.1L81.0 301.1L82.0 301.2L83.0 301.2L84.0 301.1L85.0 301.2L86.0 301.2L87.0 301.3L88.0 301.2L89.0 301.1L90.0 301.2L91.0 301.2L92.0 301.1L93.0 301.2L94.0 300.9L95.0 300.6L96.0 300.2L97.0 299.8L98.0 299.1L99.0 298.1L100.0 297.2L101.0 296.6L102.0 295.5L103.0 294.4L104.0 292.8L105.0 291.0L106.0 289.2L107.0 284.2L108.0 278.8L109.0 274.6L110.0 272.1L111.0 273.6L112.0 272.0L113.0 267.0L114.0 258.6L115.0 252.3L116.0 252.1L117.0 249.3L118.0 245.8L119.0 244.1L120.0 240.2L121.0 237.6L122.0 232.9L123.0 229.7L124.0 227.3L125.0 225.3L126.0 221.3L127.0 216.4L128.0 219.6L129.0 219.5L130.0 211.8L131.0 210.2L132.0 212.2L133.0 209.1L134.0 206.1L135.0 202.7L136.0 201.7L137.0 202.6L138.0 201.8L139.0 200.8L140.0 198.3L141.0 199.5L142.0 202.5L143.0 202.9L144.0 200.8L145.0 200.0L146.0 199.0L147.0 197.8L148.0 197.8L149.0 193.4L150.0 192.9L151.0 195.6L152.0 192.5L153.0 185.7L154.0 186.5L155.0 194.6L156.0 196.3L157.0 193.4L158.0 193.0L159.0 191.4L160.0 192.2L161.0 193.4L162.0 193.0L163.0 192.6L164.0 190.5L165.0 187.9L166.0 188.0L167.0 190.1L168.0 189.3L169.0 188.9L170.0 189.2L171.0 185.9L172.0 185.5L173.0 191.4L174.0 189.4L175.0 184.3L176.0 184.0L177.0 182.1L178.0 182.7L179.0 184.8L180.0 182.7L181.0 180.2L182.0 178.0L183.0 173.8L184.0 174.4L185.0 177.4L186.0 176.9L187.0 176.5L188.0 178.3L189.0 178.4L190.0 177.7L191.0 180.5L192.0 181.6L193.0 182.3L194.0 183.0L195.0 183.6L196.0 185.0L197.0 187.7L198.0 191.5L199.0 190.5L200.0 191.7L201.0 193.2L202.0 192.7L203.0 195.6L204.0 196.2L205.0 196.3L206.0 200.6L207.0 203.3L208.0 205.3L209.0 207.7L210.0 208.5L211.0 209.3L212.0 211.3L213.0 213.0L214.0 212.9L215.0 214.3L216.0 217.4L217.0 219.0L218.0 220.9L219.0 222.7L220.0 224.2L221.0 227.4L222.0 229.5L223.0 229.9L224.0 232.2L225.0 234.6L226.0 235.4L227.0 236.9L228.0 238.4L229.0 238.5L230.0 240.9L231.0 244.1L232.0 245.9L233.0 249.6L234.0 251.4L235.0 251.6L236.0 252.7L237.0 253.7L238.0 256.6L239.0 259.4L240.0 261.3L241.0 262.4L242.0 263.2L243.0 266.8L244.0 268.8L245.0 269.2L246.0 270.9L247.0 272.7L248.0 273.8L249.0 273.8L250.0 275.8L251.0 276.2L252.0 275.8L253.0 276.2L254.0 276.4L255.0 277.3L256.0 277.4L257.0 277.4L258.0 277.9L259.0 277.1L260.0 276.6L261.0 276.6L262.0 277.3L263.0 277.6L264.0 277.2L265.0 277.0L266.0 277.8L267.0 279.5L268.0 280.4L269.0 282.6L270.0 286.1L271.0 287.2L272.0 287.1L273.0 286.7L274.0 287.4L275.0 287.9L276.0 288.7L277.0 289.4L278.0 289.4L279.0 289.9L280.0 290.7L281.0 290.5L282.0 290.8L283.0 291.5L284.0 291.7L285.0 292.4L286.0 293.0L287.0 293.9L288.0 295.1L289.0 295.4L290.0 296.1L291.0 296.8L292.0 297.8L293.0 298.6L294.0 298.7L295.0 299.1L296.0 300.0L297.0 300.7L298.0 301.5L299.0 302.0L300.0 302.7L301.0 303.1L302.0 303.2L303.0 303.8L304.0 304.3L305.0 304.6L306.0 304.8L307.0 305.0L308.0 305.4L309.0 305.6L310.0 305.9L311.0 306.2L312.0 306.3L313.0 306.4L314.0 306.8L315.0 306.8"/>
<path d="M48.0 301.0L49.0 301.0L50.0 301.0L51.0 301.0L52.0 301.0L53.0 301.0L54.0 301.0L55.0 301.0L56.0 301.0L57.0 301.0L58.0 301.0L59.0 301.0L60.0 301.0L61.0 301.0L62.0 301.1L63.0 301.0L64.0 301.1L65.0 301.1L66.0 301.1L67.0 301.1L68.0 301.0L69.0 301.1L70.0 301.1L71.0 301.1L72.0 301.1L73.0 301.1L74.0 301.1L75.0 301.1L76.0 301.1L77.0 301.1L78.0 301.0L79.0 301.1L80.0 301.1L81.0 301.1L82.0 301.1L83.0 301.2L84.0 301.2L85.0 301.1L86.0 301.1L87.0 301.1L88.0 301.1L89.0 301.2L90.0 301.2L91.0 301.2L92.0 301.2L93.0 301.2L94.0 300.7L95.0 300.3L96.0 300.0L97.0 299.7L98.0 298.7L99.0 298.1L100.0 297.5L101.0 296.2L102.0 295.0L103.0 294.0L104.0 292.3L105.0 290.2L106.0 286.9L107.0 283.5L108.0 284.2L109.0 278.3L110.0 271.6L111.0 270.4L112.0 267.3L113.0 261.1L114.0 259.5L115.0 258.0L116.0 254.6L117.0 251.3L118.0 244.1L119.0 239.3L120.0 239.5L121.0 235.4L122.0 229.9L123.0 230.0L124.0 229.4L125.0 226.9L126.0 221.0L127.0 220.6L128.0 220.2L129.0 214.9L130.0 212.8L131.0 211.1L132.0 208.2L133.0 206.7L134.0 208.6L135.0 205.7L136.0 198.8L137.0 200.7L138.0 203.9L139.0 203.4L140.0 204.6L141.0 201.6L142.0 198.4L143.0 199.6L144.0 200.6L145.0 200.8L146.0 197.3L147.0 193.2L148.0 193.5L149.0 192.7L150.0 194.2L151.0 195.4L152.0 192.8L153.0 191.5L154.0 193.8L155.0 195.0L156.0 192.1L157.0 192.6L158.0 193.0L159.0 193.0L160.0 195.0L161.0 193.8L162.0 192.6L163.0 193.3L164.0 193.4L165.0 192.9L166.0 190.5L167.0 188.0L168.0 187.6L169.0 186.3L170.0 186.1L171.0 186.9L172.0 186.2L173.0 184.8L174.0 182.3L175.0 181.2L176.0 183.4L177.0 183.9L178.0 181.4L179.0 178.6L180.0 178.3L181.0 175.3L182.0 176.5L183.0 179.8L184.0 177.3L185.0 175.2L186.0 173.3L187.0 176.1L188.0 177.9L189.0 178.5L190.0 181.1L191.0 182.3L192.0 178.9L193.0 177.7L194.0 180.2L195.0 181.7L196.0 181.8L197.0 181.6L198.0 184.9L199.0 188.5L200.0 191.8L201.0 193.2L202.0 195.3L203.0 194.4L204.0 192.3L205.0 195.7L206.0 198.7L207.0 199.4L208.0 202.3L209.0 206.2L210.0 208.5L211.0 209.0L212.0 209.5L213.0 211.9L214.0 213.7L215.0 216.2L216.0 217.4L217.0 218.7L218.0 219.1L219.0 221.4L220.0 226.4L221.0 227.7L222.0 229.1L223.0 229.8L224.0 230.7L225.0 232.7L226.0 235.0L227.0 238.3L228.0 239.0L229.0 240.0L230.0 242.3L231.0 246.1L232.0 248.1L233.0 248.5L234.0 250.5L235.0 252.3L236.0 253.7L237.0 254.6L238.0 256.2L239.0 259.5L240.0 261.8L241.0 262.6L242.0 263.7L243.0 265.7L244.0 268.2L245.0 269.7L246.0 271.9L247.0 273.0L248.0 273.5L249.0 275.1L250.0 276.3L251.0 276.5L252.0 276.5L253.0 275.9L254.0 276.3L255.0 276.7L256.0 277.2L257.0 277.4L258.0 277.0L259.0 277.1L260.0 277.4L261.0 276.9L262.0 276.6L263.0 277.0L264.0 277.5L265.0 277.5L266.0 277.6L267.0 278.7L268.0 279.9L269.0 282.8L270.0 286.1L271.0 286.5L272.0 286.6L273.0 286.8L274.0 287.7L275.0 288.1L276.0 288.1L277.0 288.7L278.0 289.0L279.0 289.5L280.0 290.5L281.0 290.9L282.0 291.3L283.0 291.3L284.0 291.6L285.0 292.2L286.0 293.2L287.0 294.0L288.0 294.7L289.0 295.6L290.0 296.6L291.0 296.9L292.0 297.3L293.0 298.4L294.0 299.2L295.0 299.6L296.0 300.0L297.0 300.7L298.0 301.4L299.0 301.9L300.0 302.4L301.0 302.7L302.0 303.1L303.0 303.7L304.0 304.0L305.0 304.3L306.0 304.9L307.0 305.2L308.0 305.6L309.0 305.8L310.0 305.9L311.0 306.1L312.0 306.1L313.0 306.3L314.0 306.7L315.0 306.9"/>
<path d="M48.0 301.0L49.0 301.0L50.0 301.0L51.0 301.0L52.0 301.0L53.0 301.0L54.0 301.0L55.0 301.0L56.0 301.0L57.0 301.1L58.0 301.1L59.0 301.1L60.0 301.0L61.0 301.0L62.0 301.1L63.0 301.1L64.0 301.1L65.0 301.1L66.0 301.1L67.0 301.1L68.0 301.1L69.0 301.1L70.0 301.1L71.0 301.1L72.0 301.1L73.0 301.1L74.0 301.2L75.0 301.2L76.0 301.1L77.0 301.1L78.0 301.1L79.0 301.1L80.0 301.1L81.0 301.1L82.0 301.1L83.0 301.1L84.0 301.2L85.0 301.3L86.0 301.2L87.0 301.2L88.0 301.2L89.0 301.3L90.0 301.2L91.0 301.1L92.0 301.1L93.0 301.1L94.0 300.8L95.0 300.5L96.0 300.1L97.0 299.7L98.0 298.9L99.0 297.9L100.0 297.0L101.0 295.9L102.0 295.0L103.0 292.9L104.0 291.3L105.0 291.1L106.0 288.6L107.0 284.3L108.0 279.8L109.0 279.8L110.0 276.3L111.0 268.2L112.0 265.1L113.0 263.8L114.0 261.4L115.0 257.9L116.0 252.4L117.0 248.2L118.0 245.3L119.0 242.1L120.0 238.8L121.0 233.4L122.0 229.3L123.0 228.5L124.0 225.5L125.0 224.5L126.0 224.7L127.0 221.5L128.0 217.6L129.0 215.8L130.0 213.1L131.0 210.5L132.0 210.0L133.0 207.8L134.0 206.0L135.0 203.5L136.0 202.6L137.0 202.9L138.0 202.4L139.0 201.3L140.0 201.8L141.0 201.4L142.0 198.7L143.0 198.4L144.0 193.6L145.0 193.3L146.0 194.1L147.0 192.4L148.0 192.9L149.0 194.3L150.0 196.0L151.0 194.0L152.0 192.8L153.0 192.0L154.0 190.8L155.0 190.2L156.0 192.2L157.0 191.0L158.0 190.6L159.0 194.0L160.0 193.4L161.0 194.2L162.0 193.1L163.0 192.9L164.0 194.2L165.0 190.4L166.0 186.8L167.0 186.5L168.0 186.2L169.0 186.8L170.0 187.7L171.0 187.4L172.0 186.6L173.0 185.4L174.0 184.7L175.0 185.0L176.0 184.2L177.0 183.2L178.0 183.2L179.0 182.2L180.0 182.5L181.0 180.4L182.0 178.9L183.0 176.4L184.0 175.1L185.0 176.2L186.0 175.6L187.0 175.7L188.0 177.4L189.0 178.6L190.0 177.2L191.0 177.6L192.0 179.2L193.0 179.6L194.0 183.5L195.0 190.2L196.0 191.5L197.0 190.1L198.0 189.4L199.0 191.4L200.0 193.6L201.0 190.2L202.0 188.3L203.0 192.2L204.0 196.0L205.0 196.3L206.0 198.1L207.0 201.4L208.0 202.5L209.0 201.9L210.0 203.6L211.0 205.9L212.0 209.6L213.0 213.3L214.0 212.9L215.0 213.9L216.0 217.7L217.0 219.3L218.0 219.5L219.0 220.5L220.0 222.3L221.0 224.5L222.0 226.8L223.0 228.3L224.0 230.8L225.0 234.4L226.0 235.6L227.0 236.7L228.0 239.8L229.0 241.3L230.0 242.9L231.0 245.9L232.0 246.7L233.0 247.5L234.0 249.7L235.0 251.9L236.0 253.2L237.0 255.2L238.0 256.6L239.0 258.6L240.0 259.7L241.0 260.8L242.0 263.9L243.0 266.5L244.0 268.1L245.0 270.0L246.0 272.6L247.0 273.3L248.0 273.6L249.0 273.9L250.0 275.2L251.0 276.3L252.0 275.9L253.0 275.5L254.0 275.6L255.0 276.5L256.0 277.2L257.0 277.2L258.0 276.7L259.0 276.3L260.0 277.0L261.0 276.8L262.0 276.9L263.0 276.9L264.0 276.5L265.0 276.8L266.0 277.7L267.0 279.2L268.0 280.1L269.0 281.9L270.0 285.0L271.0 285.9L272.0 286.6L273.0 287.0L274.0 287.6L275.0 287.9L276.0 287.9L277.0 288.5L278.0 289.4L279.0 289.6L280.0 290.1L281.0 290.8L282.0 291.0L283.0 291.6L284.0 291.9L285.0 292.1L286.0 292.9L287.0 293.6L288.0 294.3L289.0 295.3L290.0 296.2L291.0 296.6L292.0 297.4L293.0 298.2L294.0 299.0L295.0 299.8L296.0 300.5L297.0 300.8L298.0 301.2L299.0 302.1L300.0 302.6L301.0 302.9L302.0 303.3L303.0 303.6L304.0 303.9L305.0 304.3L306.0 304.6L307.0 304.9L308.0 305.5L309.0 305.6L310.0 305.7L311.0 305.9L312.0 306.0L313.0 306.2L314.0 306.6L315.0 306.7"/>
<path d="M48.0 301.0L49.0 301.0L50.0 301.0L51.0 301.0L52.0 301.0L53.0 301.0L54.0 301.0L55.0 301.0L56.0 301.0L57.0 301.0L58.0 301.0L59.0 301.0L60.0 301.0L61.0 301.0L62.0 301.0L63.0 301.0L64.0 301.1L65.0 301.1L66.0 301.0L67.0 301.0L68.0 301.0L69.0 301.1L70.0 301.1L71.0 301.1L72.0 301.0L73.0 301.1L74.0 301.1L75.0 301.1L76.0 301.1L77.0 301.1L78.0 301.0L79.0 301.1L80.0 301.1L81.0 301.0L82.0 301.0L83.0 301.1L84.0 301.2L85.0 301.1L86.0 301.1L87.0 301.1L88.0 301.2L89.0 301.1L90.0 301.1L91.0 301.1L92.0 301.1L93.0 301.1L94.0 300.7L95.0 300.4L96.0 300.1L97.0 299.6L98.0 298.6L99.0 298.0L100.0 296.9L101.0 295.5L102.0 294.0L103.0 292.3L104.0 289.4L105.0 287.6L106.0 285.9L107.0 283.3L108.0 280.7L109.0 277.3L110.0 269.7L111.0 266.8L112.0 264.8L113.0 257.8L114.0 254.8L115.0 251.2L116.0 248.5L117.0 245.5L118.0 244.3L119.0 241.6L120.0 234.2L121.0 230.9L122.0 225.8L123.0 222.7L124.0 222.1L125.0 220.1L126.0 215.7L127.0 214.0L128.0 217.1L129.0 214.1L130.0 209.9L131.0 209.8L132.0 207.3L133.0 204.6L134.0 205.8L135.0 205.4L136.0 200.8L137.0 196.9L138.0 201.3L139.0 203.8L140.0 197.1L141.0 195.8L142.0 198.4L143.0 197.6L144.0 193.3L145.0 195.3L146.0 198.5L147.0 195.0L148.0 194.6L149.0 194.0L150.0 192.0L151.0 193.2L152.0 190.2L153.0 189.8L154.0 192.9L155.0 192.0L156.0 192.7L157.0 193.9L158.0 194.6L159.0 193.5L160.0 190.7L161.0 190.4L162.0 190.2L163.0 187.4L164.0 188.1L165.0 189.4L166.0 189.8L167.0 185.4L168.0 183.9L169.0 187.4L170.0 186.1L171.0 186.6L172.0 184.6L173.0 182.3L174.0 182.5L175.0 181.5L176.0 180.1L177.0 179.3L178.0 181.2L179.0 181.0L180.0 180.0L181.0 178.0L182.0 178.9L183.0 178.1L184.0 175.5L185.0 176.2L186.0 175.2L187.0 176.1L188.0 177.3L189.0 179.2L190.0 180.4L191.0 179.6L192.0 178.5L193.0 179.7L194.0 183.7L195.0 185.1L196.0 183.7L197.0 183.8L198.0 186.2L199.0 188.5L200.0 188.2L201.0 192.0L202.0 194.8L203.0 193.6L204.0 194.3L205.0 195.3L206.0 199.5L207.0 200.5L208.0 199.9L209.0 201.8L210.0 203.6L211.0 208.0L212.0 209.7L213.0 209.6L214.0 210.4L215.0 212.3L216.0 215.9L217.0 217.6L218.0 218.9L219.0 221.9L220.0 224.6L221.0 225.8L222.0 226.8L223.0 227.7L224.0 231.5L225.0 233.3L226.0 234.4L227.0 237.2L228.0 238.2L229.0 240.8L230.0 242.6L231.0 244.6L232.0 246.2L233.0 247.5L234.0 250.6L235.0 251.5L236.0 253.7L237.0 256.4L238.0 255.9L239.0 258.0L240.0 261.9L241.0 262.9L242.0 263.8L243.0 265.9L244.0 267.0L245.0 268.7L246.0 271.8L247.0 272.5L248.0 273.6L249.0 275.8L250.0 275.5L251.0 273.9L252.0 274.5L253.0 275.7L254.0 276.3L255.0 275.7L256.0 275.2L257.0 275.4L258.0 276.8L259.0 276.7L260.0 275.9L261.0 276.7L262.0 276.9L263.0 276.3L264.0 277.0L265.0 277.5L266.0 276.9L267.0 278.2L268.0 280.1L269.0 282.5L270.0 285.7L271.0 286.3L272.0 286.9L273.0 286.8L274.0 286.9L275.0 287.6L276.0 288.2L277.0 288.9L278.0 289.5L279.0 289.7L280.0 289.7L281.0 290.2L282.0 290.8L283.0 291.5L284.0 292.2L285.0 292.3L286.0 293.2L287.0 293.8L288.0 294.3L289.0 295.2L290.0 296.1L291.0 297.1L292.0 297.9L293.0 298.4L294.0 298.9L295.0 299.4L296.0 300.0L297.0 300.7L298.0 301.3L299.0 301.7L300.0 302.4L301.0 302.9L302.0 303.1L303.0 303.4L304.0 303.7L305.0 304.0L306.0 304.5L307.0 305.1L308.0 305.2L309.0 305.3L310.0 305.7L311.0 305.9L312.0 306.0L313.0 306.3L314.0 306.6L315.0 306.7"/>
<path d="M48.0 301.0L49.0 301.0L50.0 301.0L51.0 301.0L52.0 301.0L53.0 301.0L54.0 301.0L55.0 301.0L56.0 301.0L57.0 301.0L58.0 301.0L59.0 301.0L60.0 301.0L61.0 301.0L62.0 301.1L63.0 301.1L64.0 301.0L65.0 301.0L66.0 301.0L67.0 301.0L68.0 301.0L69.0 301.0L70.0 301.0L71.0 301.0L72.0 301.1L73.0 301.1L74.0 301.0L75.0 301.0L76.0 301.1L77.0 301.1L78.0 301.1L79.0 301.0L80.0 301.0L81.0 301.0L82.0 301.0L83.0 301.1L84.0 301.1L85.0 301.0L86.0 301.0L87.0 301.0L88.0 301.1L89.0 301.0L90.0 301.1L91.0 301.1L92.0 301.1L93.0 301.1L94.0 300.8L95.0 300.4L96.0 300.0L97.0 299.4L98.0 298.4L99.0 297.6L100.0 296.3L101.0 295.3L102.0 294.8L103.0 292.9L104.0 290.2L105.0 287.6L106.0 286.1L107.0 283.1L108.0 277.6L109.0 273.4L110.0 270.5L111.0 268.0L112.0 264.6L113.0 260.8L114.0 255.5L115.0 253.4L116.0 250.2L117.0 243.5L118.0 237.2L119.0 235.6L120.0 232.0L121.0 228.2L122.0 228.7L123.0 225.9L124.0 224.7L125.0 219.9L126.0 215.9L127.0 214.6L128.0 209.8L129.0 208.3L130.0 210.6L131.0 213.0L132.0 209.0L133.0 204.9L134.0 203.4L135.0 200.1L136.0 200.8L137.0 201.6L138.0 200.3L139.0 198.9L140.0 195.9L141.0 194.8L142.0 194.4L143.0 197.3L144.0 199.1L145.0 195.4L146.0 192.6L147.0 188.9L148.0 189.9L149.0 192.1L150.0 191.4L151.0 192.7L152.0 191.2L153.0 188.7L154.0 193.6L155.0 192.4L156.0 188.9L157.0 191.4L158.0 187.2L159.0 185.1L160.0 187.3L161.0 187.9L162.0 186.6L163.0 183.7L164.0 182.7L165.0 183.0L166.0 184.1L167.0 185.8L168.0 184.8L169.0 185.2L170.0 185.4L171.0 183.9L172.0 183.0L173.0 180.5L174.0 182.0L175.0 181.7L176.0 180.4L177.0 178.9L178.0 176.3L179.0 178.0L180.0 179.2L181.0 181.5L182.0 178.2L183.0 174.1L184.0 175.0L185.0 174.2L186.0 174.2L187.0 175.3L188.0 175.9L189.0 176.0L190.0 175.0L191.0 175.4L192.0 176.4L193.0 179.9L194.0 183.0L195.0 182.3L196.0 180.5L197.0 182.3L198.0 188.1L199.0 192.8L200.0 192.9L201.0 192.2L202.0 192.1L203.0 192.5L204.0 193.7L205.0 196.5L206.0 197.8L207.0 197.9L208.0 201.0L209.0 201.3L210.0 202.3L211.0 204.8L212.0 207.2L213.0 208.1L214.0 210.3L215.0 213.0L216.0 213.9L217.0 216.4L218.0 219.3L219.0 221.8L220.0 222.6L221.0 224.6L222.0 227.0L223.0 229.1L224.0 231.3L225.0 233.5L226.0 233.6L227.0 235.3L228.0 238.1L229.0 240.5L230.0 242.6L231.0 243.8L232.0 246.0L233.0 246.8L234.0 248.2L235.0 250.3L236.0 251.8L237.0 252.9L238.0 254.2L239.0 257.1L240.0 259.3L241.0 260.8L242.0 262.9L243.0 264.9L244.0 267.2L245.0 269.5L246.0 271.2L247.0 272.0L248.0 273.0L249.0 273.4L250.0 274.5L251.0 275.5L252.0 275.3L253.0 275.4L254.0 276.1L255.0 276.0L256.0 274.9L257.0 275.3L258.0 276.1L259.0 276.6L260.0 277.0L261.0 276.2L262.0 276.5L263.0 277.0L264.0 276.8L265.0 276.5L266.0 276.6L267.0 278.2L268.0 279.5L269.0 281.9L270.0 285.4L271.0 286.3L272.0 286.2L273.0 286.4L274.0 287.1L275.0 287.3L276.0 287.5L277.0 288.0L278.0 288.6L279.0 289.3L280.0 289.9L281.0 289.9L282.0 289.9L283.0 290.3L284.0 291.1L285.0 291.8L286.0 292.5L287.0 293.6L288.0 294.2L289.0 295.1L290.0 296.2L291.0 296.7L292.0 297.7L293.0 298.3L294.0 299.0L295.0 299.4L296.0 299.7L297.0 300.4L298.0 301.2L299.0 301.6L300.0 302.3L301.0 302.8L302.0 303.1L303.0 303.7L304.0 304.0L305.0 304.3L306.0 304.4L307.0 304.8L308.0 305.2L309.0 305.4L310.0 305.7L311.0 305.7L312.0 305.9L313.0 306.3L314.0 306.6L315.0 306.8"/>
<path d="M48.0 301.0L49.0 301.0L50.0 301.0L51.0 301.0L52.0 301.0L53.0 301.0L54.0 301.0L55.0 301.0L56.0 301.0L57.0 301.0L58.0 301.0L59.0 301.0L60.0 301.0L61.0 301.0L62.0 301.0L63.0 301.0L64.0 301.0L65.0 301.0L66.0 301.0L67.0 301.1L68.0 301.1L69.0 301.0L70.0 301.1L71.0 301.0L72.0 301.0L73.0 301.0L74.0 301.1L75.0 301.0L76.0 301.0L77.0 301.1L78.0 301.0L79.0 301.1L80.0 301.1L81.0 301.1L82.0 301.1L83.0 301.0L84.0 301.0L85.0 301.1L86.0 301.1L87.0 301.1L88.0 301.1L89.0 301.0L90.0 300.9L91.0 300.9L92.0 301.0L93.0 301.1L94.0 300.6L95.0 300.2L96.0 300.0L97.0 299.6L98.0 298.3L99.0 297.1L100.0 296.5L101.0 295.6L102.0 293.9L103.0 292.9L104.0 291.7L105.0 290.1L106.0 286.3L107.0 282.4L108.0 279.4L109.0 275.8L110.0 269.5L111.0 263.9L112.0 260.8L113.0 256.1L114.0 252.9L115.0 252.9L116.0 250.6L117.0 244.4L118.0 239.8L119.0 238.0L120.0 232.0L121.0 227.9L122.0 229.5L123.0 228.9L124.0 225.1L125.0 220.6L126.0 214.4L127.0 210.4L128.0 210.9L129.0 210.3L130.0 208.8L131.0 203.5L132.0 200.8L133.0 203.2L134.0 201.5L135.0 199.4L136.0 199.9L137.0 199.8L138.0 198.4L139.0 198.1L140.0 198.7L141.0 196.2L142.0 192.1L143.0 190.8L144.0 191.1L145.0 191.6L146.0 189.5L147.0 188.0L148.0 189.3L149.0 191.9L150.0 192.5L151.0 189.8L152.0 189.8L153.0 189.8L154.0 188.3L155.0 189.1L156.0 189.1L157.0 187.6L158.0 188.0L159.0 186.9L160.0 185.7L161.0 183.3L162.0 182.5L163.0 187.5L164.0 187.0L165.0 184.2L166.0 183.6L167.0 181.5L168.0 182.3L169.0 183.2L170.0 183.6L171.0 181.7L172.0 179.6L173.0 179.9L174.0 178.5L175.0 180.0L176.0 179.2L177.0 176.1L178.0 180.3L179.0 180.7L180.0 176.2L181.0 176.3L182.0 174.6L183.0 173.9L184.0 173.1L185.0 171.7L186.0 171.8L187.0 174.3L188.0 176.3L189.0 177.6L190.0 179.6L191.0 177.2L192.0 176.3L193.0 177.7L194.0 177.5L195.0 181.2L196.0 185.5L197.0 185.4L198.0 185.3L199.0 187.0L200.0 188.4L201.0 189.7L202.0 189.2L203.0 190.8L204.0 192.5L205.0 191.9L206.0 194.4L207.0 197.8L208.0 200.6L209.0 202.6L210.0 204.0L211.0 204.9L212.0 206.8L213.0 209.5L214.0 211.2L215.0 212.2L216.0 215.2L217.0 218.3L218.0 219.3L219.0 220.7L220.0 221.9L221.0 224.5L222.0 225.7L223.0 226.6L224.0 229.4L225.0 232.1L226.0 233.9L227.0 236.4L228.0 237.3L229.0 239.3L230.0 242.5L231.0 243.9L232.0 245.1L233.0 247.0L234.0 248.9L235.0 250.2L236.0 251.3L237.0 253.3L238.0 256.0L239.0 256.6L240.0 258.4L241.0 261.0L242.0 263.3L243.0 265.0L244.0 266.6L245.0 269.3L246.0 270.7L247.0 272.0L248.0 273.4L249.0 273.6L250.0 273.9L251.0 273.3L252.0 274.5L253.0 275.1L254.0 274.6L255.0 275.4L256.0 276.0L257.0 275.8L258.0 275.0L259.0 274.3L260.0 275.4L261.0 276.2L262.0 275.9L263.0 276.7L264.0 276.7L265.0 276.3L266.0 277.2L267.0 278.7L268.0 279.5L269.0 281.6L270.0 285.4L271.0 285.7L272.0 286.0L273.0 287.1L274.0 287.3L275.0 287.6L276.0 288.0L277.0 288.6L278.0 289.1L279.0 289.1L280.0 289.5L281.0 290.1L282.0 290.4L283.0 290.7L284.0 291.0L285.0 291.4L286.0 292.5L287.0 293.1L288.0 293.8L289.0 294.9L290.0 295.6L291.0 296.6L292.0 297.6L293.0 297.9L294.0 298.4L295.0 299.3L296.0 299.6L297.0 300.1L298.0 300.9L299.0 301.6L300.0 302.5L301.0 302.7L302.0 302.8L303.0 303.1L304.0 303.5L305.0 304.1L306.0 304.2L307.0 304.7L308.0 305.4L309.0 305.2L310.0 305.2L311.0 305.7L312.0 306.0L313.0 306.3L314.0 306.4L315.0 306.6"/>
<path d="M48.0 301.0L49.0 301.0L50.0 301.0L51.0 301.0L52.0 301.0L53.0 301.0L54.0 301.0L55.0 301.0L56.0 301.0L57.0 301.0L58.0 301.0L59.0 301.0L60.0 301.0L61.0 301.0L62.0 301.0L63.0 301.0L64.0 301.0L65.0 301.0L66.0 301.0L67.0 301.0L68.0 301.0L69.0 301.0L70.0 301.0L71.0 301.0L72.0 301.0L73.0 301.0L74.0 301.0L75.0 301.0L76.0 301.0L77.0 301.1L78.0 301.1L79.0 301.1L80.0 301.1L81.0 301.1L82.0 301.1L83.0 301.0L84.0 300.9L85.0 301.0L86.0 301.1L87.0 301.1L88.0 301.1L89.0 301.1L90.0 301.1L91.0 301.0L92.0 301.1L93.0 301.1L94.0 300.7L95.0 300.4L96.0 299.9L97.0 299.5L98.0 298.4L99.0 297.4L100.0 296.6L101.0 295.1L102.0 293.7L103.0 292.1L104.0 289.7L105.0 287.6L106.0 283.5L107.0 277.1L108.0 271.5L109.0 270.4L110.0 266.3L111.0 259.8L112.0 256.1L113.0 255.9L114.0 254.5L115.0 251.5L116.0 245.3L117.0 239.9L118.0 238.7L119.0 236.6L120.0 231.3L121.0 229.6L122.0 228.4L123.0 224.4L124.0 224.2L125.0 221.0L126.0 218.7L127.0 215.4L128.0 212.1L129.0 208.8L130.0 204.0L131.0 205.5L132.0 205.8L133.0 201.9L134.0 202.2L135.0 202.5L136.0 198.5L137.0 196.6L138.0 193.9L139.0 190.3L140.0 189.1L141.0 189.2L142.0 189.0L143.0 189.5L144.0 190.7L145.0 189.5L146.0 188.7L147.0 188.3L148.0 184.3L149.0 184.1L150.0 183.7L151.0 184.9L152.0 188.0L153.0 186.6L154.0 184.9L155.0 184.5L156.0 185.4L157.0 185.3L158.0 185.0L159.0 183.7L160.0 181.4L161.0 183.5L162.0 186.9L163.0 185.4L164.0 183.5L165.0 181.2L166.0 181.4L167.0 182.3L168.0 181.5L169.0 179.5L170.0 177.4L171.0 179.0L172.0 180.4L173.0 179.4L174.0 180.4L175.0 182.0L176.0 182.8L177.0 181.0L178.0 177.2L179.0 174.7L180.0 175.6L181.0 175.0L182.0 174.9L183.0 175.8L184.0 172.9L185.0 171.9L186.0 171.8L187.0 174.1L188.0 173.0L189.0 169.9L190.0 172.8L191.0 175.5L192.0 175.7L193.0 176.8L194.0 179.3L195.0 182.7L196.0 184.2L197.0 182.1L198.0 182.8L199.0 186.0L200.0 188.2L201.0 189.0L202.0 190.6L203.0 190.4L204.0 188.3L205.0 190.9L206.0 194.6L207.0 195.9L208.0 200.7L209.0 202.2L210.0 202.5L211.0 205.7L212.0 206.9L213.0 206.6L214.0 209.0L215.0 212.6L216.0 213.9L217.0 215.6L218.0 215.9L219.0 219.0L220.0 222.2L221.0 221.9L222.0 224.5L223.0 226.4L224.0 227.6L225.0 230.0L226.0 232.8L227.0 235.0L228.0 235.7L229.0 237.5L230.0 240.0L231.0 242.0L232.0 244.0L233.0 247.0L234.0 248.8L235.0 250.4L236.0 252.7L237.0 253.7L238.0 255.5L239.0 257.1L240.0 258.6L241.0 261.2L242.0 262.5L243.0 264.2L244.0 266.3L245.0 268.1L246.0 270.1L247.0 270.1L248.0 271.2L249.0 273.6L250.0 275.1L251.0 274.6L252.0 274.6L253.0 275.8L254.0 274.9L255.0 275.2L256.0 276.2L257.0 274.7L258.0 274.4L259.0 274.7L260.0 275.7L261.0 276.4L262.0 275.8L263.0 275.8L264.0 275.9L265.0 275.3L266.0 275.7L267.0 278.4L268.0 280.0L269.0 282.2L270.0 285.3L271.0 285.8L272.0 286.6L273.0 286.5L274.0 287.0L275.0 287.8L276.0 287.7L277.0 288.3L278.0 288.6L279.0 288.6L280.0 289.3L281.0 289.9L282.0 290.5L283.0 291.0L284.0 291.1L285.0 291.2L286.0 291.9L287.0 293.1L288.0 294.2L289.0 295.0L290.0 295.6L291.0 296.2L292.0 296.6L293.0 297.2L294.0 298.3L295.0 299.0L296.0 299.8L297.0 300.2L298.0 300.9L299.0 301.7L300.0 302.2L301.0 302.7L302.0 302.7L303.0 302.9L304.0 303.5L305.0 304.1L306.0 304.4L307.0 304.8L308.0 305.1L309.0 305.3L310.0 305.6L311.0 305.8L312.0 306.1L313.0 306.1L314.0 306.3L315.0 306.6"/>
<path d="M48.0 301.0L49.0 301.0L50.0 301.0L51.0 301.0L52.0 301.0L53.0 301.0L54.0 301.0L55.0 301.0L56.0 301.0L57.0 301.0L58.0 301.0L59.0 301.0L60.0 301.0L61.0 301.0L62.0 301.0L63.0 300.9L64.0 301.0L65.0 301.0L66.0 301.0L67.0 301.0L68.0 301.0L69.0 301.0L70.0 301.0L71.0 300.9L72.0 301.0L73.0 301.0L74.0 301.0L75.0 301.0L76.0 301.0L77.0 301.0L78.0 301.0L79.0 301.0L80.0 301.0L81.0 301.0L82.0 301.1L83.0 301.0L84.0 301.0L85.0 301.0L86.0 301.0L87.0 301.0L88.0 301.1L89.0 301.0L90.0 300.9L91.0 300.9L92.0 301.0L93.0 300.9L94.0 300.6L95.0 300.2L96.0 299.8L97.0 299.4L98.0 298.1L99.0 297.0L100.0 296.0L101.0 294.1L102.0 292.2L103.0 290.9L104.0 289.3L105.0 287.0L106.0 284.0L107.0 279.5L108.0 275.4L109.0 274.2L110.0 270.1L111.0 263.4L112.0 259.1L113.0 256.5L114.0 249.7L115.0 244.8L116.0 240.7L117.0 238.0L118.0 238.2L119.0 235.3L120.0 228.0L121.0 222.6L122.0 221.2L123.0 219.9L124.0 218.7L125.0 215.9L126.0 214.3L127.0 212.0L128.0 209.8L129.0 206.3L130.0 201.9L131.0 202.8L132.0 203.5L133.0 202.9L134.0 199.1L135.0 195.0L136.0 195.0L137.0 195.8L138.0 194.3L139.0 193.5L140.0 191.2L141.0 191.1L142.0 193.5L143.0 190.8L144.0 187.5L145.0 190.1L146.0 192.4L147.0 188.9L148.0 185.8L149.0 183.9L150.0 185.1L151.0 187.5L152.0 186.3L153.0 188.8L154.0 187.9L155.0 183.9L156.0 184.4L157.0 184.0L158.0 185.1L159.0 184.9L160.0 183.2L161.0 186.6L162.0 185.3L163.0 179.9L164.0 180.6L165.0 181.0L166.0 179.4L167.0 180.1L168.0 181.9L169.0 178.9L170.0 176.9L171.0 175.6L172.0 176.7L173.0 177.7L174.0 176.8L175.0 180.3L176.0 180.8L177.0 178.3L178.0 172.9L179.0 174.5L180.0 176.2L181.0 174.1L182.0 173.5L183.0 171.7L184.0 173.7L185.0 171.5L186.0 168.2L187.0 170.0L188.0 173.0L189.0 170.9L190.0 171.6L191.0 174.7L192.0 174.5L193.0 179.7L194.0 180.9L195.0 180.2L196.0 182.8L197.0 182.2L198.0 181.9L199.0 183.5L200.0 185.0L201.0 186.2L202.0 186.7L203.0 187.9L204.0 190.8L205.0 191.5L206.0 192.8L207.0 197.4L208.0 197.8L209.0 196.7L210.0 200.6L211.0 203.5L212.0 204.0L213.0 207.2L214.0 210.0L215.0 210.7L216.0 212.0L217.0 213.2L218.0 214.9L219.0 218.1L220.0 221.0L221.0 223.6L222.0 226.5L223.0 227.9L224.0 229.4L225.0 231.5L226.0 232.0L227.0 234.0L228.0 236.8L229.0 239.0L230.0 241.0L231.0 242.4L232.0 243.4L233.0 244.9L234.0 247.4L235.0 249.8L236.0 251.9L237.0 253.5L238.0 255.2L239.0 257.7L240.0 259.3L241.0 260.2L242.0 261.4L243.0 263.5L244.0 266.3L245.0 268.0L246.0 270.3L247.0 271.1L248.0 271.3L249.0 272.6L250.0 273.3L251.0 273.8L252.0 274.2L253.0 273.4L254.0 273.0L255.0 274.0L256.0 275.5L257.0 274.8L258.0 273.8L259.0 274.2L260.0 274.9L261.0 275.0L262.0 275.3L263.0 275.2L264.0 275.9L265.0 276.5L266.0 276.3L267.0 277.6L268.0 279.2L269.0 282.1L270.0 285.1L271.0 285.2L272.0 286.0L273.0 286.5L274.0 286.5L275.0 286.8L276.0 287.5L277.0 288.1L278.0 288.3L279.0 288.7L280.0 288.8L281.0 289.2L282.0 290.3L283.0 290.9L284.0 291.1L285.0 291.4L286.0 292.3L287.0 293.0L288.0 293.6L289.0 294.1L290.0 295.0L291.0 295.8L292.0 296.3L293.0 297.4L294.0 298.1L295.0 298.4L296.0 299.2L297.0 299.7L298.0 300.4L299.0 301.1L300.0 301.9L301.0 302.3L302.0 302.4L303.0 302.9L304.0 303.4L305.0 303.8L306.0 304.3L307.0 304.8L308.0 305.2L309.0 305.3L310.0 305.4L311.0 305.7L312.0 305.9L313.0 305.9L314.0 306.3L315.0 306.7"/>
<path d="M48.0 301.0L49.0 301.0L50.0 301.0L51.0 301.0L52.0 301.0L53.0 301.0L54.0 301.0L55.0 301.0L56.0 301.0L57.0 301.0L58.0 301.0L59.0 301.0L60.0 301.0L61.0 301.0L62.0 301.0L63.0 301.0L64.0 301.0L65.0 301.0L66.0 301.0L67.0 301.0L68.0 300.9L69.0 301.0L70.0 301.0L71.0 301.0L72.0 301.0L73.0 301.0L74.0 301.0L75.0 301.0L76.0 301.0L77.0 301.0L78.0 301.0L79.0 301.0L80.0 301.0L81.0 301.0L82.0 301.0L83.0 301.0L84.0 300.9L85.0 301.0L86.0 301.0L87.0 301.0L88.0 301.0L89.0 301.0L90.0 300.9L91.0 300.9L92.0 301.0L93.0 301.0L94.0 300.6L95.0 300.1L96.0 299.7L97.0 299.3L98.0 297.8L99.0 296.7L100.0 295.1L101.0 293.2L102.0 292.0L103.0 289.9L104.0 287.8L105.0 286.2L106.0 282.3L107.0 276.7L108.0 269.7L109.0 267.8L110.0 265.6L111.0 258.8L112.0 255.5L113.0 252.7L114.0 247.7L115.0 242.3L116.0 238.7L117.0 235.9L118.0 234.5L119.0 230.2L120.0 224.4L121.0 221.5L122.0 218.3L123.0 217.9L124.0 218.8L125.0 214.6L126.0 208.7L127.0 206.7L128.0 207.7L129.0 207.2L130.0 203.5L131.0 201.0L132.0 198.5L133.0 196.9L134.0 196.8L135.0 197.3L136.0 197.2L137.0 196.1L138.0 193.9L139.0 190.2L140.0 190.4L141.0 189.1L142.0 187.9L143.0 189.8L144.0 193.3L145.0 191.4L146.0 186.3L147.0 187.3L148.0 188.6L149.0 188.3L150.0 184.2L151.0 183.1L152.0 183.9L153.0 183.3L154.0 182.2L155.0 184.3L156.0 186.2L157.0 182.8L158.0 184.3L159.0 183.6L160.0 180.1L161.0 179.1L162.0 178.5L163.0 182.0L164.0 183.1L165.0 181.1L166.0 183.1L167.0 181.2L168.0 178.9L169.0 177.5L170.0 174.9L171.0 175.9L172.0 178.1L173.0 178.3L174.0 175.5L175.0 172.8L176.0 172.7L177.0 171.5L178.0 170.7L179.0 167.9L180.0 168.4L181.0 173.7L182.0 171.9L183.0 170.7L184.0 173.0L185.0 172.5L186.0 171.1L187.0 169.6L188.0 168.5L189.0 171.4L190.0 173.9L191.0 177.1L192.0 174.1L193.0 171.7L194.0 174.3L195.0 174.2L196.0 176.2L197.0 178.1L198.0 178.9L199.0 180.8L200.0 184.9L201.0 186.0L202.0 185.2L203.0 188.1L204.0 190.8L205.0 190.9L206.0 190.9L207.0 193.7L208.0 198.8L209.0 200.4L210.0 200.5L211.0 201.2L212.0 202.8L213.0 206.3L214.0 206.9L215.0 209.5L216.0 213.3L217.0 213.7L218.0 213.8L219.0 216.9L220.0 221.0L221.0 222.1L222.0 223.9L223.0 226.8L224.0 229.1L225.0 231.7L226.0 232.9L227.0 233.2L228.0 235.3L229.0 238.3L230.0 240.8L231.0 241.6L232.0 242.7L233.0 245.1L234.0 246.6L235.0 249.3L236.0 251.6L237.0 253.1L238.0 254.4L239.0 255.4L240.0 257.8L241.0 260.3L242.0 262.8L243.0 263.9L244.0 265.6L245.0 269.1L246.0 270.8L247.0 270.1L248.0 270.5L249.0 272.2L250.0 273.5L251.0 273.4L252.0 273.7L253.0 274.0L254.0 273.7L255.0 274.5L256.0 274.7L257.0 274.1L258.0 274.2L259.0 274.7L260.0 274.6L261.0 274.8L262.0 275.3L263.0 275.2L264.0 275.9L265.0 276.0L266.0 275.2L267.0 277.3L268.0 279.2L269.0 281.2L270.0 284.3L271.0 284.9L272.0 285.6L273.0 285.9L274.0 286.0L275.0 287.1L276.0 287.8L277.0 287.9L278.0 288.5L279.0 288.9L280.0 289.4L281.0 289.5L282.0 289.6L283.0 290.1L284.0 290.3L285.0 290.6L286.0 292.0L287.0 292.9L288.0 293.4L289.0 294.4L290.0 295.4L291.0 295.7L292.0 296.4L293.0 297.3L294.0 298.0L295.0 298.9L296.0 299.4L297.0 299.7L298.0 300.5L299.0 301.0L300.0 301.4L301.0 301.9L302.0 302.3L303.0 303.0L304.0 303.5L305.0 303.6L306.0 304.1L307.0 304.5L308.0 304.8L309.0 305.0L310.0 305.3L311.0 305.6L312.0 305.8L313.0 306.1L314.0 306.3L315.0 306.3"/>
<path d="M48.0 301.0L49.0 301.0L50.0 301.0L51.0 301.0L52.0 301.0L53.0 301.0L54.0 301.0L55.0 301.0L56.0 301.0L57.0 301.0L58.0 301.0L59.0 301.0L60.0 301.0L61.0 301.0L62.0 301.0L63.0 300.9L64.0 301.0L65.0 301.0L66.0 300.9L67.0 300.9L68.0 300.9L69.0 300.9L70.0 300.9L71.0 300.9L72.0 300.9L73.0 301.0L74.0 301.0L75.0 301.0L76.0 301.0L77.0 300.9L78.0 300.9L79.0 301.0L80.0 301.0L81.0 300.9L82.0 300.9L83.0 301.0L84.0 301.0L85.0 300.9L86.0 300.9L87.0 300.9L88.0 300.9L89.0 300.9L90.0 300.8L91.0 300.8L92.0 300.9L93.0 300.9L94.0 300.5L95.0 300.1L96.0 299.6L97.0 299.2L98.0 297.8L99.0 296.1L100.0 295.4L101.0 293.3L102.0 291.0L103.0 292.0L104.0 289.3L105.0 284.6L106.0 280.9L107.0 276.2L108.0 271.3L109.0 269.5L110.0 263.1L111.0 259.7L112.0 257.1L113.0 251.0L114.0 249.1L115.0 242.7L116.0 235.1L117.0 233.8L118.0 232.4L119.0 227.8L120.0 223.3L121.0 220.8L122.0 217.0L123.0 213.0L124.0 210.8L125.0 210.4L126.0 210.2L127.0 206.1L128.0 206.0L129.0 209.4L130.0 205.1L131.0 199.2L132.0 197.3L133.0 198.4L134.0 197.2L135.0 197.5L136.0 196.0L137.0 193.6L138.0 193.8L139.0 194.7L140.0 193.7L141.0 190.1L142.0 187.3L143.0 185.4L144.0 184.2L145.0 188.9L146.0 190.4L147.0 184.8L148.0 184.3L149.0 184.6L150.0 184.9L151.0 181.1L152.0 181.7L153.0 183.9L154.0 181.4L155.0 183.5L156.0 183.7L157.0 179.5L158.0 177.5L159.0 179.6L160.0 180.6L161.0 179.4L162.0 177.1L163.0 176.8L164.0 177.4L165.0 175.6L166.0 178.2L167.0 179.5L168.0 176.9L169.0 177.6L170.0 180.5L171.0 176.5L172.0 174.5L173.0 176.6L174.0 174.6L175.0 175.8L176.0 176.6L177.0 173.4L178.0 173.4L179.0 173.3L180.0 170.9L181.0 169.0L182.0 168.8L183.0 170.9L184.0 170.1L185.0 169.1L186.0 170.4L187.0 170.7L188.0 169.0L189.0 171.5L190.0 171.9L191.0 167.0L192.0 166.5L193.0 170.2L194.0 171.6L195.0 171.7L196.0 174.1L197.0 176.8L198.0 178.5L199.0 180.1L200.0 183.5L201.0 189.6L202.0 191.0L203.0 189.0L204.0 188.4L205.0 189.4L206.0 191.0L207.0 192.8L208.0 194.8L209.0 197.8L210.0 202.8L211.0 204.6L212.0 207.0L213.0 206.9L214.0 207.1L215.0 209.9L216.0 211.2L217.0 212.2L218.0 214.0L219.0 216.9L220.0 218.4L221.0 221.4L222.0 224.6L223.0 226.7L224.0 227.7L225.0 228.3L226.0 229.8L227.0 232.9L228.0 236.3L229.0 237.6L230.0 238.5L231.0 240.4L232.0 243.0L233.0 245.1L234.0 246.5L235.0 248.6L236.0 251.3L237.0 252.0L238.0 253.4L239.0 255.8L240.0 256.9L241.0 258.5L242.0 261.2L243.0 263.9L244.0 265.4L245.0 266.6L246.0 268.7L247.0 269.7L248.0 270.2L249.0 271.7L250.0 273.2L251.0 273.2L252.0 273.7L253.0 273.5L254.0 272.9L255.0 272.9L256.0 273.2L257.0 273.3L258.0 273.5L259.0 273.4L260.0 273.5L261.0 274.0L262.0 274.5L263.0 275.0L264.0 275.7L265.0 276.1L266.0 275.8L267.0 277.1L268.0 278.7L269.0 281.3L270.0 284.5L271.0 284.9L272.0 285.2L273.0 285.7L274.0 286.1L275.0 286.4L276.0 286.9L277.0 287.9L278.0 288.5L279.0 288.6L280.0 288.8L281.0 289.1L282.0 289.8L283.0 290.3L284.0 290.7L285.0 290.7L286.0 291.7L287.0 292.8L288.0 293.2L289.0 293.9L290.0 294.8L291.0 295.8L292.0 296.7L293.0 297.3L294.0 297.8L295.0 298.6L296.0 299.3L297.0 299.8L298.0 300.4L299.0 301.0L300.0 301.6L301.0 302.0L302.0 302.5L303.0 302.8L304.0 303.2L305.0 303.6L306.0 303.9L307.0 304.3L308.0 304.8L309.0 305.1L310.0 305.2L311.0 305.5L312.0 305.7L313.0 306.0L314.0 306.2L315.0 306.3"/>
<path d="M48.0 301.0L49.0 301.0L50.0 301.0L51.0 301.0L52.0 301.0L53.0 301.0L54.0 301.0L55.0 301.0L56.0 301.0L57.0 301.0L58.0 301.0L59.0 301.0L60.0 301.0L61.0 301.0L62.0 301.0L63.0 300.9L64.0 300.9L65.0 300.9L66.0 300.9L67.0 300.9L68.0 301.0L69.0 300.9L70.0 300.9L71.0 300.9L72.0 300.9L73.0 300.9L74.0 300.9L75.0 300.9L76.0 300.9L77.0 301.0L78.0 300.8L79.0 300.8L80.0 300.9L81.0 300.9L82.0 301.0L83.0 300.9L84.0 300.9L85.0 300.9L86.0 300.9L87.0 300.8L88.0 300.8L89.0 300.8L90.0 300.8L91.0 300.8L92.0 300.9L93.0 301.0L94.0 300.5L95.0 300.1L96.0 299.7L97.0 299.3L98.0 297.9L99.0 296.6L100.0 295.4L101.0 292.4L102.0 290.2L103.0 287.6L104.0 284.4L105.0 283.0L106.0 279.4L107.0 274.4L108.0 270.2L109.0 264.1L110.0 260.6L111.0 256.4L112.0 249.1L113.0 246.4L114.0 242.9L115.0 240.5L116.0 237.2L117.0 231.2L118.0 226.9L119.0 223.3L120.0 222.0L121.0 219.6L122.0 216.1L123.0 212.6L124.0 209.2L125.0 210.0L126.0 208.9L127.0 206.4L128.0 206.9L129.0 204.2L130.0 201.8L131.0 200.5L132.0 199.2L133.0 197.5L134.0 197.1L135.0 196.0L136.0 195.3L137.0 194.4L138.0 188.7L139.0 186.6L140.0 187.2L141.0 185.5L142.0 184.7L143.0 185.9L144.0 184.5L145.0 181.1L146.0 180.9L147.0 182.6L148.0 181.2L149.0 182.8L150.0 184.8L151.0 183.8L152.0 182.1L153.0 181.2L154.0 181.5L155.0 178.0L156.0 174.7L157.0 173.5L158.0 173.5L159.0 177.3L160.0 178.1L161.0 177.3L162.0 175.2L163.0 176.7L164.0 179.1L165.0 176.8L166.0 175.1L167.0 171.8L168.0 171.1L169.0 175.1L170.0 179.8L171.0 177.6L172.0 173.8L173.0 173.3L174.0 171.7L175.0 172.1L176.0 173.8L177.0 170.5L178.0 170.9L179.0 172.8L180.0 170.7L181.0 171.3L182.0 174.1L183.0 173.4L184.0 169.9L185.0 168.8L186.0 168.0L187.0 166.6L188.0 166.6L189.0 166.8L190.0 166.7L191.0 168.2L192.0 171.0L193.0 173.4L194.0 172.0L195.0 172.1L196.0 173.8L197.0 174.1L198.0 177.5L199.0 180.0L200.0 179.3L201.0 183.8L202.0 185.8L203.0 185.6L204.0 188.0L205.0 190.7L206.0 192.2L207.0 192.1L208.0 194.3L209.0 197.9L210.0 198.3L211.0 201.3L212.0 205.2L213.0 203.7L214.0 205.5L215.0 207.3L216.0 208.2L217.0 211.4L218.0 213.1L219.0 214.9L220.0 216.4L221.0 219.6L222.0 223.0L223.0 225.1L224.0 226.1L225.0 226.8L226.0 229.6L227.0 232.2L228.0 233.8L229.0 235.4L230.0 237.9L231.0 239.6L232.0 241.7L233.0 244.4L234.0 246.7L235.0 247.9L236.0 248.7L237.0 250.8L238.0 253.3L239.0 255.6L240.0 257.4L241.0 258.8L242.0 260.3L243.0 262.3L244.0 264.3L245.0 266.5L246.0 268.5L247.0 269.1L248.0 270.1L249.0 271.2L250.0 272.6L251.0 273.0L252.0 272.5L253.0 272.2L254.0 272.8L255.0 273.1L256.0 272.8L257.0 273.7L258.0 274.1L259.0 272.8L260.0 272.4L261.0 273.2L262.0 274.3L263.0 275.2L264.0 275.3L265.0 274.5L266.0 273.8L267.0 275.7L268.0 278.4L269.0 281.3L270.0 284.2L271.0 284.8L272.0 285.4L273.0 285.7L274.0 286.2L275.0 286.3L276.0 286.9L277.0 287.4L278.0 287.7L279.0 288.3L280.0 288.5L281.0 288.7L282.0 289.1L283.0 289.7L284.0 289.9L285.0 290.2L286.0 291.2L287.0 292.1L288.0 293.2L289.0 294.0L290.0 294.6L291.0 295.3L292.0 296.5L293.0 297.1L294.0 297.7L295.0 298.5L296.0 299.2L297.0 299.6L298.0 300.2L299.0 301.1L300.0 301.6L301.0 301.7L302.0 302.3L303.0 302.8L304.0 303.3L305.0 303.4L306.0 303.7L307.0 304.4L308.0 304.8L309.0 304.9L310.0 305.0L311.0 305.3L312.0 305.6L313.0 305.9L314.0 306.1L315.0 306.3"/>
<path d="M48.0 301.0L49.0 301.0L50.0 301.0L51.0 301.0L52.0 301.0L53.0 301.0L54.0 301.0L55.0 301.0L56.0 301.0L57.0 301.0L58.0 301.0L59.0 300.9L60.0 300.9L61.0 301.0L62.0 300.9L63.0 300.9L64.0 300.9L65.0 300.9L66.0 300.9L67.0 300.8L68.0 300.9L69.0 300.9L70.0 300.9L71.0 300.9L72.0 300.9L73.0 300.9L74.0 300.9L75.0 300.9L76.0 300.9L77.0 300.9L78.0 300.9L79.0 300.8L80.0 300.8L81.0 300.8L82.0 300.9L83.0 300.9L84.0 300.9L85.0 300.9L86.0 300.9L87.0 300.8L88.0 300.8L89.0 300.9L90.0 300.9L91.0 300.9L92.0 300.8L93.0 300.7L94.0 300.2L95.0 299.9L96.0 299.6L97.0 299.3L98.0 297.8L99.0 296.2L100.0 294.7L101.0 292.9L102.0 290.8L103.0 288.1L104.0 285.5L105.0 283.5L106.0 279.6L107.0 275.1L108.0 269.4L109.0 262.2L110.0 258.2L111.0 255.5L112.0 250.3L113.0 245.3L114.0 239.9L115.0 238.2L116.0 235.0L117.0 229.5L118.0 225.9L119.0 220.2L120.0 218.0L121.0 215.2L122.0 211.8L123.0 211.0L124.0 208.7L125.0 205.4L126.0 205.0L127.0 206.4L128.0 204.1L129.0 199.6L130.0 194.7L131.0 197.1L132.0 194.9L133.0 188.9L134.0 191.1L135.0 192.4L136.0 188.9L137.0 187.8L138.0 186.5L139.0 185.8L140.0 187.5L141.0 185.5L142.0 185.5L143.0 185.2L144.0 179.7L145.0 179.9L146.0 183.2L147.0 183.0L148.0 181.7L149.0 180.9L150.0 180.2L151.0 179.3L152.0 180.6L153.0 178.6L154.0 175.9L155.0 176.2L156.0 177.9L157.0 178.0L158.0 176.7L159.0 176.8L160.0 176.7L161.0 173.8L162.0 174.8L163.0 177.9L164.0 177.3L165.0 172.8L166.0 172.8L167.0 173.6L168.0 171.6L169.0 172.7L170.0 174.9L171.0 176.4L172.0 173.5L173.0 172.3L174.0 170.9L175.0 168.1L176.0 169.5L177.0 171.6L178.0 170.2L179.0 170.8L180.0 172.8L181.0 169.7L182.0 167.5L183.0 168.4L184.0 165.7L185.0 166.3L186.0 169.0L187.0 168.6L188.0 167.9L189.0 167.3L190.0 169.3L191.0 169.3L192.0 168.4L193.0 169.9L194.0 172.5L195.0 176.0L196.0 175.8L197.0 175.0L198.0 174.4L199.0 174.2L200.0 177.8L201.0 181.7L202.0 183.0L203.0 182.8L204.0 183.7L205.0 184.0L206.0 186.7L207.0 189.0L208.0 189.2L209.0 192.7L210.0 197.4L211.0 199.1L212.0 200.7L213.0 205.5L214.0 207.4L215.0 208.1L216.0 208.4L217.0 209.5L218.0 211.2L219.0 214.0L220.0 217.9L221.0 220.6L222.0 222.3L223.0 223.5L224.0 224.9L225.0 227.0L226.0 230.5L227.0 232.5L228.0 234.2L229.0 236.0L230.0 237.8L231.0 239.7L232.0 240.7L233.0 242.5L234.0 245.3L235.0 247.4L236.0 248.8L237.0 250.0L238.0 252.3L239.0 254.4L240.0 256.0L241.0 258.5L242.0 261.0L243.0 262.4L244.0 263.7L245.0 266.2L246.0 268.2L247.0 269.6L248.0 271.1L249.0 271.4L250.0 271.6L251.0 272.0L252.0 272.7L253.0 271.8L254.0 271.5L255.0 272.2L256.0 272.9L257.0 272.3L258.0 272.1L259.0 273.1L260.0 274.3L261.0 274.5L262.0 273.9L263.0 274.0L264.0 274.2L265.0 274.6L266.0 274.6L267.0 276.3L268.0 278.6L269.0 281.0L270.0 284.0L271.0 284.9L272.0 285.1L273.0 285.1L274.0 285.6L275.0 286.2L276.0 287.0L277.0 287.3L278.0 287.5L279.0 287.8L280.0 288.3L281.0 289.0L282.0 289.5L283.0 290.0L284.0 290.8L285.0 290.9L286.0 291.6L287.0 292.7L288.0 293.2L289.0 293.3L290.0 294.0L291.0 295.3L292.0 296.0L293.0 296.8L294.0 297.6L295.0 298.1L296.0 298.7L297.0 299.3L298.0 300.1L299.0 300.6L300.0 301.2L301.0 301.7L302.0 302.2L303.0 302.6L304.0 303.1L305.0 303.8L306.0 303.8L307.0 304.0L308.0 304.4L309.0 304.8L310.0 305.1L311.0 305.4L312.0 305.6L313.0 305.8L314.0 305.9L315.0 306.1"/>
<path d="M328.0 301.0L329.0 301.0L330.0 301.0L331.0 301.0L332.0 301.0L333.0 301.0L334.0 301.0L335.0 301.0L336.0 301.0L337.0 301.0L338.0 301.0L339.0 301.0L340.0 301.0L341.0 301.1L342.0 301.1L343.0 301.1L344.0 301.1L345.0 301.1L346.0 301.1L347.0 301.0L348.0 301.1L349.0 301.1L350.0 301.1L351.0 301.1L352.0 301.1L353.0 301.0L354.0 301.1L355.0 301.1L356.0 301.1L357.0 301.0L358.0 301.0L359.0 301.0L360.0 301.1L361.0 301.2L362.0 301.1L363.0 301.1L364.0 301.2L365.0 301.1L366.0 301.1L367.0 301.2L368.0 301.2L369.0 301.2L370.0 301.2L371.0 301.2L372.0 301.1L373.0 301.2L374.0 300.9L375.0 300.7L376.0 300.2L377.0 299.6L378.0 298.5L379.0 298.0L380.0 297.1L381.0 295.8L382.0 295.2L383.0 294.9L384.0 294.5L385.0 291.9L386.0 287.4L387.0 285.8L388.0 281.1L389.0 275.3L390.0 274.8L391.0 272.5L392.0 268.5L393.0 265.4L394.0 257.9L395.0 254.0L396.0 253.2L397.0 249.5L398.0 241.2L399.0 236.8L400.0 234.9L401.0 228.9L402.0 228.2L403.0 226.8L404.0 222.0L405.0 217.8L406.0 216.1L407.0 218.8L408.0 217.7L409.0 211.9L410.0 208.2L411.0 207.2L412.0 208.0L413.0 206.2L414.0 201.9L415.0 201.1L416.0 198.4L417.0 198.9L418.0 202.3L419.0 201.8L420.0 198.3L421.0 194.8L422.0 192.7L423.0 191.9L424.0 191.3L425.0 191.4L426.0 190.9L427.0 188.3L428.0 188.0L429.0 186.0L430.0 181.7L431.0 184.7L432.0 188.1L433.0 187.5L434.0 184.0L435.0 181.7L436.0 183.2L437.0 183.1L438.0 179.2L439.0 173.8L440.0 175.4L441.0 173.8L442.0 172.8L443.0 174.3L444.0 170.9L445.0 169.3L446.0 167.4L447.0 165.3L448.0 167.4L449.0 165.4L450.0 161.3L451.0 160.6L452.0 158.1L453.0 158.7L454.0 159.3L455.0 158.8L456.0 158.7L457.0 158.7L458.0 158.7L459.0 158.4L460.0 160.7L461.0 161.7L462.0 161.6L463.0 159.2L464.0 158.4L465.0 162.1L466.0 163.4L467.0 158.5L468.0 159.5L469.0 165.7L470.0 164.6L471.0 165.6L472.0 170.1L473.0 176.3L474.0 174.8L475.0 170.4L476.0 173.9L477.0 175.0L478.0 176.8L479.0 179.3L480.0 181.1L481.0 185.3L482.0 185.6L483.0 184.0L484.0 183.7L485.0 188.1L486.0 196.1L487.0 198.5L488.0 196.3L489.0 196.7L490.0 201.1L491.0 205.0L492.0 206.0L493.0 206.2L494.0 208.0L495.0 208.9L496.0 211.7L497.0 214.1L498.0 213.9L499.0 216.1L500.0 218.0L501.0 220.3L502.0 222.4L503.0 225.9L504.0 227.8L505.0 227.7L506.0 230.4L507.0 231.0L508.0 232.7L509.0 234.9L510.0 236.6L511.0 239.9L512.0 242.1L513.0 242.5L514.0 244.7L515.0 248.3L516.0 248.4L517.0 247.6L518.0 247.3L519.0 249.1L520.0 251.9L521.0 253.2L522.0 255.5L523.0 256.8L524.0 257.6L525.0 258.9L526.0 260.3L527.0 262.2L528.0 263.8L529.0 265.2L530.0 266.5L531.0 267.2L532.0 267.5L533.0 268.0L534.0 269.2L535.0 269.5L536.0 269.1L537.0 268.2L538.0 269.1L539.0 270.7L540.0 270.4L541.0 270.0L542.0 270.2L543.0 270.0L544.0 270.3L545.0 271.3L546.0 272.1L547.0 271.8L548.0 273.6L549.0 276.0L550.0 277.7L551.0 279.5L552.0 280.1L553.0 280.9L554.0 281.8L555.0 282.8L556.0 283.2L557.0 283.4L558.0 284.1L559.0 284.4L560.0 284.9L561.0 285.5L562.0 286.2L563.0 287.0L564.0 287.6L565.0 288.6L566.0 289.9L567.0 290.9L568.0 291.4L569.0 292.5L570.0 293.6L571.0 294.5L572.0 295.8L573.0 297.2L574.0 298.2L575.0 298.7L576.0 299.6L577.0 300.8L578.0 301.7L579.0 302.2L580.0 303.3L581.0 303.8L582.0 304.1L583.0 304.4L584.0 304.5L585.0 304.8L586.0 305.2L587.0 305.5L588.0 305.8L589.0 306.0L590.0 306.1L591.0 306.3L592.0 306.5L593.0 306.6L594.0 306.8L595.0 306.9"/>
<path d="M328.0 301.0L329.0 301.0L330.0 301.0L331.0 301.0L332.0 301.0L333.0 301.0L334.0 301.0L335.0 301.0L336.0 301.0L337.0 301.0L338.0 301.0L339.0 301.0L340.0 301.0L341.0 301.0L342.0 301.0L343.0 301.1L344.0 301.1L345.0 301.1L346.0 301.1L347.0 301.1L348.0 301.1L349.0 301.1L350.0 301.1L351.0 301.1L352.0 301.1L353.0 301.2L354.0 301.2L355.0 301.1L356.0 301.2L357.0 301.2L358.0 301.2L359.0 301.2L360.0 301.2L361.0 301.2L362.0 301.2L363.0 301.1L364.0 301.1L365.0 301.2L366.0 301.2L367.0 301.1L368.0 301.2L369.0 301.2L370.0 301.2L371.0 301.2L372.0 301.1L373.0 301.1L374.0 300.8L375.0 300.6L376.0 300.4L377.0 300.0L378.0 299.0L379.0 298.1L380.0 297.0L381.0 296.0L382.0 294.9L383.0 292.5L384.0 291.8L385.0 291.3L386.0 288.0L387.0 285.6L388.0 283.5L389.0 281.1L390.0 278.1L391.0 273.2L392.0 267.9L393.0 264.2L394.0 259.7L395.0 254.8L396.0 249.9L397.0 248.9L398.0 244.6L399.0 238.6L400.0 235.6L401.0 233.9L402.0 229.7L403.0 223.1L404.0 223.0L405.0 223.5L406.0 219.5L407.0 214.7L408.0 213.8L409.0 214.0L410.0 209.6L411.0 206.7L412.0 205.0L413.0 206.2L414.0 205.3L415.0 200.7L416.0 199.0L417.0 201.0L418.0 201.7L419.0 197.9L420.0 194.3L421.0 193.5L422.0 194.7L423.0 194.1L424.0 191.9L425.0 191.6L426.0 190.7L427.0 188.1L428.0 185.9L429.0 185.1L430.0 185.2L431.0 185.9L432.0 186.1L433.0 183.5L434.0 184.0L435.0 182.4L436.0 181.2L437.0 179.9L438.0 176.6L439.0 178.1L440.0 178.4L441.0 174.6L442.0 172.0L443.0 170.2L444.0 168.4L445.0 169.2L446.0 167.5L447.0 167.9L448.0 168.4L449.0 166.1L450.0 163.5L451.0 161.2L452.0 161.5L453.0 162.2L454.0 161.9L455.0 159.4L456.0 156.6L457.0 154.9L458.0 158.9L459.0 162.5L460.0 162.2L461.0 161.0L462.0 162.4L463.0 163.7L464.0 161.2L465.0 159.9L466.0 157.8L467.0 159.5L468.0 162.6L469.0 163.3L470.0 162.9L471.0 161.6L472.0 163.6L473.0 169.5L474.0 175.6L475.0 175.0L476.0 173.3L477.0 173.6L478.0 174.3L479.0 178.8L480.0 181.0L481.0 182.6L482.0 187.4L483.0 188.8L484.0 187.1L485.0 191.8L486.0 196.4L487.0 196.3L488.0 197.9L489.0 199.4L490.0 202.0L491.0 202.0L492.0 202.8L493.0 204.9L494.0 206.7L495.0 211.0L496.0 212.6L497.0 215.8L498.0 217.9L499.0 216.8L500.0 219.1L501.0 222.2L502.0 224.1L503.0 225.8L504.0 227.1L505.0 229.9L506.0 229.9L507.0 231.5L508.0 234.5L509.0 235.3L510.0 236.8L511.0 239.8L512.0 240.2L513.0 239.2L514.0 242.5L515.0 245.9L516.0 246.6L517.0 248.0L518.0 251.9L519.0 251.9L520.0 250.0L521.0 252.9L522.0 256.2L523.0 256.9L524.0 259.1L525.0 261.0L526.0 261.2L527.0 262.3L528.0 263.6L529.0 265.3L530.0 267.1L531.0 267.4L532.0 267.5L533.0 267.7L534.0 268.4L535.0 268.8L536.0 269.0L537.0 268.2L538.0 268.7L539.0 269.4L540.0 269.9L541.0 270.6L542.0 270.4L543.0 270.3L544.0 271.2L545.0 271.4L546.0 271.4L547.0 272.4L548.0 275.0L549.0 276.9L550.0 278.2L551.0 279.8L552.0 280.2L553.0 280.7L554.0 281.7L555.0 282.6L556.0 282.7L557.0 283.3L558.0 284.2L559.0 284.9L560.0 285.6L561.0 285.8L562.0 286.4L563.0 287.4L564.0 288.1L565.0 288.5L566.0 289.3L567.0 290.2L568.0 291.5L569.0 292.8L570.0 293.7L571.0 294.6L572.0 296.1L573.0 296.9L574.0 297.5L575.0 298.5L576.0 299.5L577.0 300.7L578.0 301.8L579.0 302.7L580.0 303.7L581.0 303.9L582.0 304.2L583.0 304.4L584.0 304.7L585.0 305.0L586.0 305.4L587.0 305.6L588.0 305.8L589.0 306.1L590.0 306.2L591.0 306.3L592.0 306.5L593.0 306.7L594.0 306.6L595.0 306.7"/>
<path d="M328.0 301.0L329.0 301.0L330.0 301.0L331.0 301.0L332.0 301.0L333.0 301.0L334.0 301.0L335.0 301.0L336.0 301.0L337.0 301.0L338.0 301.0L339.0 301.0L340.0 301.0L341.0 301.1L342.0 301.1L343.0 301.0L344.0 301.0L345.0 301.1L346.0 301.1L347.0 301.1L348.0 301.1L349.0 301.1L350.0 301.0L351.0 301.0L352.0 301.1L353.0 301.1L354.0 301.1L355.0 301.0L356.0 301.1L357.0 301.2L358.0 301.1L359.0 301.1L360.0 301.2L361.0 301.2L362.0 301.2L363.0 301.1L364.0 301.1L365.0 301.1L366.0 301.1L367.0 301.1L368.0 301.1L369.0 301.1L370.0 301.1L371.0 301.1L372.0 301.1L373.0 301.1L374.0 300.7L375.0 300.5L376.0 300.3L377.0 299.8L378.0 298.8L379.0 297.7L380.0 296.6L381.0 295.0L382.0 293.1L383.0 291.6L384.0 291.2L385.0 288.8L386.0 283.8L387.0 282.7L388.0 282.4L389.0 279.9L390.0 274.3L391.0 272.3L392.0 269.7L393.0 260.1L394.0 255.1L395.0 252.5L396.0 248.5L397.0 241.9L398.0 238.4L399.0 238.6L400.0 234.7L401.0 230.4L402.0 224.5L403.0 220.9L404.0 219.5L405.0 218.6L406.0 216.5L407.0 214.5L408.0 209.0L409.0 207.6L410.0 209.9L411.0 208.2L412.0 206.7L413.0 205.2L414.0 199.6L415.0 199.5L416.0 197.7L417.0 193.7L418.0 195.5L419.0 196.3L420.0 197.1L421.0 195.5L422.0 193.0L423.0 191.5L424.0 191.7L425.0 190.2L426.0 188.7L427.0 188.0L428.0 188.3L429.0 188.5L430.0 186.6L431.0 186.4L432.0 186.3L433.0 185.2L434.0 183.5L435.0 182.6L436.0 181.4L437.0 177.1L438.0 177.2L439.0 175.7L440.0 172.1L441.0 173.9L442.0 171.3L443.0 169.4L444.0 168.3L445.0 165.9L446.0 167.6L447.0 166.9L448.0 164.9L449.0 165.2L450.0 163.2L451.0 163.0L452.0 163.3L453.0 160.8L454.0 159.9L455.0 158.0L456.0 158.5L457.0 156.2L458.0 154.8L459.0 156.8L460.0 156.8L461.0 160.1L462.0 160.9L463.0 160.1L464.0 161.7L465.0 159.5L466.0 158.7L467.0 161.2L468.0 161.2L469.0 160.9L470.0 161.3L471.0 163.1L472.0 168.0L473.0 171.0L474.0 169.2L475.0 167.1L476.0 168.9L477.0 171.2L478.0 174.0L479.0 179.4L480.0 183.5L481.0 185.6L482.0 186.0L483.0 183.6L484.0 185.4L485.0 190.0L486.0 194.0L487.0 192.8L488.0 193.3L489.0 197.9L490.0 200.4L491.0 203.7L492.0 204.8L493.0 206.3L494.0 207.8L495.0 209.8L496.0 213.2L497.0 214.5L498.0 215.2L499.0 219.7L500.0 221.9L501.0 221.9L502.0 220.8L503.0 223.7L504.0 229.1L505.0 231.5L506.0 232.6L507.0 232.2L508.0 233.3L509.0 233.9L510.0 236.8L511.0 240.4L512.0 243.3L513.0 244.3L514.0 242.8L515.0 243.9L516.0 245.1L517.0 247.5L518.0 250.8L519.0 250.9L520.0 251.6L521.0 253.8L522.0 254.6L523.0 255.6L524.0 256.8L525.0 258.4L526.0 260.4L527.0 262.6L528.0 264.4L529.0 264.8L530.0 265.8L531.0 266.4L532.0 266.7L533.0 267.7L534.0 268.1L535.0 267.8L536.0 268.0L537.0 268.7L538.0 269.4L539.0 270.2L540.0 270.1L541.0 269.6L542.0 270.0L543.0 270.6L544.0 271.0L545.0 271.0L546.0 271.1L547.0 271.4L548.0 273.5L549.0 275.8L550.0 278.1L551.0 280.0L552.0 280.4L553.0 280.8L554.0 281.5L555.0 282.4L556.0 282.5L557.0 282.8L558.0 284.0L559.0 284.7L560.0 285.4L561.0 285.7L562.0 286.4L563.0 287.7L564.0 288.5L565.0 288.6L566.0 289.3L567.0 290.2L568.0 291.3L569.0 292.6L570.0 293.4L571.0 294.5L572.0 296.0L573.0 297.1L574.0 297.9L575.0 298.9L576.0 299.8L577.0 300.9L578.0 301.7L579.0 302.7L580.0 303.7L581.0 303.8L582.0 303.9L583.0 304.3L584.0 304.6L585.0 304.8L586.0 305.1L587.0 305.8L588.0 306.0L589.0 305.9L590.0 306.1L591.0 306.2L592.0 306.3L593.0 306.6L594.0 306.8L595.0 306.8"/>
<path d="M328.0 301.0L329.0 301.0L330.0 301.0L331.0 301.0L332.0 301.0L333.0 301.0L334.0 301.0L335.0 301.0L336.0 301.0L337.0 301.0L338.0 301.1L339.0 301.0L340.0 301.0L341.0 301.0L342.0 301.0L343.0 301.0L344.0 301.1L345.0 301.1L346.0 301.1L347.0 301.1L348.0 301.1L349.0 301.1L350.0 301.1L351.0 301.1L352.0 301.0L353.0 301.1L354.0 301.1L355.0 301.0L356.0 301.1L357.0 301.1L358.0 301.1L359.0 301.1L360.0 301.1L361.0 301.1L362.0 301.1L363.0 301.2L364.0 301.2L365.0 301.1L366.0 301.1L367.0 301.0L368.0 301.1L369.0 301.2L370.0 301.1L371.0 301.2L372.0 301.2L373.0 301.2L374.0 300.8L375.0 300.4L376.0 300.1L377.0 299.6L378.0 298.5L379.0 297.8L380.0 297.3L381.0 295.0L382.0 293.1L383.0 292.9L384.0 291.9L385.0 290.9L386.0 286.7L387.0 284.6L388.0 283.4L389.0 280.8L390.0 276.0L391.0 271.0L392.0 269.7L393.0 264.2L394.0 255.2L395.0 250.8L396.0 245.2L397.0 242.4L398.0 239.0L399.0 233.6L400.0 233.0L401.0 229.1L402.0 223.9L403.0 222.9L404.0 221.0L405.0 215.7L406.0 214.0L407.0 213.3L408.0 209.5L409.0 209.3L410.0 208.7L411.0 206.4L412.0 204.9L413.0 203.3L414.0 198.5L415.0 195.1L416.0 194.6L417.0 193.9L418.0 193.6L419.0 190.6L420.0 190.2L421.0 193.7L422.0 193.8L423.0 191.9L424.0 188.2L425.0 190.5L426.0 190.1L427.0 185.3L428.0 185.5L429.0 183.1L430.0 180.0L431.0 181.4L432.0 184.1L433.0 182.5L434.0 180.6L435.0 181.1L436.0 179.9L437.0 176.4L438.0 176.3L439.0 176.0L440.0 171.6L441.0 169.0L442.0 170.7L443.0 171.2L444.0 167.3L445.0 167.4L446.0 168.4L447.0 165.9L448.0 161.9L449.0 160.7L450.0 161.9L451.0 159.6L452.0 162.0L453.0 162.6L454.0 156.6L455.0 153.9L456.0 156.2L457.0 157.4L458.0 156.2L459.0 155.9L460.0 157.3L461.0 159.2L462.0 157.2L463.0 156.4L464.0 156.2L465.0 157.6L466.0 159.5L467.0 160.3L468.0 162.1L469.0 163.7L470.0 161.7L471.0 161.0L472.0 163.6L473.0 164.1L474.0 166.1L475.0 171.5L476.0 175.5L477.0 177.8L478.0 179.1L479.0 179.4L480.0 180.0L481.0 180.6L482.0 182.4L483.0 183.5L484.0 183.9L485.0 187.3L486.0 193.4L487.0 193.7L488.0 192.0L489.0 197.1L490.0 200.8L491.0 198.6L492.0 200.4L493.0 201.2L494.0 203.9L495.0 208.5L496.0 208.3L497.0 211.0L498.0 213.9L499.0 217.4L500.0 219.1L501.0 219.9L502.0 221.5L503.0 223.4L504.0 227.1L505.0 229.5L506.0 231.5L507.0 231.0L508.0 233.8L509.0 238.7L510.0 238.5L511.0 238.5L512.0 241.2L513.0 240.8L514.0 241.2L515.0 244.9L516.0 247.1L517.0 248.8L518.0 248.7L519.0 250.5L520.0 253.8L521.0 254.7L522.0 254.7L523.0 254.9L524.0 256.7L525.0 259.1L526.0 259.9L527.0 260.9L528.0 263.4L529.0 265.4L530.0 266.3L531.0 265.5L532.0 266.1L533.0 266.5L534.0 266.2L535.0 267.6L536.0 268.6L537.0 268.1L538.0 268.2L539.0 269.0L540.0 269.6L541.0 270.3L542.0 270.5L543.0 269.4L544.0 269.7L545.0 270.6L546.0 270.7L547.0 271.0L548.0 273.3L549.0 275.6L550.0 277.8L551.0 280.2L552.0 280.8L553.0 281.4L554.0 281.8L555.0 282.3L556.0 282.4L557.0 283.1L558.0 283.9L559.0 284.3L560.0 284.7L561.0 285.2L562.0 286.8L563.0 287.5L564.0 287.7L565.0 288.7L566.0 289.6L567.0 290.3L568.0 291.3L569.0 292.5L570.0 293.5L571.0 294.2L572.0 295.2L573.0 296.7L574.0 297.9L575.0 298.7L576.0 299.7L577.0 300.6L578.0 301.3L579.0 302.6L580.0 303.6L581.0 303.7L582.0 304.0L583.0 304.4L584.0 304.7L585.0 304.7L586.0 304.9L587.0 305.3L588.0 305.8L589.0 306.1L590.0 306.2L591.0 306.2L592.0 306.4L593.0 306.5L594.0 306.6L595.0 306.6"/>
<path d="M328.0 301.0L329.0 301.0L330.0 301.0L331.0 301.0L332.0 301.0L333.0 301.0L334.0 301.0L335.0 301.0L336.0 301.0L337.0 301.0L338.0 301.0L339.0 301.0L340.0 301.0L341.0 301.0L342.0 301.1L343.0 301.1L344.0 301.1L345.0 301.1L346.0 301.0L347.0 301.0L348.0 301.0L349.0 301.1L350.0 301.0L351.0 301.0L352.0 301.1L353.0 301.0L354.0 301.1L355.0 301.0L356.0 301.0L357.0 301.0L358.0 301.1L359.0 301.0L360.0 301.1L361.0 301.0L362.0 301.0L363.0 301.2L364.0 301.2L365.0 301.1L366.0 301.1L367.0 301.0L368.0 301.0L369.0 301.2L370.0 301.2L371.0 301.1L372.0 301.1L373.0 301.1L374.0 300.8L375.0 300.5L376.0 300.1L377.0 299.8L378.0 298.9L379.0 297.6L380.0 296.1L381.0 294.2L382.0 293.4L383.0 292.8L384.0 292.0L385.0 290.0L386.0 286.1L387.0 282.3L388.0 278.2L389.0 273.7L390.0 268.8L391.0 265.8L392.0 261.8L393.0 258.5L394.0 254.4L395.0 250.1L396.0 242.7L397.0 238.5L398.0 236.1L399.0 231.5L400.0 228.4L401.0 224.0L402.0 221.3L403.0 221.1L404.0 220.8L405.0 220.4L406.0 215.4L407.0 210.1L408.0 208.0L409.0 208.2L410.0 206.0L411.0 201.9L412.0 200.0L413.0 199.4L414.0 196.9L415.0 195.1L416.0 195.6L417.0 197.2L418.0 195.7L419.0 192.5L420.0 191.7L421.0 189.7L422.0 189.3L423.0 190.0L424.0 187.0L425.0 187.3L426.0 186.7L427.0 184.5L428.0 185.0L429.0 183.4L430.0 179.7L431.0 179.0L432.0 179.5L433.0 175.9L434.0 178.3L435.0 180.2L436.0 177.4L437.0 175.2L438.0 175.5L439.0 175.4L440.0 170.8L441.0 170.0L442.0 173.1L443.0 170.3L444.0 166.5L445.0 164.6L446.0 163.4L447.0 162.3L448.0 158.4L449.0 158.4L450.0 160.2L451.0 157.5L452.0 156.8L453.0 156.2L454.0 154.6L455.0 154.8L456.0 153.6L457.0 153.6L458.0 154.7L459.0 154.4L460.0 154.6L461.0 157.3L462.0 159.2L463.0 159.6L464.0 160.0L465.0 161.5L466.0 158.2L467.0 155.7L468.0 159.9L469.0 160.6L470.0 160.5L471.0 164.5L472.0 165.5L473.0 165.3L474.0 168.9L475.0 170.3L476.0 171.0L477.0 173.5L478.0 172.8L479.0 173.7L480.0 179.6L481.0 183.4L482.0 181.0L483.0 183.5L484.0 189.4L485.0 188.5L486.0 189.0L487.0 191.4L488.0 192.8L489.0 195.3L490.0 197.0L491.0 200.4L492.0 202.8L493.0 205.0L494.0 208.7L495.0 206.3L496.0 207.3L497.0 211.4L498.0 211.7L499.0 214.6L500.0 218.4L501.0 223.9L502.0 224.7L503.0 222.7L504.0 227.1L505.0 228.0L506.0 228.1L507.0 233.2L508.0 237.3L509.0 235.6L510.0 235.6L511.0 237.5L512.0 239.1L513.0 241.2L514.0 242.1L515.0 245.6L516.0 247.8L517.0 247.2L518.0 247.3L519.0 249.7L520.0 251.1L521.0 252.1L522.0 254.8L523.0 255.7L524.0 257.2L525.0 258.2L526.0 260.1L527.0 261.8L528.0 262.5L529.0 264.3L530.0 266.1L531.0 266.7L532.0 267.5L533.0 268.1L534.0 267.2L535.0 266.7L536.0 268.1L537.0 268.8L538.0 268.8L539.0 269.3L540.0 269.8L541.0 269.5L542.0 269.4L543.0 269.3L544.0 269.5L545.0 270.6L546.0 271.3L547.0 270.7L548.0 272.8L549.0 275.1L550.0 277.4L551.0 280.3L552.0 280.6L553.0 280.6L554.0 281.2L555.0 281.8L556.0 282.6L557.0 283.7L558.0 283.7L559.0 283.9L560.0 284.9L561.0 285.5L562.0 285.9L563.0 286.8L564.0 287.6L565.0 287.8L566.0 289.3L567.0 290.8L568.0 291.6L569.0 292.4L570.0 293.5L571.0 294.6L572.0 295.7L573.0 296.4L574.0 297.0L575.0 298.2L576.0 299.5L577.0 300.5L578.0 301.2L579.0 302.3L580.0 303.0L581.0 303.3L582.0 303.9L583.0 304.3L584.0 304.5L585.0 304.9L586.0 305.1L587.0 305.3L588.0 305.5L589.0 305.7L590.0 306.1L591.0 306.3L592.0 306.4L593.0 306.4L594.0 306.5L595.0 306.6"/>
<path d="M328.0 301.0L329.0 301.0L330.0 301.0L331.0 301.0L332.0 301.0L333.0 301.0L334.0 301.0L335.0 301.0L336.0 301.0L337.0 301.0L338.0 301.0L339.0 301.0L340.0 301.0L341.0 301.0L342.0 301.0L343.0 301.0L344.0 301.0L345.0 301.1L346.0 301.0L347.0 301.0L348.0 301.1L349.0 301.0L350.0 301.1L351.0 301.0L352.0 301.0L353.0 301.1L354.0 301.1L355.0 301.1L356.0 301.0L357.0 301.0L358.0 301.1L359.0 301.0L360.0 301.0L361.0 301.1L362.0 301.1L363.0 301.1L364.0 301.1L365.0 301.1L366.0 301.1L367.0 301.1L368.0 301.2L369.0 301.1L370.0 301.0L371.0 301.1L372.0 301.2L373.0 301.1L374.0 300.7L375.0 300.3L376.0 300.1L377.0 299.8L378.0 298.6L379.0 297.8L380.0 296.3L381.0 294.2L382.0 293.0L383.0 291.3L384.0 290.2L385.0 287.4L386.0 284.1L387.0 281.3L388.0 281.1L389.0 278.1L390.0 274.4L391.0 272.1L392.0 264.7L393.0 256.0L394.0 251.9L395.0 249.3L396.0 240.5L397.0 239.6L398.0 238.8L399.0 231.8L400.0 229.6L401.0 228.1L402.0 223.9L403.0 219.6L404.0 216.5L405.0 210.7L406.0 206.6L407.0 206.4L408.0 208.7L409.0 208.4L410.0 202.6L411.0 200.6L412.0 198.5L413.0 197.4L414.0 196.0L415.0 194.7L416.0 194.7L417.0 192.8L418.0 190.7L419.0 188.7L420.0 186.1L421.0 186.0L422.0 186.5L423.0 185.5L424.0 185.1L425.0 185.1L426.0 184.4L427.0 183.0L428.0 183.9L429.0 185.6L430.0 181.8L431.0 179.0L432.0 179.5L433.0 176.9L434.0 176.4L435.0 176.3L436.0 176.9L437.0 175.0L438.0 172.1L439.0 170.7L440.0 167.1L441.0 168.3L442.0 169.0L443.0 168.6L444.0 168.5L445.0 163.0L446.0 162.6L447.0 162.4L448.0 159.0L449.0 158.6L450.0 158.7L451.0 159.3L452.0 157.9L453.0 160.3L454.0 158.7L455.0 154.3L456.0 153.0L457.0 155.2L458.0 155.6L459.0 153.7L460.0 154.9L461.0 155.0L462.0 156.3L463.0 155.0L464.0 154.3L465.0 157.3L466.0 156.2L467.0 156.4L468.0 158.2L469.0 160.0L470.0 162.1L471.0 161.2L472.0 161.4L473.0 166.9L474.0 171.3L475.0 169.0L476.0 173.4L477.0 175.0L478.0 171.0L479.0 175.7L480.0 178.7L481.0 180.5L482.0 182.0L483.0 183.5L484.0 186.7L485.0 187.7L486.0 190.6L487.0 191.0L488.0 191.2L489.0 194.4L490.0 197.0L491.0 199.0L492.0 202.2L493.0 203.4L494.0 203.5L495.0 207.4L496.0 214.0L497.0 215.5L498.0 214.8L499.0 215.3L500.0 215.3L501.0 218.7L502.0 223.6L503.0 224.7L504.0 225.4L505.0 226.8L506.0 226.6L507.0 228.1L508.0 229.7L509.0 232.4L510.0 235.1L511.0 238.2L512.0 241.8L513.0 241.5L514.0 242.0L515.0 243.5L516.0 246.1L517.0 250.2L518.0 250.7L519.0 249.1L520.0 249.5L521.0 251.5L522.0 253.9L523.0 255.4L524.0 256.4L525.0 258.0L526.0 259.7L527.0 261.1L528.0 262.0L529.0 263.6L530.0 265.2L531.0 265.6L532.0 266.3L533.0 266.9L534.0 267.4L535.0 267.0L536.0 266.9L537.0 268.2L538.0 268.5L539.0 268.4L540.0 269.1L541.0 269.2L542.0 269.7L543.0 269.8L544.0 269.9L545.0 270.2L546.0 270.6L547.0 270.8L548.0 272.8L549.0 275.3L550.0 277.5L551.0 279.4L552.0 279.7L553.0 280.5L554.0 281.0L555.0 281.4L556.0 282.2L557.0 283.0L558.0 283.8L559.0 284.5L560.0 284.6L561.0 285.0L562.0 285.7L563.0 286.5L564.0 287.9L565.0 288.3L566.0 289.1L567.0 289.8L568.0 290.6L569.0 292.3L570.0 293.3L571.0 294.2L572.0 295.3L573.0 296.4L574.0 297.4L575.0 298.2L576.0 299.2L577.0 300.2L578.0 301.4L579.0 302.3L580.0 303.2L581.0 303.6L582.0 304.0L583.0 304.4L584.0 304.7L585.0 304.9L586.0 305.1L587.0 305.3L588.0 305.5L589.0 305.7L590.0 305.9L591.0 306.1L592.0 306.3L593.0 306.4L594.0 306.6L595.0 306.6"/>
<path d="M328.0 301.0L329.0 301.0L330.0 301.0L331.0 301.0L332.0 301.0L333.0 301.0L334.0 301.0L335.0 301.0L336.0 301.0L337.0 301.0L338.0 301.0L339.0 301.0L340.0 301.0L341.0 301.0L342.0 301.0L343.0 301.0L344.0 301.0L345.0 301.0L346.0 301.0L347.0 301.0L348.0 301.0L349.0 301.0L350.0 301.0L351.0 301.0L352.0 301.0L353.0 301.0L354.0 301.0L355.0 301.0L356.0 301.1L357.0 301.1L358.0 301.1L359.0 301.0L360.0 301.1L361.0 301.1L362.0 301.1L363.0 301.1L364.0 301.0L365.0 301.1L366.0 301.1L367.0 301.0L368.0 301.1L369.0 301.1L370.0 301.0L371.0 301.0L372.0 301.0L373.0 301.1L374.0 300.7L375.0 300.3L376.0 299.8L377.0 299.4L378.0 298.4L379.0 297.6L380.0 296.6L381.0 294.7L382.0 292.4L383.0 291.5L384.0 289.9L385.0 286.8L386.0 285.0L387.0 282.0L388.0 276.6L389.0 272.5L390.0 270.4L391.0 264.3L392.0 259.3L393.0 256.1L394.0 248.8L395.0 244.5L396.0 241.2L397.0 239.2L398.0 233.8L399.0 228.1L400.0 223.7L401.0 219.8L402.0 218.1L403.0 213.8L404.0 211.8L405.0 210.2L406.0 206.1L407.0 203.9L408.0 200.5L409.0 201.6L410.0 204.1L411.0 199.8L412.0 194.5L413.0 192.5L414.0 191.2L415.0 191.5L416.0 193.9L417.0 194.0L418.0 188.5L419.0 187.8L420.0 187.5L421.0 185.0L422.0 186.4L423.0 188.1L424.0 186.2L425.0 182.6L426.0 178.4L427.0 176.1L428.0 176.4L429.0 177.1L430.0 174.5L431.0 173.7L432.0 178.4L433.0 175.9L434.0 173.7L435.0 175.8L436.0 175.9L437.0 173.9L438.0 171.3L439.0 167.8L440.0 169.6L441.0 170.3L442.0 167.6L443.0 164.7L444.0 160.5L445.0 164.2L446.0 163.8L447.0 160.3L448.0 162.0L449.0 160.4L450.0 160.6L451.0 161.9L452.0 157.0L453.0 158.4L454.0 159.0L455.0 154.0L456.0 153.1L457.0 153.1L458.0 155.2L459.0 154.8L460.0 151.9L461.0 151.4L462.0 152.7L463.0 156.3L464.0 159.0L465.0 158.6L466.0 158.1L467.0 154.7L468.0 153.7L469.0 161.5L470.0 163.3L471.0 162.3L472.0 164.2L473.0 166.2L474.0 166.7L475.0 167.7L476.0 170.1L477.0 170.4L478.0 173.1L479.0 171.9L480.0 171.9L481.0 175.7L482.0 177.9L483.0 181.9L484.0 184.1L485.0 183.4L486.0 184.0L487.0 187.2L488.0 191.1L489.0 194.6L490.0 194.8L491.0 197.1L492.0 197.6L493.0 196.0L494.0 202.0L495.0 206.5L496.0 210.6L497.0 210.4L498.0 206.5L499.0 210.1L500.0 215.4L501.0 218.6L502.0 221.8L503.0 222.0L504.0 221.8L505.0 224.0L506.0 225.3L507.0 227.3L508.0 230.5L509.0 231.8L510.0 232.8L511.0 235.0L512.0 236.1L513.0 237.2L514.0 239.2L515.0 241.8L516.0 244.6L517.0 243.2L518.0 244.4L519.0 248.9L520.0 250.9L521.0 253.8L522.0 253.7L523.0 253.1L524.0 256.3L525.0 258.1L526.0 258.3L527.0 261.5L528.0 263.4L529.0 263.6L530.0 265.1L531.0 265.7L532.0 266.8L533.0 266.5L534.0 266.3L535.0 267.5L536.0 267.6L537.0 268.4L538.0 268.9L539.0 268.2L540.0 268.4L541.0 268.6L542.0 268.9L543.0 269.6L544.0 269.9L545.0 269.8L546.0 270.4L547.0 270.6L548.0 272.9L549.0 275.8L550.0 277.4L551.0 279.3L552.0 280.2L553.0 280.3L554.0 281.0L555.0 281.6L556.0 282.2L557.0 283.3L558.0 283.7L559.0 284.1L560.0 284.6L561.0 285.0L562.0 285.7L563.0 286.6L564.0 287.3L565.0 287.7L566.0 288.6L567.0 289.8L568.0 290.8L569.0 291.8L570.0 293.2L571.0 294.7L572.0 295.6L573.0 296.0L574.0 296.8L575.0 297.9L576.0 299.2L577.0 300.4L578.0 301.2L579.0 302.0L580.0 303.1L581.0 303.4L582.0 303.6L583.0 303.9L584.0 304.4L585.0 304.8L586.0 305.0L587.0 305.3L588.0 305.6L589.0 305.7L590.0 306.0L591.0 306.2L592.0 306.2L593.0 306.4L594.0 306.6L595.0 306.5"/>
<path d="M328.0 301.0L329.0 301.0L330.0 301.0L331.0 301.0L332.0 301.0L333.0 301.0L334.0 301.0L335.0 301.0L336.0 301.0L337.0 301.0L338.0 301.0L339.0 301.0L340.0 301.0L341.0 301.0L342.0 301.0L343.0 301.0L344.0 301.0L345.0 301.0L346.0 301.0L347.0 301.0L348.0 301.0L349.0 301.0L350.0 301.0L351.0 301.0L352.0 301.0L353.0 301.0L354.0 301.0L355.0 301.0L356.0 301.0L357.0 301.0L358.0 301.0L359.0 300.9L360.0 301.0L361.0 301.1L362.0 301.0L363.0 301.0L364.0 300.9L365.0 301.0L366.0 301.1L367.0 301.1L368.0 301.1L369.0 301.0L370.0 300.9L371.0 301.0L372.0 301.0L373.0 301.1L374.0 300.7L375.0 300.3L376.0 299.8L377.0 299.4L378.0 298.2L379.0 297.3L380.0 296.0L381.0 294.5L382.0 291.9L383.0 290.0L384.0 289.0L385.0 286.6L386.0 282.0L387.0 278.3L388.0 276.9L389.0 274.8L390.0 270.6L391.0 265.0L392.0 262.2L393.0 256.6L394.0 249.1L395.0 246.5L396.0 238.0L397.0 229.6L398.0 226.7L399.0 224.3L400.0 221.4L401.0 218.9L402.0 218.8L403.0 217.2L404.0 210.6L405.0 207.1L406.0 205.8L407.0 201.5L408.0 199.8L409.0 200.8L410.0 196.3L411.0 194.2L412.0 192.8L413.0 189.0L414.0 189.1L415.0 187.5L416.0 185.7L417.0 185.7L418.0 185.7L419.0 184.3L420.0 182.2L421.0 180.6L422.0 180.6L423.0 181.8L424.0 178.9L425.0 177.8L426.0 180.7L427.0 180.0L428.0 178.5L429.0 177.6L430.0 175.2L431.0 172.9L432.0 171.8L433.0 171.4L434.0 169.0L435.0 166.9L436.0 170.1L437.0 168.5L438.0 163.7L439.0 162.8L440.0 163.8L441.0 164.2L442.0 163.6L443.0 161.3L444.0 161.2L445.0 161.2L446.0 157.3L447.0 158.6L448.0 160.6L449.0 159.9L450.0 155.2L451.0 152.4L452.0 154.2L453.0 153.3L454.0 150.0L455.0 150.8L456.0 153.3L457.0 152.1L458.0 150.6L459.0 149.8L460.0 152.3L461.0 153.0L462.0 152.5L463.0 153.7L464.0 153.7L465.0 155.0L466.0 155.2L467.0 155.7L468.0 159.2L469.0 159.7L470.0 156.5L471.0 156.8L472.0 161.1L473.0 164.7L474.0 163.8L475.0 163.8L476.0 166.4L477.0 166.5L478.0 168.7L479.0 171.8L480.0 175.6L481.0 176.5L482.0 177.4L483.0 180.6L484.0 182.3L485.0 183.8L486.0 184.4L487.0 188.7L488.0 193.5L489.0 193.6L490.0 195.3L491.0 197.4L492.0 198.3L493.0 203.4L494.0 206.6L495.0 206.5L496.0 208.0L497.0 209.1L498.0 210.3L499.0 213.3L500.0 214.3L501.0 215.3L502.0 220.2L503.0 222.2L504.0 222.2L505.0 225.6L506.0 229.4L507.0 229.7L508.0 230.8L509.0 231.7L510.0 231.3L511.0 233.9L512.0 238.3L513.0 239.4L514.0 239.8L515.0 242.4L516.0 242.3L517.0 242.9L518.0 246.9L519.0 249.7L520.0 250.2L521.0 249.2L522.0 251.0L523.0 254.8L524.0 254.8L525.0 256.1L526.0 258.3L527.0 258.9L528.0 261.6L529.0 264.8L530.0 265.6L531.0 265.6L532.0 266.1L533.0 266.0L534.0 266.1L535.0 266.3L536.0 266.6L537.0 267.3L538.0 267.7L539.0 268.1L540.0 268.5L541.0 268.1L542.0 268.6L543.0 269.7L544.0 270.2L545.0 270.4L546.0 269.8L547.0 269.4L548.0 272.2L549.0 274.9L550.0 277.1L551.0 278.8L552.0 279.2L553.0 280.2L554.0 281.0L555.0 281.1L556.0 281.9L557.0 282.8L558.0 283.2L559.0 283.7L560.0 284.2L561.0 285.3L562.0 286.2L563.0 286.6L564.0 286.6L565.0 287.5L566.0 288.8L567.0 289.7L568.0 291.1L569.0 291.8L570.0 293.1L571.0 294.2L572.0 295.1L573.0 296.6L574.0 297.4L575.0 298.4L576.0 299.2L577.0 300.1L578.0 301.2L579.0 302.0L580.0 303.1L581.0 303.3L582.0 303.4L583.0 304.0L584.0 304.6L585.0 304.6L586.0 304.7L587.0 305.1L588.0 305.5L589.0 305.8L590.0 305.9L591.0 306.0L592.0 306.1L593.0 306.1L594.0 306.4L595.0 306.7"/>
<path d="M328.0 301.0L329.0 301.0L330.0 301.0L331.0 301.0L332.0 301.0L333.0 301.0L334.0 301.0L335.0 301.0L336.0 301.0L337.0 301.0L338.0 301.0L339.0 301.0L340.0 301.0L341.0 301.0L342.0 301.0L343.0 301.0L344.0 301.0L345.0 301.0L346.0 301.0L347.0 301.0L348.0 301.0L349.0 301.0L350.0 301.0L351.0 301.1L352.0 301.0L353.0 301.0L354.0 301.0L355.0 301.0L356.0 301.0L357.0 301.0L358.0 301.0L359.0 301.0L360.0 301.0L361.0 301.0L362.0 301.0L363.0 301.0L364.0 301.0L365.0 301.0L366.0 300.9L367.0 301.0L368.0 301.0L369.0 301.0L370.0 300.9L371.0 301.0L372.0 301.0L373.0 301.0L374.0 300.6L375.0 300.1L376.0 299.8L377.0 299.6L378.0 298.6L379.0 297.6L380.0 296.2L381.0 294.2L382.0 292.6L383.0 289.5L384.0 287.0L385.0 287.2L386.0 284.3L387.0 279.1L388.0 271.7L389.0 270.5L390.0 269.0L391.0 264.2L392.0 261.7L393.0 253.6L394.0 245.6L395.0 238.5L396.0 236.5L397.0 236.0L398.0 228.5L399.0 224.4L400.0 222.0L401.0 219.4L402.0 214.0L403.0 209.7L404.0 205.8L405.0 203.7L406.0 202.7L407.0 197.3L408.0 193.9L409.0 191.8L410.0 188.5L411.0 187.6L412.0 186.1L413.0 186.4L414.0 185.9L415.0 185.5L416.0 185.9L417.0 182.8L418.0 182.0L419.0 179.6L420.0 178.0L421.0 180.0L422.0 176.5L423.0 177.2L424.0 178.7L425.0 176.0L426.0 174.2L427.0 174.2L428.0 175.4L429.0 174.5L430.0 170.7L431.0 169.2L432.0 172.9L433.0 174.1L434.0 172.2L435.0 169.9L436.0 169.5L437.0 168.0L438.0 166.8L439.0 168.2L440.0 167.7L441.0 163.8L442.0 160.9L443.0 162.2L444.0 162.2L445.0 158.6L446.0 155.9L447.0 154.1L448.0 151.2L449.0 152.9L450.0 154.5L451.0 152.8L452.0 156.1L453.0 154.3L454.0 149.4L455.0 152.8L456.0 153.3L457.0 153.9L458.0 156.9L459.0 151.7L460.0 146.6L461.0 150.4L462.0 151.4L463.0 148.9L464.0 149.1L465.0 151.8L466.0 153.4L467.0 153.8L468.0 156.2L469.0 154.3L470.0 154.2L471.0 158.2L472.0 161.2L473.0 158.5L474.0 161.4L475.0 167.1L476.0 166.4L477.0 168.3L478.0 169.2L479.0 168.9L480.0 170.2L481.0 173.9L482.0 178.4L483.0 180.8L484.0 179.4L485.0 179.4L486.0 181.2L487.0 185.5L488.0 191.9L489.0 193.8L490.0 196.6L491.0 198.7L492.0 196.5L493.0 197.5L494.0 199.7L495.0 201.4L496.0 204.6L497.0 206.1L498.0 208.6L499.0 213.5L500.0 214.9L501.0 216.6L502.0 219.0L503.0 220.9L504.0 222.6L505.0 221.8L506.0 223.5L507.0 227.5L508.0 230.5L509.0 233.4L510.0 235.4L511.0 237.1L512.0 236.6L513.0 238.2L514.0 241.2L515.0 239.3L516.0 239.6L517.0 242.7L518.0 247.4L519.0 248.5L520.0 249.5L521.0 252.0L522.0 253.1L523.0 253.1L524.0 252.3L525.0 255.4L526.0 258.8L527.0 260.5L528.0 261.2L529.0 262.6L530.0 265.3L531.0 265.6L532.0 265.7L533.0 266.2L534.0 265.9L535.0 266.5L536.0 266.2L537.0 266.1L538.0 267.2L539.0 267.7L540.0 267.9L541.0 268.0L542.0 268.1L543.0 267.9L544.0 268.4L545.0 269.8L546.0 269.6L547.0 269.7L548.0 272.9L549.0 275.2L550.0 277.4L551.0 279.0L552.0 279.5L553.0 280.6L554.0 280.9L555.0 281.0L556.0 281.6L557.0 282.5L558.0 283.1L559.0 283.8L560.0 284.1L561.0 284.9L562.0 286.0L563.0 286.5L564.0 286.6L565.0 286.8L566.0 288.3L567.0 289.7L568.0 290.7L569.0 291.5L570.0 292.3L571.0 293.6L572.0 294.7L573.0 295.8L574.0 296.9L575.0 297.8L576.0 298.7L577.0 299.9L578.0 300.9L579.0 301.9L580.0 302.8L581.0 303.4L582.0 303.7L583.0 303.7L584.0 304.1L585.0 304.4L586.0 304.7L587.0 305.1L588.0 305.4L589.0 305.6L590.0 305.8L591.0 305.9L592.0 305.8L593.0 306.0L594.0 306.3L595.0 306.4"/>
<path d="M328.0 301.0L329.0 301.0L330.0 301.0L331.0 301.0L332.0 301.0L333.0 301.0L334.0 301.0L335.0 301.0L336.0 301.0L337.0 301.0L338.0 301.0L339.0 301.0L340.0 301.0L341.0 301.0L342.0 301.0L343.0 301.0L344.0 301.0L345.0 301.0L346.0 300.9L347.0 300.9L348.0 301.0L349.0 301.0L350.0 301.0L351.0 301.0L352.0 301.0L353.0 301.0L354.0 300.9L355.0 301.0L356.0 301.0L357.0 301.0L358.0 301.0L359.0 301.0L360.0 301.0L361.0 300.9L362.0 301.0L363.0 301.0L364.0 301.0L365.0 300.9L366.0 300.9L367.0 300.9L368.0 300.9L369.0 300.9L370.0 300.9L371.0 300.9L372.0 300.9L373.0 300.9L374.0 300.6L375.0 300.2L376.0 299.7L377.0 299.2L378.0 297.8L379.0 296.6L380.0 295.5L381.0 293.9L382.0 292.2L383.0 290.8L384.0 287.9L385.0 284.6L386.0 280.4L387.0 278.4L388.0 272.6L389.0 267.9L390.0 263.4L391.0 257.6L392.0 254.1L393.0 249.7L394.0 246.2L395.0 241.3L396.0 236.3L397.0 230.2L398.0 226.8L399.0 220.2L400.0 213.1L401.0 210.6L402.0 211.3L403.0 208.9L404.0 200.8L405.0 196.1L406.0 194.8L407.0 196.0L408.0 195.8L409.0 190.2L410.0 184.2L411.0 187.2L412.0 186.4L413.0 184.3L414.0 184.7L415.0 181.9L416.0 179.6L417.0 178.7L418.0 179.9L419.0 180.6L420.0 174.0L421.0 173.6L422.0 177.8L423.0 177.5L424.0 177.1L425.0 174.6L426.0 172.5L427.0 170.3L428.0 170.5L429.0 169.7L430.0 168.8L431.0 170.3L432.0 168.9L433.0 167.7L434.0 164.6L435.0 162.8L436.0 163.5L437.0 163.2L438.0 162.7L439.0 160.3L440.0 158.6L441.0 158.9L442.0 158.0L443.0 158.0L444.0 159.5L445.0 161.0L446.0 161.0L447.0 158.6L448.0 155.0L449.0 152.8L450.0 151.5L451.0 151.9L452.0 153.3L453.0 152.9L454.0 153.7L455.0 151.5L456.0 149.9L457.0 148.3L458.0 147.3L459.0 150.8L460.0 151.6L461.0 151.8L462.0 153.7L463.0 150.3L464.0 149.8L465.0 151.4L466.0 151.2L467.0 151.6L468.0 152.3L469.0 154.3L470.0 157.2L471.0 159.0L472.0 158.2L473.0 159.4L474.0 159.5L475.0 159.0L476.0 163.4L477.0 167.7L478.0 166.5L479.0 167.9L480.0 171.0L481.0 170.9L482.0 172.8L483.0 175.7L484.0 178.7L485.0 182.5L486.0 183.9L487.0 185.4L488.0 187.2L489.0 188.9L490.0 192.4L491.0 193.5L492.0 195.4L493.0 199.1L494.0 203.7L495.0 204.8L496.0 202.9L497.0 203.7L498.0 206.7L499.0 211.0L500.0 212.1L501.0 216.2L502.0 219.0L503.0 219.1L504.0 218.8L505.0 220.9L506.0 225.0L507.0 224.8L508.0 227.0L509.0 231.0L510.0 232.8L511.0 234.6L512.0 237.0L513.0 238.0L514.0 239.1L515.0 241.5L516.0 244.1L517.0 245.0L518.0 245.7L519.0 247.3L520.0 249.4L521.0 249.9L522.0 251.8L523.0 252.2L524.0 252.8L525.0 256.2L526.0 258.0L527.0 259.3L528.0 260.7L529.0 262.5L530.0 265.0L531.0 265.7L532.0 265.0L533.0 265.4L534.0 266.4L535.0 265.7L536.0 265.8L537.0 266.8L538.0 267.3L539.0 268.4L540.0 268.6L541.0 268.9L542.0 268.7L543.0 268.1L544.0 268.7L545.0 269.1L546.0 269.1L547.0 269.8L548.0 273.2L549.0 275.1L550.0 276.6L551.0 279.0L552.0 279.6L553.0 279.7L554.0 280.4L555.0 281.1L556.0 281.4L557.0 282.1L558.0 283.1L559.0 283.4L560.0 283.6L561.0 284.2L562.0 285.1L563.0 286.4L564.0 287.3L565.0 287.4L566.0 288.2L567.0 289.4L568.0 290.6L569.0 291.7L570.0 293.0L571.0 293.7L572.0 294.5L573.0 295.5L574.0 296.7L575.0 298.0L576.0 298.8L577.0 299.9L578.0 300.9L579.0 301.8L580.0 302.9L581.0 303.4L582.0 303.8L583.0 304.0L584.0 304.2L585.0 304.4L586.0 304.7L587.0 305.1L588.0 305.4L589.0 305.4L590.0 305.7L591.0 306.0L592.0 306.1L593.0 306.1L594.0 306.2L595.0 306.3"/>
<path d="M328.0 301.0L329.0 301.0L330.0 301.0L331.0 301.0L332.0 301.0L333.0 301.0L334.0 301.0L335.0 301.0L336.0 301.0L337.0 301.0L338.0 301.0L339.0 301.0L340.0 301.0L341.0 301.0L342.0 301.0L343.0 301.0L344.0 301.0L345.0 301.0L346.0 301.0L347.0 300.9L348.0 300.9L349.0 300.9L350.0 300.9L351.0 301.0L352.0 301.0L353.0 301.0L354.0 300.9L355.0 300.9L356.0 301.0L357.0 301.0L358.0 301.0L359.0 301.0L360.0 300.9L361.0 300.9L362.0 300.9L363.0 300.9L364.0 300.9L365.0 300.9L366.0 300.9L367.0 301.0L368.0 301.1L369.0 301.0L370.0 300.9L371.0 300.9L372.0 300.9L373.0 300.9L374.0 300.5L375.0 300.2L376.0 299.8L377.0 299.4L378.0 298.4L379.0 297.2L380.0 295.5L381.0 293.1L382.0 291.8L383.0 290.1L384.0 287.3L385.0 285.5L386.0 280.4L387.0 278.0L388.0 274.9L389.0 267.0L390.0 266.5L391.0 266.8L392.0 259.0L393.0 252.3L394.0 246.3L395.0 239.1L396.0 229.5L397.0 228.2L398.0 227.2L399.0 220.9L400.0 215.2L401.0 209.2L402.0 207.9L403.0 209.2L404.0 204.9L405.0 199.2L406.0 198.6L407.0 195.6L408.0 191.4L409.0 189.4L410.0 186.4L411.0 185.6L412.0 184.8L413.0 184.4L414.0 183.7L415.0 180.6L416.0 180.9L417.0 181.6L418.0 177.7L419.0 172.8L420.0 175.1L421.0 177.6L422.0 176.4L423.0 174.0L424.0 169.8L425.0 169.6L426.0 171.8L427.0 172.2L428.0 169.0L429.0 168.2L430.0 165.2L431.0 165.9L432.0 168.2L433.0 167.6L434.0 170.8L435.0 170.5L436.0 164.9L437.0 161.5L438.0 164.9L439.0 163.2L440.0 157.9L441.0 156.6L442.0 160.0L443.0 160.9L444.0 158.3L445.0 157.4L446.0 154.0L447.0 150.5L448.0 152.9L449.0 155.0L450.0 152.7L451.0 152.0L452.0 151.0L453.0 152.3L454.0 153.3L455.0 151.5L456.0 151.6L457.0 148.7L458.0 147.8L459.0 148.1L460.0 148.4L461.0 150.0L462.0 148.5L463.0 151.0L464.0 152.1L465.0 151.3L466.0 151.6L467.0 149.8L468.0 151.7L469.0 155.3L470.0 156.3L471.0 154.8L472.0 155.3L473.0 158.6L474.0 159.0L475.0 160.4L476.0 162.2L477.0 164.0L478.0 166.0L479.0 168.3L480.0 172.1L481.0 173.8L482.0 173.7L483.0 175.0L484.0 177.9L485.0 180.7L486.0 182.6L487.0 187.6L488.0 190.3L489.0 190.9L490.0 194.0L491.0 197.5L492.0 198.7L493.0 199.2L494.0 198.3L495.0 198.0L496.0 206.0L497.0 209.5L498.0 210.0L499.0 212.9L500.0 211.0L501.0 211.4L502.0 214.2L503.0 215.7L504.0 218.6L505.0 221.4L506.0 224.9L507.0 227.2L508.0 227.0L509.0 228.2L510.0 230.1L511.0 232.8L512.0 235.6L513.0 235.3L514.0 236.0L515.0 239.3L516.0 242.8L517.0 243.3L518.0 243.4L519.0 245.8L520.0 245.9L521.0 246.6L522.0 250.1L523.0 253.7L524.0 255.5L525.0 255.6L526.0 256.4L527.0 257.3L528.0 259.4L529.0 261.5L530.0 263.8L531.0 265.0L532.0 265.4L533.0 265.7L534.0 265.4L535.0 265.1L536.0 264.7L537.0 265.9L538.0 267.2L539.0 266.9L540.0 267.0L541.0 267.7L542.0 267.9L543.0 268.9L544.0 269.2L545.0 268.9L546.0 269.2L547.0 268.9L548.0 271.3L549.0 274.1L550.0 276.2L551.0 278.4L552.0 279.3L553.0 280.2L554.0 281.0L555.0 281.0L556.0 281.2L557.0 281.9L558.0 282.6L559.0 283.0L560.0 283.5L561.0 284.8L562.0 285.1L563.0 285.3L564.0 285.7L565.0 286.8L566.0 288.5L567.0 289.3L568.0 290.4L569.0 291.7L570.0 292.6L571.0 293.5L572.0 295.0L573.0 295.9L574.0 296.9L575.0 298.0L576.0 299.0L577.0 299.7L578.0 300.7L579.0 301.9L580.0 303.0L581.0 303.4L582.0 303.5L583.0 303.7L584.0 304.2L585.0 304.7L586.0 305.0L587.0 305.2L588.0 305.3L589.0 305.4L590.0 305.6L591.0 305.6L592.0 305.9L593.0 306.0L594.0 306.2L595.0 306.4"/>
<path d="M328.0 301.0L329.0 301.0L330.0 301.0L331.0 301.0L332.0 301.0L333.0 301.0L334.0 301.0L335.0 301.0L336.0 301.0L337.0 301.0L338.0 300.9L339.0 300.9L340.0 301.0L341.0 301.0L342.0 300.9L343.0 300.9L344.0 301.0L345.0 301.0L346.0 300.9L347.0 300.9L348.0 301.0L349.0 300.9L350.0 300.9L351.0 300.9L352.0 300.9L353.0 300.9L354.0 300.9L355.0 300.9L356.0 301.0L357.0 300.9L358.0 300.9L359.0 300.9L360.0 300.9L361.0 300.9L362.0 300.9L363.0 300.9L364.0 300.9L365.0 300.9L366.0 301.0L367.0 300.9L368.0 300.9L369.0 300.9L370.0 301.0L371.0 301.0L372.0 300.9L373.0 300.8L374.0 300.6L375.0 300.1L376.0 299.6L377.0 299.4L378.0 298.3L379.0 296.9L380.0 295.7L381.0 293.8L382.0 291.9L383.0 290.4L384.0 286.1L385.0 284.4L386.0 282.7L387.0 277.9L388.0 276.2L389.0 271.2L390.0 263.0L391.0 257.8L392.0 252.3L393.0 246.1L394.0 242.9L395.0 237.5L396.0 228.5L397.0 223.3L398.0 220.1L399.0 217.8L400.0 215.4L401.0 214.3L402.0 210.1L403.0 201.4L404.0 196.7L405.0 197.5L406.0 196.7L407.0 194.5L408.0 187.8L409.0 182.4L410.0 181.3L411.0 180.5L412.0 181.3L413.0 178.9L414.0 178.8L415.0 179.0L416.0 176.0L417.0 178.2L418.0 177.3L419.0 174.9L420.0 172.7L421.0 173.0L422.0 170.8L423.0 168.9L424.0 167.6L425.0 166.6L426.0 168.6L427.0 167.6L428.0 168.0L429.0 165.9L430.0 165.0L431.0 164.7L432.0 160.7L433.0 161.1L434.0 165.9L435.0 164.4L436.0 159.7L437.0 159.0L438.0 161.5L439.0 161.8L440.0 159.8L441.0 158.1L442.0 155.0L443.0 154.9L444.0 155.1L445.0 155.8L446.0 154.5L447.0 152.6L448.0 150.5L449.0 147.8L450.0 147.9L451.0 149.1L452.0 149.6L453.0 149.1L454.0 148.8L455.0 148.1L456.0 148.9L457.0 150.5L458.0 149.5L459.0 148.7L460.0 149.6L461.0 146.9L462.0 146.0L463.0 148.4L464.0 150.5L465.0 150.7L466.0 147.9L467.0 151.0L468.0 153.7L469.0 150.4L470.0 150.5L471.0 153.2L472.0 153.3L473.0 156.3L474.0 159.5L475.0 158.4L476.0 160.5L477.0 163.1L478.0 165.5L479.0 168.9L480.0 170.1L481.0 170.8L482.0 169.5L483.0 171.7L484.0 175.0L485.0 175.8L486.0 178.2L487.0 183.1L488.0 186.5L489.0 188.3L490.0 191.9L491.0 194.1L492.0 197.0L493.0 198.9L494.0 198.2L495.0 197.1L496.0 200.1L497.0 202.3L498.0 205.0L499.0 208.7L500.0 208.0L501.0 212.2L502.0 216.4L503.0 219.9L504.0 222.3L505.0 220.4L506.0 221.9L507.0 224.7L508.0 226.8L509.0 228.7L510.0 230.8L511.0 230.2L512.0 230.2L513.0 233.6L514.0 237.3L515.0 238.3L516.0 239.0L517.0 242.2L518.0 243.4L519.0 245.7L520.0 247.5L521.0 247.3L522.0 249.5L523.0 251.5L524.0 252.7L525.0 254.2L526.0 254.9L527.0 258.4L528.0 261.3L529.0 262.2L530.0 264.4L531.0 264.6L532.0 264.0L533.0 265.1L534.0 265.9L535.0 265.6L536.0 266.3L537.0 266.4L538.0 265.5L539.0 267.0L540.0 268.9L541.0 268.0L542.0 268.2L543.0 268.8L544.0 268.5L545.0 268.4L546.0 268.5L547.0 268.7L548.0 271.6L549.0 274.2L550.0 276.3L551.0 278.1L552.0 279.0L553.0 280.0L554.0 280.1L555.0 280.8L556.0 281.9L557.0 282.4L558.0 282.6L559.0 283.1L560.0 284.1L561.0 285.1L562.0 284.9L563.0 285.3L564.0 286.4L565.0 287.3L566.0 287.9L567.0 288.8L568.0 289.8L569.0 291.0L570.0 292.4L571.0 293.3L572.0 294.3L573.0 295.6L574.0 296.6L575.0 297.7L576.0 298.8L577.0 299.8L578.0 300.9L579.0 301.7L580.0 302.8L581.0 303.4L582.0 303.4L583.0 303.5L584.0 304.0L585.0 304.3L586.0 304.6L587.0 305.0L588.0 305.3L589.0 305.6L590.0 305.7L591.0 305.8L592.0 305.9L593.0 306.1L594.0 306.2L595.0 306.3"/>
<path d="M328.0 301.0L329.0 301.0L330.0 301.0L331.0 301.0L332.0 301.0L333.0 301.0L334.0 301.0L335.0 301.0L336.0 301.0L337.0 301.0L338.0 301.0L339.0 301.0L340.0 301.0L341.0 301.0L342.0 301.0L343.0 301.0L344.0 300.9L345.0 300.9L346.0 300.9L347.0 300.9L348.0 301.0L349.0 300.9L350.0 300.9L351.0 300.9L352.0 300.9L353.0 300.9L354.0 300.9L355.0 300.9L356.0 300.9L357.0 300.9L358.0 300.9L359.0 300.9L360.0 300.8L361.0 300.8L362.0 300.9L363.0 300.9L364.0 300.9L365.0 300.9L366.0 300.8L367.0 300.9L368.0 301.0L369.0 301.0L370.0 300.9L371.0 300.9L372.0 300.9L373.0 300.9L374.0 300.4L375.0 300.0L376.0 299.7L377.0 299.3L378.0 297.8L379.0 296.3L380.0 295.4L381.0 293.1L382.0 289.7L383.0 287.6L384.0 285.9L385.0 283.3L386.0 280.1L387.0 274.6L388.0 266.0L389.0 261.2L390.0 260.3L391.0 258.5L392.0 252.7L393.0 245.2L394.0 234.4L395.0 229.4L396.0 223.8L397.0 218.5L398.0 215.8L399.0 213.7L400.0 211.8L401.0 207.5L402.0 203.5L403.0 198.9L404.0 195.1L405.0 192.0L406.0 188.3L407.0 186.9L408.0 182.4L409.0 179.3L410.0 179.9L411.0 176.3L412.0 173.5L413.0 174.5L414.0 172.6L415.0 173.4L416.0 175.3L417.0 173.3L418.0 167.2L419.0 166.7L420.0 169.1L421.0 164.1L422.0 163.2L423.0 168.2L424.0 166.0L425.0 163.5L426.0 162.3L427.0 162.8L428.0 166.7L429.0 164.4L430.0 163.3L431.0 161.3L432.0 161.0L433.0 161.5L434.0 161.9L435.0 161.7L436.0 158.7L437.0 157.6L438.0 154.9L439.0 153.4L440.0 154.0L441.0 155.4L442.0 155.8L443.0 155.2L444.0 154.2L445.0 152.2L446.0 150.6L447.0 150.1L448.0 149.1L449.0 150.2L450.0 148.9L451.0 148.1L452.0 148.9L453.0 144.4L454.0 146.5L455.0 148.1L456.0 147.1L457.0 149.0L458.0 148.2L459.0 147.0L460.0 145.6L461.0 143.9L462.0 145.3L463.0 149.4L464.0 149.2L465.0 148.8L466.0 151.1L467.0 150.8L468.0 148.0L469.0 147.7L470.0 149.6L471.0 151.5L472.0 152.7L473.0 152.5L474.0 156.6L475.0 157.4L476.0 157.1L477.0 161.9L478.0 159.7L479.0 160.8L480.0 167.1L481.0 165.2L482.0 165.9L483.0 172.1L484.0 173.4L485.0 174.6L486.0 177.9L487.0 179.1L488.0 182.1L489.0 184.9L490.0 186.4L491.0 186.8L492.0 188.2L493.0 193.5L494.0 200.2L495.0 202.9L496.0 202.8L497.0 203.9L498.0 206.8L499.0 208.3L500.0 208.9L501.0 211.3L502.0 214.0L503.0 215.6L504.0 217.9L505.0 217.6L506.0 218.1L507.0 222.9L508.0 224.9L509.0 225.0L510.0 226.5L511.0 230.3L512.0 233.5L513.0 235.7L514.0 236.6L515.0 237.8L516.0 239.3L517.0 238.7L518.0 240.7L519.0 243.5L520.0 244.7L521.0 246.0L522.0 246.9L523.0 249.9L524.0 252.4L525.0 253.5L526.0 255.3L527.0 257.5L528.0 260.4L529.0 261.9L530.0 263.3L531.0 263.4L532.0 263.3L533.0 264.4L534.0 264.5L535.0 264.7L536.0 266.0L537.0 266.1L538.0 265.5L539.0 266.0L540.0 266.6L541.0 266.2L542.0 267.4L543.0 268.3L544.0 268.0L545.0 267.9L546.0 268.2L547.0 268.5L548.0 271.6L549.0 274.6L550.0 276.2L551.0 278.1L552.0 278.8L553.0 279.5L554.0 280.1L555.0 280.6L556.0 281.2L557.0 281.8L558.0 282.2L559.0 282.7L560.0 283.4L561.0 283.9L562.0 284.5L563.0 285.6L564.0 286.6L565.0 287.0L566.0 287.7L567.0 288.7L568.0 290.0L569.0 291.2L570.0 292.3L571.0 293.1L572.0 294.2L573.0 295.3L574.0 296.2L575.0 297.2L576.0 298.4L577.0 299.6L578.0 300.6L579.0 301.5L580.0 302.5L581.0 302.9L582.0 303.3L583.0 303.6L584.0 303.9L585.0 304.1L586.0 304.6L587.0 304.7L588.0 305.0L589.0 305.3L590.0 305.5L591.0 305.6L592.0 305.9L593.0 306.0L594.0 306.0L595.0 306.3"/>
<path d="M328.0 301.0L329.0 301.0L330.0 301.0L331.0 301.0L332.0 301.0L333.0 301.0L334.0 301.0L335.0 301.0L336.0 301.0L337.0 301.0L338.0 300.9L339.0 300.9L340.0 300.9L341.0 301.0L342.0 301.0L343.0 300.9L344.0 300.9L345.0 300.9L346.0 300.9L347.0 300.9L348.0 300.9L349.0 300.9L350.0 300.9L351.0 300.9L352.0 300.9L353.0 300.9L354.0 300.9L355.0 300.9L356.0 300.9L357.0 300.9L358.0 300.9L359.0 300.9L360.0 300.9L361.0 300.8L362.0 300.9L363.0 301.0L364.0 300.9L365.0 300.9L366.0 300.9L367.0 300.9L368.0 300.9L369.0 300.9L370.0 300.9L371.0 300.8L372.0 300.7L373.0 300.7L374.0 300.3L375.0 299.8L376.0 299.4L377.0 299.2L378.0 297.6L379.0 295.7L380.0 294.5L381.0 292.5L382.0 290.6L383.0 288.6L384.0 285.1L385.0 282.2L386.0 278.3L387.0 274.2L388.0 269.0L389.0 264.2L390.0 259.0L391.0 251.4L392.0 248.8L393.0 244.9L394.0 238.3L395.0 230.4L396.0 225.3L397.0 221.1L398.0 211.5L399.0 208.8L400.0 209.0L401.0 205.2L402.0 201.1L403.0 197.1L404.0 189.7L405.0 185.4L406.0 184.7L407.0 185.6L408.0 182.0L409.0 178.7L410.0 176.2L411.0 173.9L412.0 175.2L413.0 174.5L414.0 175.1L415.0 174.0L416.0 170.8L417.0 171.9L418.0 170.1L419.0 167.7L420.0 169.4L421.0 167.6L422.0 165.1L423.0 163.5L424.0 160.8L425.0 159.5L426.0 157.5L427.0 156.8L428.0 157.2L429.0 159.8L430.0 158.3L431.0 155.2L432.0 156.5L433.0 158.1L434.0 159.4L435.0 159.2L436.0 158.9L437.0 159.2L438.0 156.9L439.0 155.2L440.0 154.9L441.0 155.5L442.0 151.9L443.0 149.3L444.0 153.2L445.0 151.8L446.0 151.9L447.0 152.4L448.0 150.1L449.0 148.9L450.0 149.6L451.0 150.8L452.0 149.2L453.0 145.9L454.0 145.1L455.0 147.4L456.0 147.9L457.0 145.1L458.0 143.6L459.0 145.8L460.0 146.9L461.0 145.3L462.0 146.5L463.0 150.9L464.0 149.5L465.0 145.0L466.0 146.9L467.0 148.3L468.0 147.7L469.0 149.2L470.0 148.0L471.0 147.2L472.0 153.1L473.0 154.7L474.0 157.0L475.0 159.1L476.0 159.3L477.0 162.1L478.0 161.5L479.0 161.7L480.0 164.6L481.0 168.2L482.0 169.5L483.0 174.2L484.0 173.7L485.0 173.9L486.0 177.9L487.0 180.4L488.0 183.8L489.0 185.8L490.0 185.9L491.0 187.9L492.0 192.8L493.0 196.1L494.0 195.4L495.0 197.3L496.0 200.5L497.0 200.3L498.0 202.6L499.0 204.8L500.0 206.5L501.0 211.7L502.0 215.2L503.0 216.0L504.0 217.1L505.0 217.7L506.0 219.9L507.0 223.0L508.0 224.8L509.0 226.8L510.0 227.6L511.0 228.5L512.0 232.4L513.0 232.9L514.0 232.3L515.0 234.2L516.0 238.1L517.0 240.8L518.0 241.1L519.0 241.6L520.0 243.3L521.0 246.6L522.0 248.3L523.0 249.0L524.0 250.3L525.0 252.9L526.0 256.4L527.0 257.3L528.0 256.9L529.0 260.6L530.0 263.9L531.0 263.2L532.0 263.1L533.0 263.1L534.0 263.7L535.0 264.7L536.0 265.3L537.0 265.4L538.0 264.9L539.0 265.2L540.0 265.7L541.0 266.9L542.0 266.9L543.0 266.6L544.0 267.5L545.0 268.0L546.0 267.7L547.0 268.3L548.0 271.3L549.0 274.0L550.0 276.0L551.0 277.8L552.0 278.6L553.0 279.6L554.0 279.9L555.0 280.4L556.0 281.3L557.0 281.8L558.0 281.7L559.0 282.2L560.0 283.5L561.0 284.2L562.0 284.5L563.0 285.6L564.0 286.6L565.0 286.6L566.0 287.4L567.0 288.5L568.0 289.8L569.0 291.1L570.0 292.0L571.0 293.4L572.0 294.6L573.0 295.1L574.0 295.8L575.0 297.2L576.0 298.3L577.0 299.8L578.0 300.5L579.0 301.3L580.0 302.5L581.0 302.9L582.0 303.2L583.0 303.3L584.0 303.7L585.0 304.2L586.0 304.5L587.0 304.6L588.0 305.1L589.0 305.5L590.0 305.6L591.0 305.5L592.0 305.6L593.0 305.8L594.0 305.9L595.0 306.2"/>
<path d="M49 249 L49 301 M147.2 190.0 L148.4 148.0 L149.6 190.0 M154.8 188.0 L156.0 127.5 L157.2 188.0 M183 172 L185 160 L187 156.5 L189 160 L191 172 M204 186 L206 176 L207.5 173.5 L209 178 L210.5 192 M239.3 262.0 L240.3 205.0 L241.3 262.0 M284.5 291.0 L285.3 235.0 L286.1 291.0 M329 220 L329 301 M417 190 L419 170 L421 150 L422.6 136 L424 152 L426 166 L427.5 172 M405 212 L407.5 186 L408.5 179 L410 190 L411 200 M432 170 L435 152 L436.8 147.4 L438.5 153 L441 164 M454 150 L457 138 L459 133 L461 140 L463 148 L465.5 135 L467.3 129 L469 136 L471 150 L474 158 M484 178 L486.5 171 L488.6 169.8 L490.5 176 L492 190 M497.5 207 L499 199 L500.5 204 L502 216 M519.4 247 L520.6 223.5 L521.8 251 M505.5 224 L507 212.5 L508.5 216 L509.5 230"/>
</g>
<g clip-path="url(#call)"><path d="M245.4 268 L245.7 215 L246.2 190 L246.8 184.3 L248.4 184.3 L249.2 192 L250 214 L252 214.3 L253.1 215 L254 205 L255 195.5 L256 190 L256.9 188 L257.8 189 L258.75 191.75 L259.6 199 L260.5 210 L261.4 196 L262 193 L263 193 L263.75 200 L264.6 225 L265.6 248.75 L267 266 L268.75 280 L266 276 L264 268 L262 272 L260 266 L258 273 L256 262 L254 271 L252 265 L250 268 L247.5 267.5 Z" fill="#fff" stroke="#fff" stroke-width="0.8" stroke-linejoin="round"/><path d="M525.6 222 L525.8 215 L526.3 180 L527 166 L528.8 165.5 L529.4 172 L530 186 L530.6 191.75 L531.2 186 L531.8 176 L532.5 173 L533.5 173.5 L534.4 178 L535.3 180 L536.2 179 L537 174.5 L538 173.6 L539.2 174.5 L540 175 L540.8 173 L541.8 172.4 L543 173 L544 180 L545 189 L546 199 L546.9 208 L547.5 222 Z M525.6 220 L531.9 220 L531.5 262 L528 266 L525.8 262 Z M538.6 220 L542 215 L541.6 250 L540.2 254 L539 250 Z M545 215 L547.5 215 L549.4 245 L550.6 278 L548 268 L546 264 L545.2 250 Z M536.2 219 L537.9 219 L537.5 250 L536.8 252 Z" fill="#fff" stroke="#fff" stroke-width="0.8" stroke-linejoin="round"/></g>
<text class="ti" x="182" y="15.2" text-anchor="middle" textLength="180" lengthAdjust="spacingAndGlyphs">29.4 (HexS8=1044) X</text>
<text class="ti" x="462.1" y="15.2" text-anchor="middle" textLength="179.5" lengthAdjust="spacingAndGlyphs">29.4 (HexS8=1044) Y</text>
<text transform="translate(32.3,41.5) scale(1.06,1)" text-anchor="end">On</text>
<text transform="translate(612.3,41.5) scale(1.04,1)">On</text>
<text transform="translate(32.3,58.2) scale(1.06,1)" text-anchor="end">Y</text>
<text transform="translate(612.3,58.2) scale(1.04,1)">Y</text>
<text transform="translate(32.3,74.9) scale(1.06,1)" text-anchor="end">Off</text>
<text transform="translate(612.3,74.9) scale(1.04,1)">Off</text>
<text transform="translate(32.3,91.6) scale(1.06,1)" text-anchor="end">P</text>
<text transform="translate(612.3,91.6) scale(1.04,1)">P</text>
<text transform="translate(32.3,108.4) scale(1.06,1)" text-anchor="end">O</text>
<text transform="translate(612.3,108.4) scale(1.04,1)">O</text>
<text transform="translate(32.3,125.1) scale(1.06,1)" text-anchor="end">N</text>
<text transform="translate(612.3,125.1) scale(1.04,1)">N</text>
<text transform="translate(32.3,141.8) scale(1.06,1)" text-anchor="end">M</text>
<text transform="translate(612.3,141.8) scale(1.04,1)">M</text>
<text transform="translate(32.3,158.6) scale(1.06,1)" text-anchor="end">L</text>
<text transform="translate(612.3,158.6) scale(1.04,1)">L</text>
<text transform="translate(32.3,175.3) scale(1.06,1)" text-anchor="end">K</text>
<text transform="translate(612.3,175.3) scale(1.04,1)">K</text>
<text transform="translate(32.3,192.0) scale(1.06,1)" text-anchor="end">J</text>
<text transform="translate(612.3,192.0) scale(1.04,1)">J</text>
<text transform="translate(32.3,208.7) scale(1.06,1)" text-anchor="end">I</text>
<text transform="translate(612.3,208.7) scale(1.04,1)">I</text>
<text transform="translate(32.3,225.5) scale(1.06,1)" text-anchor="end">H</text>
<text transform="translate(612.3,225.5) scale(1.04,1)">H</text>
<text transform="translate(32.3,242.2) scale(1.06,1)" text-anchor="end">G</text>
<text transform="translate(612.3,242.2) scale(1.04,1)">G</text>
<text transform="translate(32.3,258.9) scale(1.06,1)" text-anchor="end">F</text>
<text transform="translate(612.3,258.9) scale(1.04,1)">F</text>
<text transform="translate(32.3,275.6) scale(1.06,1)" text-anchor="end">E</text>
<text transform="translate(612.3,275.6) scale(1.04,1)">E</text>
<text transform="translate(32.3,292.4) scale(1.06,1)" text-anchor="end">D</text>
<text transform="translate(612.3,292.4) scale(1.04,1)">D</text>
<text transform="translate(32.3,309.1) scale(1.06,1)" text-anchor="end">C</text>
<text transform="translate(612.3,309.1) scale(1.04,1)">C</text>
<text transform="translate(32.3,325.8) scale(1.06,1)" text-anchor="end">B</text>
<text transform="translate(612.3,325.8) scale(1.04,1)">B</text>
<text transform="translate(32.3,342.6) scale(1.06,1)" text-anchor="end">A</text>
<text transform="translate(612.3,342.6) scale(1.04,1)">A</text>
<text transform="translate(32.3,359.3) scale(1.06,1)" text-anchor="end">Off</text>
<text transform="translate(612.3,359.3) scale(1.04,1)">Off</text>
<text transform="translate(32.3,376.0) scale(1.06,1)" text-anchor="end">X</text>
<text transform="translate(612.3,376.0) scale(1.04,1)">X</text>
<text transform="translate(32.3,392.7) scale(1.06,1)" text-anchor="end">On</text>
<text transform="translate(612.3,392.7) scale(1.04,1)">On</text>
<line x1="49.35" x2="49.35" y1="408.3" y2="413.2" stroke="#222" stroke-width="1"/>
<text x="49.35" y="425.5" text-anchor="middle" class="xt">0</text>
<line x1="90.00" x2="90.00" y1="408.3" y2="413.2" stroke="#222" stroke-width="1"/>
<text x="90.00" y="425.5" text-anchor="middle" class="xt">50</text>
<line x1="130.65" x2="130.65" y1="408.3" y2="413.2" stroke="#222" stroke-width="1"/>
<text x="130.65" y="425.5" text-anchor="middle" class="xt">100</text>
<line x1="171.30" x2="171.30" y1="408.3" y2="413.2" stroke="#222" stroke-width="1"/>
<text x="171.30" y="425.5" text-anchor="middle" class="xt">150</text>
<line x1="211.95" x2="211.95" y1="408.3" y2="413.2" stroke="#222" stroke-width="1"/>
<text x="211.95" y="425.5" text-anchor="middle" class="xt">200</text>
<line x1="252.60" x2="252.60" y1="408.3" y2="413.2" stroke="#222" stroke-width="1"/>
<text x="252.60" y="425.5" text-anchor="middle" class="xt">250</text>
<line x1="293.25" x2="293.25" y1="408.3" y2="413.2" stroke="#222" stroke-width="1"/>
<text x="293.25" y="425.5" text-anchor="middle" class="xt">300</text>
<line x1="329.35" x2="329.35" y1="408.3" y2="413.2" stroke="#222" stroke-width="1"/>
<text x="329.35" y="425.5" text-anchor="middle" class="xt">0</text>
<line x1="370.00" x2="370.00" y1="408.3" y2="413.2" stroke="#222" stroke-width="1"/>
<text x="370.00" y="425.5" text-anchor="middle" class="xt">50</text>
<line x1="410.65" x2="410.65" y1="408.3" y2="413.2" stroke="#222" stroke-width="1"/>
<text x="410.65" y="425.5" text-anchor="middle" class="xt">100</text>
<line x1="451.30" x2="451.30" y1="408.3" y2="413.2" stroke="#222" stroke-width="1"/>
<text x="451.30" y="425.5" text-anchor="middle" class="xt">150</text>
<line x1="491.95" x2="491.95" y1="408.3" y2="413.2" stroke="#222" stroke-width="1"/>
<text x="491.95" y="425.5" text-anchor="middle" class="xt">200</text>
<line x1="532.60" x2="532.60" y1="408.3" y2="413.2" stroke="#222" stroke-width="1"/>
<text x="532.60" y="425.5" text-anchor="middle" class="xt">250</text>
<line x1="573.25" x2="573.25" y1="408.3" y2="413.2" stroke="#222" stroke-width="1"/>
<text x="573.25" y="425.5" text-anchor="middle" class="xt">300</text>
<text transform="translate(3.4,217) rotate(-90)" text-anchor="middle" textLength="42" lengthAdjust="spacingAndGlyphs">Dipole</text>
</svg>
</body></html>
